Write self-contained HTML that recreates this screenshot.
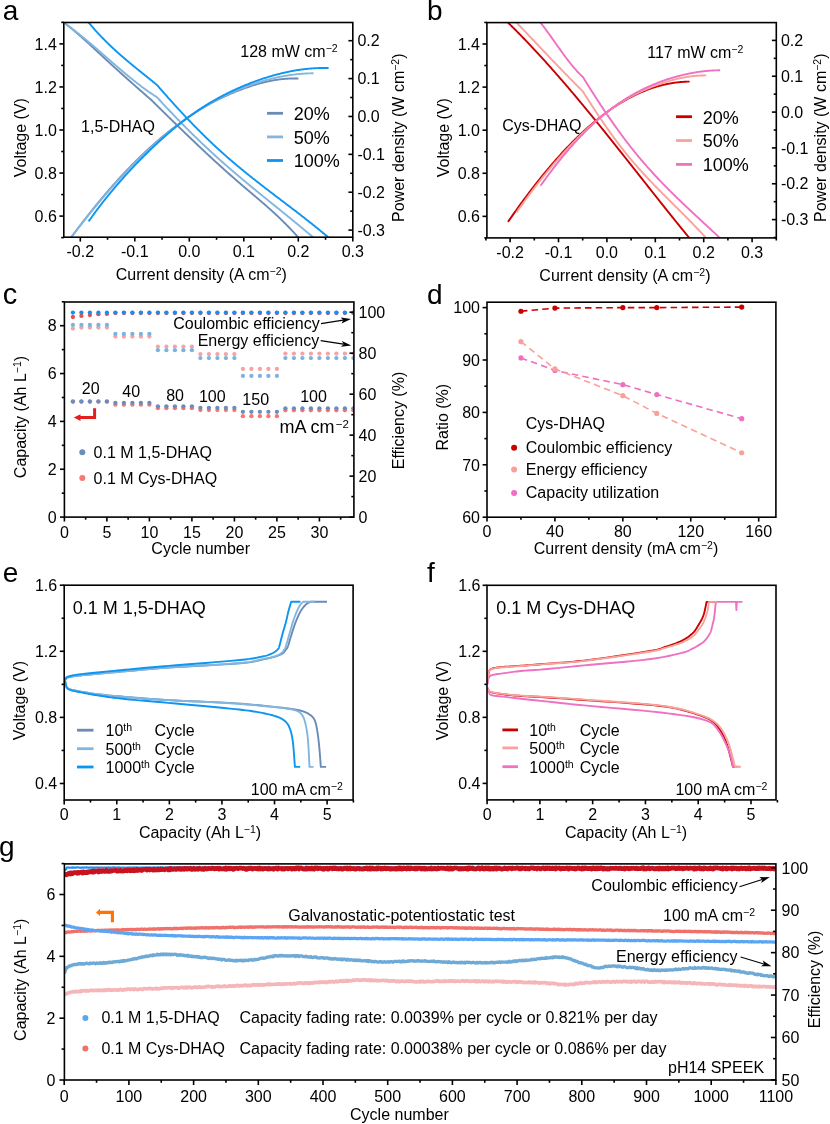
<!DOCTYPE html>
<html><head><meta charset="utf-8"><style>
html,body{margin:0;padding:0;background:#fff;overflow:hidden;}
svg{display:block;will-change:transform;}
svg text{font-family:"Liberation Sans",sans-serif;}
</style></head><body>
<svg width="830" height="1124" viewBox="0 0 830 1124">
<rect width="830" height="1124" fill="#fff"/>
<clipPath id="ca"><rect x="63.8" y="22.5" width="289" height="214.7"/></clipPath>
<polyline points="63.8,22.5 64.5,23.02 65.2,23.55 65.9,24.08 66.59,24.62 67.29,25.16 67.99,25.7 68.69,26.26 69.39,26.81 70.09,27.37 70.78,27.94 71.48,28.5 72.18,29.08 72.88,29.65 73.58,30.23 74.28,30.82 74.97,31.41 75.67,32 76.37,32.59 77.07,33.19 77.77,33.79 78.47,34.4 79.16,35.01 79.86,35.62 80.56,36.23 81.26,36.85 81.96,37.46 82.66,38.09 83.36,38.71 84.05,39.34 84.75,39.96 85.45,40.59 86.15,41.23 86.85,41.86 87.55,42.5 88.24,43.13 88.94,43.77 89.64,44.41 90.34,45.06 91.04,45.7 91.74,46.34 92.43,46.99 93.13,47.64 93.83,48.28 94.53,48.93 95.23,49.58 95.93,50.23 96.62,50.88 97.32,51.53 98.02,52.18 98.72,52.83 99.42,53.48 100.12,54.13 100.82,54.78 101.51,55.43 102.21,56.08 102.91,56.72 103.61,57.37 104.31,58.02 105.01,58.66 105.7,59.31 106.4,59.95 107.1,60.6 107.8,61.24 108.5,61.88 109.2,62.52 109.89,63.17 110.59,63.8 111.29,64.44 111.99,65.08 112.69,65.72 113.39,66.36 114.08,66.99 114.78,67.63 115.48,68.26 116.18,68.9 116.88,69.53 117.58,70.16 118.28,70.79 118.97,71.42 119.67,72.05 120.37,72.68 121.07,73.31 121.77,73.94 122.47,74.57 123.16,75.2 123.86,75.82 124.56,76.45 125.26,77.07 125.96,77.7 126.66,78.32 127.35,78.94 128.05,79.57 128.75,80.19 129.45,80.81 130.15,81.43 130.85,82.05 131.54,82.67 132.24,83.29 132.94,83.91 133.64,84.52 134.34,85.14 135.04,85.76 135.74,86.37 136.43,86.99 137.13,87.6 137.83,88.22 138.53,88.83 139.23,89.45 139.93,90.06 140.62,90.67 141.32,91.28 142.02,91.89 142.72,92.5 143.42,93.11 144.12,93.72 144.81,94.33 145.51,94.94 146.21,95.55 146.91,96.16 147.61,96.77 148.31,97.37 149,97.98 149.7,98.59 150.4,99.19 151.1,99.8 151.1,99.8 151.8,100.49 152.5,101.17 153.19,101.86 153.89,102.55 154.59,103.23 155.29,103.92 155.99,104.61 156.68,105.29 157.38,105.98 158.08,106.66 158.78,107.35 159.48,108.03 160.18,108.72 160.87,109.41 161.57,110.09 162.27,110.78 162.97,111.46 163.67,112.14 164.36,112.83 165.06,113.51 165.76,114.2 166.46,114.88 167.16,115.56 167.85,116.24 168.55,116.93 169.25,117.61 169.95,118.29 170.65,118.97 171.35,119.65 172.04,120.33 172.74,121.02 173.44,121.7 174.14,122.38 174.84,123.05 175.53,123.73 176.23,124.41 176.93,125.09 177.63,125.77 178.33,126.45 179.02,127.12 179.72,127.8 180.42,128.48 181.12,129.15 181.82,129.83 182.51,130.5 183.21,131.17 183.91,131.85 184.61,132.52 185.31,133.19 186.01,133.87 186.7,134.54 187.4,135.21 188.1,135.88 188.8,136.55 189.5,137.22 190.19,137.89 190.89,138.55 191.59,139.22 192.29,139.89 192.99,140.55 193.68,141.22 194.38,141.88 195.08,142.55 195.78,143.21 196.48,143.87 197.17,144.54 197.87,145.2 198.57,145.86 199.27,146.52 199.97,147.18 200.67,147.84 201.36,148.49 202.06,149.15 202.76,149.81 203.46,150.46 204.16,151.12 204.85,151.77 205.55,152.42 206.25,153.08 206.95,153.73 207.65,154.38 208.34,155.03 209.04,155.68 209.74,156.32 210.44,156.97 211.14,157.62 211.84,158.26 212.53,158.91 213.23,159.55 213.93,160.19 214.63,160.84 215.33,161.48 216.02,162.12 216.72,162.75 217.42,163.39 218.12,164.03 218.82,164.66 219.51,165.3 220.21,165.93 220.91,166.57 221.61,167.2 222.31,167.83 223,168.46 223.7,169.09 224.4,169.71 225.1,170.34 225.8,170.97 226.5,171.59 227.19,172.21 227.89,172.84 228.59,173.46 229.29,174.08 229.99,174.69 230.68,175.31 231.38,175.93 232.08,176.54 232.78,177.16 233.48,177.77 234.17,178.38 234.87,178.99 235.57,179.6 236.27,180.21 236.97,180.82 237.66,181.42 238.36,182.02 239.06,182.63 239.76,183.23 240.46,183.83 241.16,184.43 241.85,185.03 242.55,185.62 243.25,186.22 243.95,186.81 244.65,187.41 245.34,188 246.04,188.59 246.74,189.19 247.44,189.78 248.14,190.37 248.83,190.96 249.53,191.55 250.23,192.14 250.93,192.73 251.63,193.32 252.33,193.91 253.02,194.5 253.72,195.1 254.42,195.69 255.12,196.28 255.82,196.87 256.51,197.47 257.21,198.06 257.91,198.66 258.61,199.25 259.31,199.85 260,200.45 260.7,201.05 261.4,201.65 262.1,202.25 262.8,202.85 263.49,203.46 264.19,204.07 264.89,204.67 265.59,205.28 266.29,205.9 266.99,206.51 267.68,207.13 268.38,207.75 269.08,208.37 269.78,208.99 270.48,209.61 271.17,210.24 271.87,210.87 272.57,211.5 273.27,212.14 273.97,212.78 274.66,213.42 275.36,214.06 276.06,214.71 276.76,215.36 277.46,216.02 278.15,216.67 278.85,217.34 279.55,218 280.25,218.67 280.95,219.34 281.65,220.01 282.34,220.69 283.04,221.38 283.74,222.07 284.44,222.76 285.14,223.45 285.83,224.15 286.53,224.86 287.23,225.57 287.93,226.28 288.63,227 289.32,227.72 290.02,228.45 290.72,229.18 291.42,229.92 292.12,230.66 292.82,231.41 293.51,232.16 294.21,232.92 294.91,233.69 295.61,234.46 296.31,235.23 297,236.01 297.7,236.8 298.4,237.59" fill="none" stroke="#6b8bb6" stroke-width="1.9" stroke-linejoin="round" stroke-linecap="butt" clip-path="url(#ca)"/>
<polyline points="63.8,247.26 64.5,246.31 65.2,245.36 65.89,244.41 66.59,243.47 67.29,242.52 67.99,241.58 68.69,240.64 69.39,239.69 70.08,238.76 70.78,237.82 71.48,236.88 72.18,235.95 72.88,235.02 73.57,234.09 74.27,233.16 74.97,232.23 75.67,231.31 76.37,230.38 77.07,229.46 77.76,228.54 78.46,227.63 79.16,226.71 79.86,225.8 80.56,224.89 81.26,223.98 81.95,223.07 82.65,222.17 83.35,221.27 84.05,220.37 84.75,219.47 85.44,218.57 86.14,217.68 86.84,216.79 87.54,215.9 88.24,215.02 88.94,214.13 89.63,213.25 90.33,212.38 91.03,211.5 91.73,210.63 92.43,209.76 93.12,208.89 93.82,208.02 94.52,207.16 95.22,206.3 95.92,205.45 96.62,204.59 97.31,203.74 98.01,202.89 98.71,202.05 99.41,201.2 100.11,200.36 100.81,199.52 101.5,198.69 102.2,197.86 102.9,197.03 103.6,196.2 104.3,195.38 104.99,194.56 105.69,193.74 106.39,192.92 107.09,192.11 107.79,191.3 108.49,190.49 109.18,189.69 109.88,188.89 110.58,188.09 111.28,187.29 111.98,186.5 112.67,185.71 113.37,184.92 114.07,184.13 114.77,183.35 115.47,182.57 116.17,181.8 116.86,181.02 117.56,180.25 118.26,179.48 118.96,178.72 119.66,177.96 120.36,177.2 121.05,176.44 121.75,175.69 122.45,174.94 123.15,174.19 123.85,173.45 124.54,172.7 125.24,171.96 125.94,171.23 126.64,170.49 127.34,169.76 128.04,169.04 128.73,168.31 129.43,167.59 130.13,166.87 130.83,166.15 131.53,165.44 132.22,164.73 132.92,164.02 133.62,163.32 134.32,162.62 135.02,161.92 135.72,161.22 136.41,160.53 137.11,159.84 137.81,159.15 138.51,158.47 139.21,157.79 139.91,157.11 140.6,156.43 141.3,155.76 142,155.09 142.7,154.42 143.4,153.76 144.09,153.1 144.79,152.44 145.49,151.78 146.19,151.13 146.89,150.48 147.59,149.83 148.28,149.19 148.98,148.55 149.68,147.91 150.38,147.28 151.08,146.64 151.77,146.01 152.47,145.39 153.17,144.76 153.87,144.14 154.57,143.53 155.27,142.91 155.96,142.3 156.66,141.69 157.36,141.09 158.06,140.48 158.76,139.88 159.46,139.29 160.15,138.69 160.85,138.1 161.55,137.51 162.25,136.93 162.95,136.34 163.64,135.76 164.34,135.19 165.04,134.61 165.74,134.04 166.44,133.47 167.14,132.91 167.83,132.35 168.53,131.79 169.23,131.23 169.93,130.68 170.63,130.13 171.32,129.58 172.02,129.04 172.72,128.49 173.42,127.96 174.12,127.42 174.82,126.89 175.51,126.36 176.21,125.83 176.91,125.31 177.61,124.79 178.31,124.27 179.01,123.75 179.7,123.24 180.4,122.73 181.1,122.23 181.8,121.72 182.5,121.22 183.19,120.72 183.89,120.23 184.59,119.74 185.29,119.25 185.99,118.76 186.69,118.28 187.38,117.8 188.08,117.33 188.78,116.85 189.48,116.38 190.18,115.91 190.87,115.45 191.57,114.99 192.27,114.53 192.97,114.07 193.67,113.62 194.37,113.17 195.06,112.72 195.76,112.28 196.46,111.83 197.16,111.4 197.86,110.96 198.56,110.53 199.25,110.1 199.95,109.67 200.65,109.25 201.35,108.83 202.05,108.41 202.74,107.99 203.44,107.58 204.14,107.17 204.84,106.77 205.54,106.36 206.24,105.96 206.93,105.57 207.63,105.17 208.33,104.78 209.03,104.39 209.73,104.01 210.42,103.62 211.12,103.24 211.82,102.87 212.52,102.49 213.22,102.12 213.92,101.75 214.61,101.39 215.31,101.03 216.01,100.67 216.71,100.31 217.41,99.96 218.11,99.6 218.8,99.26 219.5,98.91 220.2,98.57 220.9,98.23 221.6,97.89 222.29,97.56 222.99,97.22 223.69,96.9 224.39,96.57 225.09,96.25 225.79,95.92 226.48,95.61 227.18,95.29 227.88,94.98 228.58,94.67 229.28,94.36 229.97,94.05 230.67,93.75 231.37,93.45 232.07,93.15 232.77,92.86 233.47,92.57 234.16,92.28 234.86,91.99 235.56,91.7 236.26,91.42 236.96,91.14 237.66,90.86 238.35,90.59 239.05,90.32 239.75,90.05 240.45,89.78 241.15,89.51 241.84,89.25 242.54,88.99 243.24,88.73 243.94,88.48 244.64,88.22 245.34,87.97 246.03,87.73 246.73,87.48 247.43,87.24 248.13,87 248.83,86.76 249.52,86.53 250.22,86.3 250.92,86.07 251.62,85.84 252.32,85.62 253.02,85.4 253.71,85.18 254.41,84.97 255.11,84.76 255.81,84.55 256.51,84.34 257.21,84.14 257.9,83.94 258.6,83.75 259.3,83.55 260,83.36 260.7,83.18 261.39,82.99 262.09,82.81 262.79,82.64 263.49,82.46 264.19,82.29 264.89,82.13 265.58,81.96 266.28,81.8 266.98,81.65 267.68,81.49 268.38,81.34 269.07,81.2 269.77,81.05 270.47,80.91 271.17,80.78 271.87,80.64 272.57,80.52 273.26,80.39 273.96,80.27 274.66,80.15 275.36,80.04 276.06,79.93 276.76,79.82 277.45,79.72 278.15,79.62 278.85,79.52 279.55,79.43 280.25,79.34 280.94,79.26 281.64,79.18 282.34,79.11 283.04,79.03 283.74,78.97 284.44,78.9 285.13,78.84 285.83,78.79 286.53,78.74 287.23,78.69 287.93,78.65 288.62,78.61 289.32,78.57 290.02,78.54 290.72,78.52 291.42,78.5 292.12,78.48 292.81,78.47 293.51,78.46 294.21,78.45 294.91,78.45 295.61,78.46 296.31,78.47 297,78.48 297.7,78.5 298.4,78.52" fill="none" stroke="#6b8bb6" stroke-width="1.9" stroke-linejoin="round" stroke-linecap="butt" clip-path="url(#ca)"/>
<polyline points="63.8,22.5 64.5,22.99 65.19,23.49 65.89,23.98 66.58,24.49 67.28,24.99 67.97,25.5 68.67,26.02 69.36,26.53 70.06,27.06 70.76,27.58 71.45,28.11 72.15,28.64 72.84,29.17 73.54,29.71 74.23,30.25 74.93,30.79 75.62,31.33 76.32,31.88 77.01,32.43 77.71,32.98 78.41,33.54 79.1,34.1 79.8,34.66 80.49,35.22 81.19,35.79 81.88,36.36 82.58,36.93 83.27,37.5 83.97,38.07 84.67,38.65 85.36,39.23 86.06,39.81 86.75,40.39 87.45,40.97 88.14,41.56 88.84,42.15 89.53,42.73 90.23,43.32 90.93,43.92 91.62,44.51 92.32,45.1 93.01,45.7 93.71,46.3 94.4,46.89 95.1,47.49 95.79,48.09 96.49,48.69 97.19,49.29 97.88,49.9 98.58,50.5 99.27,51.1 99.97,51.71 100.66,52.31 101.36,52.92 102.05,53.53 102.75,54.13 103.44,54.74 104.14,55.34 104.84,55.95 105.53,56.56 106.23,57.17 106.92,57.77 107.62,58.38 108.31,58.99 109.01,59.59 109.7,60.2 110.4,60.8 111.1,61.41 111.79,62.01 112.49,62.62 113.18,63.22 113.88,63.83 114.57,64.43 115.27,65.03 115.96,65.63 116.66,66.23 117.36,66.83 118.05,67.43 118.75,68.02 119.44,68.62 120.14,69.21 120.83,69.8 121.53,70.4 122.22,70.99 122.92,71.57 123.61,72.16 124.31,72.75 125.01,73.33 125.7,73.91 126.4,74.49 127.09,75.07 127.79,75.64 128.48,76.22 129.18,76.79 129.87,77.36 130.57,77.93 131.27,78.49 131.96,79.05 132.66,79.61 133.35,80.17 134.05,80.73 134.74,81.28 135.44,81.83 136.13,82.38 136.83,82.92 137.53,83.46 138.22,84 138.92,84.54 139.61,85.07 140.31,85.6 141,86.13 141.7,86.65 142.39,87.17 143.09,87.68 143.79,88.2 144.48,88.71 145.18,89.21 145.87,89.71 146.57,90.21 147.26,90.71 147.96,91.2 148.65,91.68 149.35,92.17 150.04,92.65 150.74,93.12 151.44,93.59 152.13,94.06 152.83,94.52 153.52,94.98 154.22,95.43 154.91,95.88 155.61,96.33 156.3,96.76 157,97.2 157,97.19 157.7,97.96 158.4,98.72 159.1,99.49 159.79,100.25 160.49,101.01 161.19,101.77 161.89,102.53 162.59,103.28 163.29,104.04 163.99,104.79 164.69,105.54 165.38,106.29 166.08,107.04 166.78,107.79 167.48,108.53 168.18,109.27 168.88,110.02 169.58,110.76 170.27,111.49 170.97,112.23 171.67,112.97 172.37,113.7 173.07,114.43 173.77,115.16 174.47,115.89 175.17,116.62 175.86,117.34 176.56,118.07 177.26,118.79 177.96,119.51 178.66,120.23 179.36,120.95 180.06,121.66 180.75,122.38 181.45,123.09 182.15,123.8 182.85,124.51 183.55,125.22 184.25,125.93 184.95,126.63 185.65,127.33 186.34,128.04 187.04,128.74 187.74,129.43 188.44,130.13 189.14,130.83 189.84,131.52 190.54,132.21 191.23,132.9 191.93,133.59 192.63,134.28 193.33,134.96 194.03,135.65 194.73,136.33 195.43,137.01 196.12,137.69 196.82,138.37 197.52,139.05 198.22,139.72 198.92,140.39 199.62,141.06 200.32,141.73 201.02,142.4 201.71,143.07 202.41,143.73 203.11,144.4 203.81,145.06 204.51,145.72 205.21,146.38 205.91,147.03 206.6,147.69 207.3,148.34 208,149 208.7,149.65 209.4,150.3 210.1,150.94 210.8,151.59 211.5,152.23 212.19,152.88 212.89,153.52 213.59,154.16 214.29,154.79 214.99,155.43 215.69,156.06 216.39,156.7 217.08,157.33 217.78,157.96 218.48,158.59 219.18,159.21 219.88,159.84 220.58,160.46 221.28,161.08 221.98,161.7 222.67,162.32 223.37,162.94 224.07,163.56 224.77,164.17 225.47,164.79 226.17,165.4 226.87,166.01 227.56,166.62 228.26,167.22 228.96,167.83 229.66,168.44 230.36,169.04 231.06,169.64 231.76,170.25 232.46,170.85 233.15,171.44 233.85,172.04 234.55,172.64 235.25,173.23 235.95,173.83 236.65,174.42 237.35,175.02 238.04,175.61 238.74,176.2 239.44,176.79 240.14,177.37 240.84,177.96 241.54,178.55 242.24,179.13 242.94,179.72 243.63,180.3 244.33,180.89 245.03,181.47 245.73,182.05 246.43,182.63 247.13,183.21 247.83,183.79 248.52,184.37 249.22,184.94 249.92,185.52 250.62,186.1 251.32,186.67 252.02,187.25 252.72,187.82 253.42,188.39 254.11,188.97 254.81,189.54 255.51,190.11 256.21,190.68 256.91,191.25 257.61,191.82 258.31,192.39 259,192.96 259.7,193.53 260.4,194.1 261.1,194.66 261.8,195.23 262.5,195.8 263.2,196.37 263.9,196.93 264.59,197.5 265.29,198.07 265.99,198.63 266.69,199.2 267.39,199.76 268.09,200.33 268.79,200.89 269.48,201.46 270.18,202.02 270.88,202.59 271.58,203.15 272.28,203.71 272.98,204.28 273.68,204.84 274.38,205.41 275.07,205.97 275.77,206.54 276.47,207.1 277.17,207.67 277.87,208.23 278.57,208.79 279.27,209.36 279.96,209.92 280.66,210.49 281.36,211.05 282.06,211.62 282.76,212.19 283.46,212.75 284.16,213.32 284.85,213.88 285.55,214.45 286.25,215.02 286.95,215.59 287.65,216.15 288.35,216.72 289.05,217.29 289.75,217.86 290.44,218.43 291.14,219 291.84,219.57 292.54,220.14 293.24,220.71 293.94,221.28 294.64,221.86 295.33,222.43 296.03,223 296.73,223.58 297.43,224.15 298.13,224.73 298.83,225.3 299.53,225.88 300.23,226.46 300.92,227.04 301.62,227.62 302.32,228.2 303.02,228.78 303.72,229.36 304.42,229.94 305.12,230.52 305.81,231.11 306.51,231.69 307.21,232.28 307.91,232.87 308.61,233.45 309.31,234.04 310.01,234.63 310.71,235.22 311.4,235.82 312.1,236.41 312.8,237 313.5,237.6" fill="none" stroke="#82b6de" stroke-width="1.9" stroke-linejoin="round" stroke-linecap="butt" clip-path="url(#ca)"/>
<polyline points="63.8,247.26 64.5,246.32 65.2,245.39 65.9,244.45 66.6,243.51 67.3,242.58 68,241.65 68.7,240.72 69.4,239.79 70.09,238.87 70.79,237.94 71.49,237.02 72.19,236.1 72.89,235.18 73.59,234.26 74.29,233.35 74.99,232.44 75.69,231.52 76.39,230.62 77.09,229.71 77.79,228.8 78.49,227.9 79.19,227 79.89,226.1 80.59,225.2 81.29,224.3 81.99,223.41 82.68,222.52 83.38,221.63 84.08,220.74 84.78,219.85 85.48,218.97 86.18,218.09 86.88,217.21 87.58,216.33 88.28,215.46 88.98,214.58 89.68,213.71 90.38,212.84 91.08,211.98 91.78,211.11 92.48,210.25 93.18,209.39 93.88,208.53 94.58,207.68 95.27,206.83 95.97,205.98 96.67,205.13 97.37,204.28 98.07,203.44 98.77,202.6 99.47,201.76 100.17,200.92 100.87,200.09 101.57,199.26 102.27,198.43 102.97,197.6 103.67,196.78 104.37,195.96 105.07,195.14 105.77,194.33 106.47,193.51 107.17,192.7 107.86,191.89 108.56,191.09 109.26,190.28 109.96,189.48 110.66,188.69 111.36,187.89 112.06,187.1 112.76,186.31 113.46,185.52 114.16,184.74 114.86,183.96 115.56,183.18 116.26,182.4 116.96,181.63 117.66,180.86 118.36,180.09 119.06,179.33 119.76,178.57 120.45,177.81 121.15,177.05 121.85,176.3 122.55,175.55 123.25,174.81 123.95,174.06 124.65,173.32 125.35,172.58 126.05,171.85 126.75,171.12 127.45,170.39 128.15,169.66 128.85,168.94 129.55,168.22 130.25,167.5 130.95,166.79 131.65,166.08 132.35,165.37 133.04,164.67 133.74,163.97 134.44,163.27 135.14,162.57 135.84,161.88 136.54,161.19 137.24,160.5 137.94,159.81 138.64,159.13 139.34,158.45 140.04,157.78 140.74,157.1 141.44,156.43 142.14,155.76 142.84,155.09 143.54,154.43 144.24,153.77 144.94,153.11 145.63,152.46 146.33,151.8 147.03,151.15 147.73,150.5 148.43,149.86 149.13,149.22 149.83,148.58 150.53,147.94 151.23,147.3 151.93,146.67 152.63,146.04 153.33,145.41 154.03,144.78 154.73,144.16 155.43,143.54 156.13,142.92 156.83,142.3 157.52,141.69 158.22,141.07 158.92,140.46 159.62,139.86 160.32,139.25 161.02,138.65 161.72,138.05 162.42,137.45 163.12,136.85 163.82,136.26 164.52,135.67 165.22,135.08 165.92,134.49 166.62,133.91 167.32,133.33 168.02,132.75 168.72,132.18 169.42,131.6 170.11,131.03 170.81,130.47 171.51,129.9 172.21,129.34 172.91,128.78 173.61,128.22 174.31,127.67 175.01,127.12 175.71,126.57 176.41,126.02 177.11,125.48 177.81,124.94 178.51,124.4 179.21,123.87 179.91,123.34 180.61,122.81 181.31,122.28 182.01,121.76 182.7,121.24 183.4,120.73 184.1,120.21 184.8,119.71 185.5,119.2 186.2,118.69 186.9,118.19 187.6,117.7 188.3,117.2 189,116.71 189.7,116.23 190.4,115.74 191.1,115.26 191.8,114.78 192.5,114.31 193.2,113.84 193.9,113.37 194.6,112.9 195.29,112.44 195.99,111.98 196.69,111.52 197.39,111.07 198.09,110.62 198.79,110.18 199.49,109.73 200.19,109.29 200.89,108.85 201.59,108.42 202.29,107.99 202.99,107.56 203.69,107.14 204.39,106.71 205.09,106.29 205.79,105.88 206.49,105.46 207.19,105.05 207.88,104.65 208.58,104.24 209.28,103.84 209.98,103.44 210.68,103.05 211.38,102.66 212.08,102.27 212.78,101.88 213.48,101.49 214.18,101.11 214.88,100.74 215.58,100.36 216.28,99.99 216.98,99.62 217.68,99.25 218.38,98.89 219.08,98.52 219.78,98.17 220.47,97.81 221.17,97.46 221.87,97.11 222.57,96.76 223.27,96.42 223.97,96.07 224.67,95.73 225.37,95.4 226.07,95.06 226.77,94.73 227.47,94.4 228.17,94.08 228.87,93.75 229.57,93.43 230.27,93.12 230.97,92.8 231.67,92.49 232.36,92.18 233.06,91.87 233.76,91.56 234.46,91.26 235.16,90.96 235.86,90.67 236.56,90.37 237.26,90.08 237.96,89.79 238.66,89.5 239.36,89.22 240.06,88.93 240.76,88.65 241.46,88.38 242.16,88.1 242.86,87.83 243.56,87.56 244.26,87.29 244.95,87.03 245.65,86.77 246.35,86.51 247.05,86.25 247.75,85.99 248.45,85.74 249.15,85.49 249.85,85.24 250.55,84.99 251.25,84.75 251.95,84.51 252.65,84.27 253.35,84.03 254.05,83.8 254.75,83.57 255.45,83.34 256.15,83.11 256.85,82.88 257.54,82.66 258.24,82.44 258.94,82.22 259.64,82.01 260.34,81.8 261.04,81.59 261.74,81.38 262.44,81.17 263.14,80.97 263.84,80.77 264.54,80.57 265.24,80.37 265.94,80.18 266.64,79.99 267.34,79.8 268.04,79.61 268.74,79.43 269.44,79.25 270.13,79.07 270.83,78.9 271.53,78.72 272.23,78.55 272.93,78.38 273.63,78.22 274.33,78.06 275.03,77.89 275.73,77.74 276.43,77.58 277.13,77.43 277.83,77.28 278.53,77.13 279.23,76.99 279.93,76.85 280.63,76.71 281.33,76.57 282.03,76.43 282.72,76.3 283.42,76.17 284.12,76.05 284.82,75.92 285.52,75.8 286.22,75.69 286.92,75.57 287.62,75.46 288.32,75.35 289.02,75.24 289.72,75.14 290.42,75.04 291.12,74.94 291.82,74.84 292.52,74.75 293.22,74.66 293.92,74.57 294.62,74.48 295.31,74.4 296.01,74.32 296.71,74.25 297.41,74.17 298.11,74.1 298.81,74.04 299.51,73.97 300.21,73.91 300.91,73.85 301.61,73.79 302.31,73.74 303.01,73.69 303.71,73.64 304.41,73.6 305.11,73.56 305.81,73.52 306.51,73.48 307.21,73.45 307.9,73.42 308.6,73.39 309.3,73.37 310,73.35 310.7,73.33 311.4,73.31 312.1,73.3 312.8,73.29 313.5,73.29" fill="none" stroke="#82b6de" stroke-width="1.9" stroke-linejoin="round" stroke-linecap="butt" clip-path="url(#ca)"/>
<polyline points="88.6,22.5 89.3,23.34 90,24.17 90.7,24.99 91.4,25.81 92.09,26.61 92.79,27.42 93.49,28.21 94.19,29 94.89,29.79 95.59,30.56 96.29,31.34 96.99,32.1 97.69,32.86 98.39,33.61 99.08,34.36 99.78,35.1 100.48,35.84 101.18,36.57 101.88,37.3 102.58,38.02 103.28,38.74 103.98,39.45 104.68,40.15 105.38,40.85 106.07,41.55 106.77,42.24 107.47,42.93 108.17,43.61 108.87,44.29 109.57,44.96 110.27,45.63 110.97,46.29 111.67,46.95 112.37,47.61 113.06,48.26 113.76,48.91 114.46,49.55 115.16,50.2 115.86,50.83 116.56,51.47 117.26,52.1 117.96,52.72 118.66,53.35 119.36,53.97 120.05,54.59 120.75,55.2 121.45,55.81 122.15,56.42 122.85,57.03 123.55,57.63 124.25,58.23 124.95,58.83 125.65,59.42 126.34,60.02 127.04,60.61 127.74,61.2 128.44,61.78 129.14,62.37 129.84,62.95 130.54,63.53 131.24,64.11 131.94,64.69 132.64,65.26 133.33,65.84 134.03,66.41 134.73,66.98 135.43,67.55 136.13,68.12 136.83,68.69 137.53,69.26 138.23,69.82 138.93,70.39 139.63,70.96 140.32,71.52 141.02,72.08 141.72,72.65 142.42,73.21 143.12,73.77 143.82,74.34 144.52,74.9 145.22,75.46 145.92,76.02 146.62,76.59 147.31,77.15 148.01,77.71 148.71,78.28 149.41,78.84 150.11,79.41 150.81,79.97 151.51,80.54 152.21,81.1 152.91,81.67 153.61,82.24 154.3,82.81 155,83.38 155.7,83.95 156.4,84.53 157.1,85.1 157.1,85.09 157.8,85.89 158.49,86.7 159.19,87.5 159.89,88.3 160.59,89.1 161.28,89.9 161.98,90.7 162.68,91.5 163.37,92.29 164.07,93.08 164.77,93.87 165.47,94.66 166.16,95.45 166.86,96.24 167.56,97.02 168.25,97.8 168.95,98.59 169.65,99.36 170.35,100.14 171.04,100.92 171.74,101.69 172.44,102.47 173.13,103.24 173.83,104.01 174.53,104.78 175.23,105.54 175.92,106.31 176.62,107.07 177.32,107.83 178.01,108.59 178.71,109.35 179.41,110.1 180.11,110.86 180.8,111.61 181.5,112.36 182.2,113.11 182.89,113.85 183.59,114.6 184.29,115.34 184.99,116.08 185.68,116.82 186.38,117.56 187.08,118.29 187.77,119.03 188.47,119.76 189.17,120.49 189.87,121.22 190.56,121.94 191.26,122.67 191.96,123.39 192.65,124.11 193.35,124.82 194.05,125.54 194.75,126.25 195.44,126.97 196.14,127.68 196.84,128.38 197.53,129.09 198.23,129.79 198.93,130.49 199.63,131.19 200.32,131.89 201.02,132.59 201.72,133.28 202.42,133.97 203.11,134.66 203.81,135.35 204.51,136.03 205.2,136.71 205.9,137.39 206.6,138.07 207.3,138.75 207.99,139.42 208.69,140.09 209.39,140.76 210.08,141.43 210.78,142.09 211.48,142.76 212.18,143.42 212.87,144.07 213.57,144.73 214.27,145.38 214.96,146.03 215.66,146.68 216.36,147.33 217.06,147.97 217.75,148.61 218.45,149.25 219.15,149.89 219.84,150.53 220.54,151.16 221.24,151.79 221.94,152.41 222.63,153.04 223.33,153.66 224.03,154.28 224.72,154.9 225.42,155.52 226.12,156.13 226.82,156.75 227.51,157.36 228.21,157.96 228.91,158.57 229.6,159.17 230.3,159.78 231,160.38 231.7,160.97 232.39,161.57 233.09,162.16 233.79,162.76 234.48,163.35 235.18,163.94 235.88,164.52 236.58,165.11 237.27,165.69 237.97,166.27 238.67,166.85 239.36,167.43 240.06,168.01 240.76,168.58 241.46,169.16 242.15,169.73 242.85,170.3 243.55,170.87 244.24,171.44 244.94,172 245.64,172.57 246.34,173.13 247.03,173.7 247.73,174.26 248.43,174.82 249.12,175.37 249.82,175.93 250.52,176.49 251.22,177.04 251.91,177.6 252.61,178.15 253.31,178.7 254,179.25 254.7,179.8 255.4,180.35 256.1,180.9 256.79,181.44 257.49,181.99 258.19,182.53 258.88,183.08 259.58,183.62 260.28,184.16 260.98,184.7 261.67,185.24 262.37,185.78 263.07,186.32 263.76,186.86 264.46,187.4 265.16,187.93 265.86,188.47 266.55,189.01 267.25,189.54 267.95,190.07 268.64,190.61 269.34,191.14 270.04,191.68 270.74,192.21 271.43,192.74 272.13,193.27 272.83,193.8 273.52,194.34 274.22,194.87 274.92,195.4 275.62,195.93 276.31,196.46 277.01,196.99 277.71,197.52 278.4,198.05 279.1,198.58 279.8,199.11 280.5,199.64 281.19,200.17 281.89,200.7 282.59,201.23 283.28,201.76 283.98,202.28 284.68,202.81 285.38,203.34 286.07,203.88 286.77,204.41 287.47,204.94 288.17,205.47 288.86,206 289.56,206.53 290.26,207.06 290.95,207.59 291.65,208.13 292.35,208.66 293.05,209.19 293.74,209.73 294.44,210.26 295.14,210.79 295.83,211.33 296.53,211.87 297.23,212.4 297.93,212.94 298.62,213.48 299.32,214.02 300.02,214.55 300.71,215.09 301.41,215.64 302.11,216.18 302.81,216.72 303.5,217.26 304.2,217.81 304.9,218.35 305.59,218.9 306.29,219.44 306.99,219.99 307.69,220.54 308.38,221.09 309.08,221.64 309.78,222.19 310.47,222.75 311.17,223.3 311.87,223.85 312.57,224.41 313.26,224.97 313.96,225.53 314.66,226.09 315.35,226.65 316.05,227.21 316.75,227.78 317.45,228.34 318.14,228.91 318.84,229.48 319.54,230.05 320.23,230.62 320.93,231.19 321.63,231.77 322.33,232.34 323.02,232.92 323.72,233.5 324.42,234.08 325.11,234.66 325.81,235.25 326.51,235.83 327.21,236.42 327.9,237.01 328.6,237.6" fill="none" stroke="#0d95f2" stroke-width="1.9" stroke-linejoin="round" stroke-linecap="butt" clip-path="url(#ca)"/>
<polyline points="88.6,221.39 89.3,220.4 90,219.42 90.7,218.44 91.4,217.46 92.1,216.49 92.8,215.53 93.5,214.57 94.2,213.61 94.9,212.67 95.6,211.72 96.3,210.78 97,209.85 97.7,208.92 98.4,207.99 99.1,207.07 99.8,206.16 100.5,205.25 101.19,204.34 101.89,203.44 102.59,202.54 103.29,201.65 103.99,200.76 104.69,199.88 105.39,199 106.09,198.12 106.79,197.25 107.49,196.39 108.19,195.52 108.89,194.66 109.59,193.81 110.29,192.96 110.99,192.11 111.69,191.27 112.39,190.43 113.09,189.6 113.79,188.77 114.49,187.94 115.19,187.12 115.89,186.29 116.59,185.48 117.29,184.67 117.99,183.86 118.69,183.05 119.39,182.25 120.09,181.45 120.79,180.65 121.49,179.86 122.19,179.07 122.89,178.28 123.59,177.5 124.29,176.72 124.98,175.95 125.68,175.17 126.38,174.4 127.08,173.64 127.78,172.87 128.48,172.11 129.18,171.35 129.88,170.6 130.58,169.85 131.28,169.1 131.98,168.35 132.68,167.61 133.38,166.87 134.08,166.13 134.78,165.4 135.48,164.67 136.18,163.94 136.88,163.21 137.58,162.49 138.28,161.77 138.98,161.05 139.68,160.34 140.38,159.63 141.08,158.92 141.78,158.21 142.48,157.51 143.18,156.81 143.88,156.11 144.58,155.41 145.28,154.72 145.98,154.03 146.68,153.34 147.38,152.65 148.08,151.97 148.77,151.29 149.47,150.61 150.17,149.93 150.87,149.26 151.57,148.59 152.27,147.92 152.97,147.25 153.67,146.59 154.37,145.92 155.07,145.27 155.77,144.61 156.47,143.95 157.17,143.3 157.87,142.65 158.57,142.01 159.27,141.36 159.97,140.72 160.67,140.08 161.37,139.45 162.07,138.82 162.77,138.19 163.47,137.56 164.17,136.93 164.87,136.31 165.57,135.69 166.27,135.08 166.97,134.46 167.67,133.85 168.37,133.25 169.07,132.64 169.77,132.04 170.47,131.44 171.17,130.85 171.87,130.26 172.57,129.67 173.26,129.08 173.96,128.5 174.66,127.92 175.36,127.34 176.06,126.77 176.76,126.2 177.46,125.63 178.16,125.07 178.86,124.51 179.56,123.95 180.26,123.39 180.96,122.84 181.66,122.3 182.36,121.75 183.06,121.21 183.76,120.67 184.46,120.14 185.16,119.61 185.86,119.08 186.56,118.55 187.26,118.03 187.96,117.51 188.66,117 189.36,116.48 190.06,115.98 190.76,115.47 191.46,114.97 192.16,114.47 192.86,113.97 193.56,113.48 194.26,112.99 194.96,112.5 195.66,112.02 196.36,111.54 197.05,111.06 197.75,110.59 198.45,110.12 199.15,109.65 199.85,109.18 200.55,108.72 201.25,108.26 201.95,107.81 202.65,107.36 203.35,106.91 204.05,106.46 204.75,106.02 205.45,105.58 206.15,105.14 206.85,104.71 207.55,104.28 208.25,103.85 208.95,103.43 209.65,103.01 210.35,102.59 211.05,102.18 211.75,101.76 212.45,101.35 213.15,100.95 213.85,100.55 214.55,100.15 215.25,99.75 215.95,99.35 216.65,98.96 217.35,98.57 218.05,98.19 218.75,97.81 219.45,97.43 220.15,97.05 220.84,96.67 221.54,96.3 222.24,95.93 222.94,95.57 223.64,95.2 224.34,94.84 225.04,94.48 225.74,94.13 226.44,93.78 227.14,93.43 227.84,93.08 228.54,92.73 229.24,92.39 229.94,92.05 230.64,91.71 231.34,91.38 232.04,91.05 232.74,90.71 233.44,90.39 234.14,90.06 234.84,89.74 235.54,89.42 236.24,89.1 236.94,88.78 237.64,88.47 238.34,88.16 239.04,87.85 239.74,87.54 240.44,87.24 241.14,86.94 241.84,86.64 242.54,86.34 243.24,86.05 243.94,85.75 244.63,85.46 245.33,85.17 246.03,84.89 246.73,84.6 247.43,84.32 248.13,84.04 248.83,83.76 249.53,83.49 250.23,83.22 250.93,82.95 251.63,82.68 252.33,82.41 253.03,82.15 253.73,81.89 254.43,81.63 255.13,81.37 255.83,81.12 256.53,80.86 257.23,80.61 257.93,80.37 258.63,80.12 259.33,79.88 260.03,79.64 260.73,79.4 261.43,79.16 262.13,78.93 262.83,78.69 263.53,78.46 264.23,78.24 264.93,78.01 265.63,77.79 266.33,77.57 267.03,77.35 267.73,77.13 268.43,76.92 269.12,76.71 269.82,76.5 270.52,76.29 271.22,76.08 271.92,75.88 272.62,75.68 273.32,75.48 274.02,75.28 274.72,75.09 275.42,74.9 276.12,74.71 276.82,74.52 277.52,74.34 278.22,74.15 278.92,73.98 279.62,73.8 280.32,73.62 281.02,73.45 281.72,73.28 282.42,73.11 283.12,72.95 283.82,72.78 284.52,72.62 285.22,72.47 285.92,72.31 286.62,72.16 287.32,72.01 288.02,71.86 288.72,71.71 289.42,71.57 290.12,71.43 290.82,71.29 291.52,71.16 292.22,71.03 292.91,70.9 293.61,70.77 294.31,70.65 295.01,70.52 295.71,70.41 296.41,70.29 297.11,70.18 297.81,70.06 298.51,69.96 299.21,69.85 299.91,69.75 300.61,69.65 301.31,69.55 302.01,69.46 302.71,69.36 303.41,69.28 304.11,69.19 304.81,69.11 305.51,69.03 306.21,68.95 306.91,68.87 307.61,68.8 308.31,68.73 309.01,68.67 309.71,68.6 310.41,68.54 311.11,68.49 311.81,68.43 312.51,68.38 313.21,68.33 313.91,68.29 314.61,68.24 315.31,68.2 316.01,68.17 316.7,68.13 317.4,68.1 318.1,68.08 318.8,68.05 319.5,68.03 320.2,68.01 320.9,68 321.6,67.98 322.3,67.98 323,67.97 323.7,67.97 324.4,67.97 325.1,67.97 325.8,67.98 326.5,67.99 327.2,68 327.9,68.02 328.6,68.04" fill="none" stroke="#0d95f2" stroke-width="1.9" stroke-linejoin="round" stroke-linecap="butt" clip-path="url(#ca)"/>
<rect x="63.8" y="22.5" width="289" height="214.7" fill="none" stroke="#000" stroke-width="1.6"/>
<line x1="59.4" y1="216.1" x2="63.8" y2="216.1" stroke="#000" stroke-width="1.6" />
<text x="56.8" y="221.8" font-size="16" text-anchor="end" fill="#000" >0.6</text>
<line x1="59.4" y1="173.05" x2="63.8" y2="173.05" stroke="#000" stroke-width="1.6" />
<text x="56.8" y="178.75" font-size="16" text-anchor="end" fill="#000" >0.8</text>
<line x1="59.4" y1="130" x2="63.8" y2="130" stroke="#000" stroke-width="1.6" />
<text x="56.8" y="135.7" font-size="16" text-anchor="end" fill="#000" >1.0</text>
<line x1="59.4" y1="86.95" x2="63.8" y2="86.95" stroke="#000" stroke-width="1.6" />
<text x="56.8" y="92.65" font-size="16" text-anchor="end" fill="#000" >1.2</text>
<line x1="59.4" y1="43.9" x2="63.8" y2="43.9" stroke="#000" stroke-width="1.6" />
<text x="56.8" y="49.6" font-size="16" text-anchor="end" fill="#000" >1.4</text>
<line x1="61.2" y1="237.62" x2="63.8" y2="237.62" stroke="#000" stroke-width="1.6" />
<line x1="61.2" y1="194.57" x2="63.8" y2="194.57" stroke="#000" stroke-width="1.6" />
<line x1="61.2" y1="151.52" x2="63.8" y2="151.52" stroke="#000" stroke-width="1.6" />
<line x1="61.2" y1="108.47" x2="63.8" y2="108.47" stroke="#000" stroke-width="1.6" />
<line x1="61.2" y1="65.42" x2="63.8" y2="65.42" stroke="#000" stroke-width="1.6" />
<line x1="61.2" y1="22.37" x2="63.8" y2="22.37" stroke="#000" stroke-width="1.6" />
<line x1="80.3" y1="237.2" x2="80.3" y2="241.6" stroke="#000" stroke-width="1.6" />
<text x="80.3" y="257.2" font-size="16" text-anchor="middle" fill="#000" >-0.2</text>
<line x1="134.8" y1="237.2" x2="134.8" y2="241.6" stroke="#000" stroke-width="1.6" />
<text x="134.8" y="257.2" font-size="16" text-anchor="middle" fill="#000" >-0.1</text>
<line x1="189.3" y1="237.2" x2="189.3" y2="241.6" stroke="#000" stroke-width="1.6" />
<text x="189.3" y="257.2" font-size="16" text-anchor="middle" fill="#000" >0.0</text>
<line x1="243.8" y1="237.2" x2="243.8" y2="241.6" stroke="#000" stroke-width="1.6" />
<text x="243.8" y="257.2" font-size="16" text-anchor="middle" fill="#000" >0.1</text>
<line x1="298.3" y1="237.2" x2="298.3" y2="241.6" stroke="#000" stroke-width="1.6" />
<text x="298.3" y="257.2" font-size="16" text-anchor="middle" fill="#000" >0.2</text>
<line x1="352.8" y1="237.2" x2="352.8" y2="241.6" stroke="#000" stroke-width="1.6" />
<text x="352.8" y="257.2" font-size="16" text-anchor="middle" fill="#000" >0.3</text>
<line x1="107.55" y1="237.2" x2="107.55" y2="239.8" stroke="#000" stroke-width="1.6" />
<line x1="162.05" y1="237.2" x2="162.05" y2="239.8" stroke="#000" stroke-width="1.6" />
<line x1="216.55" y1="237.2" x2="216.55" y2="239.8" stroke="#000" stroke-width="1.6" />
<line x1="271.05" y1="237.2" x2="271.05" y2="239.8" stroke="#000" stroke-width="1.6" />
<line x1="325.55" y1="237.2" x2="325.55" y2="239.8" stroke="#000" stroke-width="1.6" />
<line x1="348.4" y1="230.1" x2="352.8" y2="230.1" stroke="#000" stroke-width="1.6" />
<text x="357.4" y="235.8" font-size="16" fill="#000" >-0.3</text>
<line x1="348.4" y1="192.22" x2="352.8" y2="192.22" stroke="#000" stroke-width="1.6" />
<text x="357.4" y="197.92" font-size="16" fill="#000" >-0.2</text>
<line x1="348.4" y1="154.34" x2="352.8" y2="154.34" stroke="#000" stroke-width="1.6" />
<text x="357.4" y="160.04" font-size="16" fill="#000" >-0.1</text>
<line x1="348.4" y1="116.46" x2="352.8" y2="116.46" stroke="#000" stroke-width="1.6" />
<text x="357.4" y="122.16" font-size="16" fill="#000" >0.0</text>
<line x1="348.4" y1="78.58" x2="352.8" y2="78.58" stroke="#000" stroke-width="1.6" />
<text x="357.4" y="84.28" font-size="16" fill="#000" >0.1</text>
<line x1="348.4" y1="40.7" x2="352.8" y2="40.7" stroke="#000" stroke-width="1.6" />
<text x="357.4" y="46.4" font-size="16" fill="#000" >0.2</text>
<line x1="350.2" y1="211.16" x2="352.8" y2="211.16" stroke="#000" stroke-width="1.6" />
<line x1="350.2" y1="173.28" x2="352.8" y2="173.28" stroke="#000" stroke-width="1.6" />
<line x1="350.2" y1="135.4" x2="352.8" y2="135.4" stroke="#000" stroke-width="1.6" />
<line x1="350.2" y1="97.52" x2="352.8" y2="97.52" stroke="#000" stroke-width="1.6" />
<line x1="350.2" y1="59.64" x2="352.8" y2="59.64" stroke="#000" stroke-width="1.6" />
<text x="0" y="0" font-size="16" text-anchor="middle" transform="translate(25.6,137.7) rotate(-90)">Voltage (V)</text>
<text x="0" y="0" font-size="16" text-anchor="middle" transform="translate(404.4,137.7) rotate(-90)">Power density (W cm<tspan dy="-5" font-size="10.5">−2</tspan><tspan dy="5">)</tspan></text>
<text x="201.3" y="280.3" font-size="16" text-anchor="middle" fill="#000" >Current density (A cm<tspan dy="-5" font-size="10.5">−2</tspan><tspan dy="5">)</tspan></text>
<text x="240.3" y="57.3" font-size="16" fill="#000" >128 mW cm<tspan dy="-5" font-size="10.5">−2</tspan><tspan dy="5"></tspan></text>
<text x="81.1" y="131.8" font-size="16" fill="#000" >1,5-DHAQ</text>
<line x1="267" y1="113.3" x2="283" y2="113.3" stroke="#6b8bb6" stroke-width="2.8" />
<text x="293.8" y="120.2" font-size="18" fill="#000" >20%</text>
<line x1="267" y1="136.9" x2="283" y2="136.9" stroke="#82b6de" stroke-width="2.8" />
<text x="293.8" y="143.8" font-size="18" fill="#000" >50%</text>
<line x1="267" y1="160.5" x2="283" y2="160.5" stroke="#0d95f2" stroke-width="2.8" />
<text x="293.8" y="167.4" font-size="18" fill="#000" >100%</text>
<text x="2.8" y="20.2" font-size="28" fill="#000" >a</text>
<clipPath id="cb"><rect x="486.9" y="22.6" width="289.4" height="215.3"/></clipPath>
<polyline points="508,22.61 508.7,23.29 509.4,23.97 510.1,24.65 510.79,25.34 511.49,26.03 512.19,26.72 512.89,27.41 513.59,28.11 514.29,28.8 514.98,29.5 515.68,30.2 516.38,30.9 517.08,31.61 517.78,32.31 518.48,33.02 519.18,33.73 519.87,34.44 520.57,35.16 521.27,35.87 521.97,36.59 522.67,37.31 523.37,38.03 524.06,38.75 524.76,39.47 525.46,40.2 526.16,40.93 526.86,41.66 527.56,42.39 528.26,43.12 528.95,43.86 529.65,44.59 530.35,45.33 531.05,46.07 531.75,46.81 532.45,47.56 533.14,48.3 533.84,49.05 534.54,49.8 535.24,50.55 535.94,51.3 536.64,52.05 537.34,52.81 538.03,53.56 538.73,54.32 539.43,55.08 540.13,55.84 540.83,56.6 541.53,57.37 542.22,58.14 542.92,58.9 543.62,59.67 544.32,60.44 545.02,61.21 545.72,61.99 546.42,62.76 547.11,63.54 547.81,64.32 548.51,65.1 549.21,65.88 549.91,66.66 550.61,67.45 551.3,68.23 552,69.02 552.7,69.81 553.4,70.6 554.1,71.39 554.8,72.18 555.5,72.97 556.19,73.77 556.89,74.57 557.59,75.36 558.29,76.16 558.99,76.96 559.69,77.77 560.38,78.57 561.08,79.37 561.78,80.18 562.48,80.99 563.18,81.8 563.88,82.61 564.58,83.42 565.27,84.23 565.97,85.04 566.67,85.86 567.37,86.68 568.07,87.49 568.77,88.31 569.46,89.13 570.16,89.95 570.86,90.77 571.56,91.6 572.26,92.42 572.96,93.25 573.66,94.07 574.35,94.9 575.05,95.73 575.75,96.56 576.45,97.39 577.15,98.22 577.85,99.06 578.54,99.89 579.24,100.73 579.94,101.57 580.64,102.4 581.34,103.24 582.04,104.08 582.74,104.92 583.43,105.76 584.13,106.61 584.83,107.45 585.53,108.3 586.23,109.14 586.93,109.99 587.62,110.84 588.32,111.69 589.02,112.53 589.72,113.39 590.42,114.24 591.12,115.09 591.82,115.94 592.51,116.8 593.21,117.65 593.91,118.51 594.61,119.37 595.31,120.22 596.01,121.08 596.7,121.94 597.4,122.8 598.1,123.66 598.8,124.52 599.5,125.39 600.2,126.25 600.9,127.12 601.59,127.98 602.29,128.85 602.99,129.71 603.69,130.58 604.39,131.45 605.09,132.32 605.78,133.18 606.48,134.05 607.18,134.93 607.88,135.8 608.58,136.67 609.28,137.54 609.98,138.41 610.67,139.29 611.37,140.16 612.07,141.04 612.77,141.91 613.47,142.79 614.17,143.66 614.86,144.54 615.56,145.42 616.26,146.29 616.96,147.17 617.66,148.05 618.36,148.93 619.06,149.81 619.75,150.69 620.45,151.57 621.15,152.45 621.85,153.33 622.55,154.21 623.25,155.09 623.94,155.97 624.64,156.85 625.34,157.74 626.04,158.62 626.74,159.5 627.44,160.39 628.14,161.27 628.83,162.15 629.53,163.04 630.23,163.92 630.93,164.8 631.63,165.69 632.33,166.57 633.02,167.46 633.72,168.34 634.42,169.23 635.12,170.11 635.82,171 636.52,171.88 637.22,172.77 637.91,173.65 638.61,174.54 639.31,175.42 640.01,176.31 640.71,177.19 641.41,178.08 642.1,178.96 642.8,179.85 643.5,180.73 644.2,181.62 644.9,182.5 645.6,183.39 646.3,184.27 646.99,185.15 647.69,186.04 648.39,186.92 649.09,187.81 649.79,188.69 650.49,189.57 651.18,190.46 651.88,191.34 652.58,192.22 653.28,193.1 653.98,193.99 654.68,194.87 655.38,195.75 656.07,196.63 656.77,197.51 657.47,198.39 658.17,199.27 658.87,200.15 659.57,201.03 660.26,201.91 660.96,202.79 661.66,203.67 662.36,204.55 663.06,205.42 663.76,206.3 664.46,207.18 665.15,208.05 665.85,208.93 666.55,209.8 667.25,210.68 667.95,211.55 668.65,212.43 669.34,213.3 670.04,214.17 670.74,215.04 671.44,215.91 672.14,216.78 672.84,217.65 673.54,218.52 674.23,219.39 674.93,220.26 675.63,221.13 676.33,221.99 677.03,222.86 677.73,223.72 678.42,224.59 679.12,225.45 679.82,226.31 680.52,227.17 681.22,228.04 681.92,228.9 682.62,229.76 683.31,230.61 684.01,231.47 684.71,232.33 685.41,233.18 686.11,234.04 686.81,234.89 687.5,235.75 688.2,236.6 688.9,237.45 689.6,238.3" fill="none" stroke="#c80000" stroke-width="1.9" stroke-linejoin="round" stroke-linecap="butt" clip-path="url(#cb)"/>
<polyline points="508,221.9 508.7,220.89 509.4,219.88 510.1,218.87 510.79,217.87 511.49,216.87 512.19,215.87 512.89,214.88 513.59,213.89 514.29,212.9 514.98,211.91 515.68,210.93 516.38,209.95 517.08,208.98 517.78,208 518.48,207.03 519.18,206.07 519.87,205.1 520.57,204.14 521.27,203.18 521.97,202.23 522.67,201.28 523.37,200.33 524.06,199.38 524.76,198.44 525.46,197.5 526.16,196.57 526.86,195.63 527.56,194.7 528.26,193.78 528.95,192.85 529.65,191.93 530.35,191.02 531.05,190.1 531.75,189.19 532.45,188.29 533.14,187.38 533.84,186.48 534.54,185.59 535.24,184.69 535.94,183.8 536.64,182.91 537.34,182.03 538.03,181.15 538.73,180.27 539.43,179.4 540.13,178.53 540.83,177.66 541.53,176.79 542.22,175.93 542.92,175.08 543.62,174.22 544.32,173.37 545.02,172.53 545.72,171.68 546.42,170.84 547.11,170 547.81,169.17 548.51,168.34 549.21,167.51 549.91,166.69 550.61,165.87 551.3,165.06 552,164.24 552.7,163.43 553.4,162.63 554.1,161.83 554.8,161.03 555.5,160.23 556.19,159.44 556.89,158.65 557.59,157.87 558.29,157.09 558.99,156.31 559.69,155.54 560.38,154.77 561.08,154 561.78,153.24 562.48,152.48 563.18,151.73 563.88,150.98 564.58,150.23 565.27,149.48 565.97,148.74 566.67,148.01 567.37,147.27 568.07,146.54 568.77,145.82 569.46,145.1 570.16,144.38 570.86,143.66 571.56,142.95 572.26,142.25 572.96,141.54 573.66,140.84 574.35,140.15 575.05,139.46 575.75,138.77 576.45,138.08 577.15,137.4 577.85,136.73 578.54,136.06 579.24,135.39 579.94,134.72 580.64,134.06 581.34,133.4 582.04,132.75 582.74,132.1 583.43,131.46 584.13,130.82 584.83,130.18 585.53,129.54 586.23,128.92 586.93,128.29 587.62,127.67 588.32,127.05 589.02,126.44 589.72,125.83 590.42,125.22 591.12,124.62 591.82,124.02 592.51,123.43 593.21,122.84 593.91,122.26 594.61,121.67 595.31,121.1 596.01,120.52 596.7,119.96 597.4,119.39 598.1,118.83 598.8,118.27 599.5,117.72 600.2,117.17 600.9,116.63 601.59,116.09 602.29,115.55 602.99,115.02 603.69,114.49 604.39,113.97 605.09,113.45 605.78,112.94 606.48,112.43 607.18,111.92 607.88,111.42 608.58,110.92 609.28,110.42 609.98,109.93 610.67,109.45 611.37,108.97 612.07,108.49 612.77,108.02 613.47,107.55 614.17,107.08 614.86,106.62 615.56,106.16 616.26,105.71 616.96,105.26 617.66,104.82 618.36,104.38 619.06,103.94 619.75,103.51 620.45,103.08 621.15,102.66 621.85,102.24 622.55,101.83 623.25,101.41 623.94,101.01 624.64,100.61 625.34,100.21 626.04,99.81 626.74,99.42 627.44,99.04 628.14,98.66 628.83,98.28 629.53,97.9 630.23,97.54 630.93,97.17 631.63,96.81 632.33,96.45 633.02,96.1 633.72,95.75 634.42,95.41 635.12,95.07 635.82,94.73 636.52,94.4 637.22,94.08 637.91,93.75 638.61,93.43 639.31,93.12 640.01,92.81 640.71,92.5 641.41,92.2 642.1,91.9 642.8,91.61 643.5,91.32 644.2,91.04 644.9,90.76 645.6,90.48 646.3,90.21 646.99,89.94 647.69,89.67 648.39,89.42 649.09,89.16 649.79,88.91 650.49,88.66 651.18,88.42 651.88,88.18 652.58,87.95 653.28,87.72 653.98,87.49 654.68,87.27 655.38,87.05 656.07,86.84 656.77,86.63 657.47,86.42 658.17,86.22 658.87,86.03 659.57,85.83 660.26,85.65 660.96,85.46 661.66,85.28 662.36,85.11 663.06,84.94 663.76,84.77 664.46,84.61 665.15,84.45 665.85,84.3 666.55,84.15 667.25,84 667.95,83.86 668.65,83.72 669.34,83.59 670.04,83.46 670.74,83.34 671.44,83.22 672.14,83.1 672.84,82.99 673.54,82.88 674.23,82.78 674.93,82.68 675.63,82.59 676.33,82.5 677.03,82.41 677.73,82.33 678.42,82.25 679.12,82.18 679.82,82.11 680.52,82.05 681.22,81.99 681.92,81.93 682.62,81.88 683.31,81.83 684.01,81.79 684.71,81.75 685.41,81.71 686.11,81.68 686.81,81.66 687.5,81.63 688.2,81.62 688.9,81.6 689.6,81.6" fill="none" stroke="#c80000" stroke-width="1.9" stroke-linejoin="round" stroke-linecap="butt" clip-path="url(#cb)"/>
<polyline points="516.6,22.6 517.3,23.33 518,24.07 518.69,24.8 519.39,25.54 520.09,26.27 520.79,27.01 521.49,27.74 522.18,28.48 522.88,29.21 523.58,29.95 524.28,30.68 524.97,31.42 525.67,32.15 526.37,32.89 527.07,33.62 527.77,34.36 528.46,35.1 529.16,35.83 529.86,36.57 530.56,37.3 531.26,38.04 531.95,38.77 532.65,39.51 533.35,40.25 534.05,40.98 534.75,41.72 535.44,42.45 536.14,43.19 536.84,43.92 537.54,44.66 538.23,45.39 538.93,46.13 539.63,46.86 540.33,47.6 541.03,48.33 541.72,49.06 542.42,49.8 543.12,50.53 543.82,51.26 544.52,52 545.21,52.73 545.91,53.46 546.61,54.19 547.31,54.93 548.01,55.66 548.7,56.39 549.4,57.12 550.1,57.85 550.8,58.58 551.49,59.31 552.19,60.04 552.89,60.77 553.59,61.49 554.29,62.22 554.98,62.95 555.68,63.68 556.38,64.4 557.08,65.13 557.78,65.85 558.47,66.58 559.17,67.3 559.87,68.02 560.57,68.75 561.27,69.47 561.96,70.19 562.66,70.91 563.36,71.63 564.06,72.35 564.75,73.07 565.45,73.79 566.15,74.51 566.85,75.23 567.55,75.94 568.24,76.66 568.94,77.37 569.64,78.09 570.34,78.8 571.04,79.51 571.73,80.23 572.43,80.94 573.13,81.65 573.83,82.36 574.53,83.07 575.22,83.77 575.92,84.48 576.62,85.19 577.32,85.89 578.01,86.6 578.71,87.3 579.41,88 580.11,88.7 580.81,89.4 581.5,90.1 582.2,90.8 582.9,91.5 582.9,91.49 583.6,92.59 584.29,93.69 584.99,94.79 585.69,95.89 586.39,96.98 587.08,98.07 587.78,99.16 588.48,100.25 589.17,101.33 589.87,102.42 590.57,103.49 591.27,104.57 591.96,105.64 592.66,106.71 593.36,107.78 594.05,108.85 594.75,109.91 595.45,110.96 596.15,112.02 596.84,113.07 597.54,114.12 598.24,115.16 598.94,116.21 599.63,117.24 600.33,118.28 601.03,119.31 601.72,120.34 602.42,121.36 603.12,122.38 603.82,123.4 604.51,124.41 605.21,125.42 605.91,126.42 606.6,127.42 607.3,128.42 608,129.41 608.7,130.4 609.39,131.38 610.09,132.36 610.79,133.33 611.48,134.3 612.18,135.27 612.88,136.23 613.58,137.19 614.27,138.14 614.97,139.09 615.67,140.03 616.36,140.97 617.06,141.9 617.76,142.83 618.46,143.75 619.15,144.67 619.85,145.58 620.55,146.49 621.24,147.39 621.94,148.29 622.64,149.18 623.34,150.06 624.03,150.94 624.73,151.82 625.43,152.69 626.12,153.55 626.82,154.42 627.52,155.27 628.22,156.12 628.91,156.97 629.61,157.81 630.31,158.64 631.01,159.47 631.7,160.3 632.4,161.12 633.1,161.94 633.79,162.76 634.49,163.57 635.19,164.37 635.89,165.17 636.58,165.97 637.28,166.76 637.98,167.55 638.67,168.34 639.37,169.12 640.07,169.9 640.77,170.68 641.46,171.45 642.16,172.22 642.86,172.98 643.55,173.74 644.25,174.5 644.95,175.26 645.65,176.01 646.34,176.76 647.04,177.51 647.74,178.25 648.43,178.99 649.13,179.73 649.83,180.47 650.53,181.2 651.22,181.93 651.92,182.66 652.62,183.38 653.31,184.11 654.01,184.83 654.71,185.55 655.41,186.27 656.1,186.98 656.8,187.7 657.5,188.41 658.19,189.12 658.89,189.83 659.59,190.54 660.29,191.24 660.98,191.95 661.68,192.65 662.38,193.35 663.08,194.05 663.77,194.75 664.47,195.45 665.17,196.15 665.86,196.85 666.56,197.54 667.26,198.24 667.96,198.93 668.65,199.63 669.35,200.32 670.05,201.01 670.74,201.71 671.44,202.4 672.14,203.09 672.84,203.78 673.53,204.47 674.23,205.17 674.93,205.86 675.62,206.55 676.32,207.24 677.02,207.94 677.72,208.63 678.41,209.32 679.11,210.02 679.81,210.71 680.5,211.41 681.2,212.1 681.9,212.8 682.6,213.5 683.29,214.2 683.99,214.9 684.69,215.6 685.38,216.3 686.08,217.01 686.78,217.71 687.48,218.42 688.17,219.13 688.87,219.83 689.57,220.55 690.26,221.26 690.96,221.97 691.66,222.69 692.36,223.41 693.05,224.13 693.75,224.85 694.45,225.58 695.15,226.3 695.84,227.03 696.54,227.76 697.24,228.5 697.93,229.23 698.63,229.97 699.33,230.71 700.03,231.46 700.72,232.21 701.42,232.96 702.12,233.71 702.81,234.47 703.51,235.23 704.21,235.99 704.91,236.76 705.6,237.52 706.3,238.3" fill="none" stroke="#f9a29c" stroke-width="1.9" stroke-linejoin="round" stroke-linecap="butt" clip-path="url(#cb)"/>
<polyline points="516.6,212.34 517.3,211.33 518,210.33 518.7,209.33 519.4,208.33 520.1,207.34 520.8,206.35 521.5,205.36 522.2,204.38 522.9,203.41 523.6,202.43 524.3,201.46 525,200.5 525.7,199.54 526.4,198.58 527.1,197.62 527.8,196.67 528.5,195.73 529.2,194.78 529.9,193.85 530.6,192.91 531.3,191.98 532,191.05 532.7,190.12 533.4,189.2 534.1,188.29 534.8,187.37 535.5,186.46 536.2,185.56 536.9,184.65 537.6,183.76 538.3,182.86 539,181.97 539.7,181.08 540.4,180.19 541.1,179.31 541.8,178.44 542.5,177.56 543.2,176.69 543.9,175.82 544.6,174.96 545.3,174.1 546,173.24 546.7,172.39 547.4,171.54 548.1,170.7 548.8,169.85 549.5,169.01 550.2,168.18 550.9,167.35 551.6,166.52 552.3,165.69 553,164.87 553.7,164.05 554.4,163.24 555.1,162.43 555.8,161.62 556.5,160.81 557.2,160.01 557.9,159.21 558.6,158.42 559.3,157.62 560,156.84 560.7,156.05 561.4,155.27 562.1,154.49 562.8,153.72 563.5,152.94 564.2,152.18 564.9,151.41 565.6,150.65 566.3,149.89 567,149.13 567.7,148.38 568.4,147.63 569.1,146.89 569.8,146.14 570.5,145.4 571.2,144.67 571.9,143.94 572.6,143.21 573.3,142.48 574,141.76 574.7,141.04 575.4,140.32 576.1,139.61 576.8,138.9 577.5,138.2 578.2,137.5 578.9,136.8 579.6,136.1 580.3,135.41 581,134.73 581.7,134.04 582.4,133.36 583.1,132.69 583.8,132.01 584.5,131.34 585.2,130.68 585.9,130.02 586.6,129.36 587.3,128.71 588,128.06 588.7,127.42 589.4,126.77 590.1,126.14 590.8,125.51 591.5,124.88 592.2,124.25 592.9,123.63 593.6,123.02 594.3,122.41 595,121.8 595.7,121.2 596.4,120.6 597.1,120 597.8,119.41 598.5,118.83 599.2,118.25 599.9,117.67 600.6,117.1 601.3,116.53 602,115.97 602.7,115.41 603.4,114.86 604.1,114.31 604.8,113.77 605.5,113.23 606.2,112.69 606.9,112.16 607.6,111.64 608.3,111.12 609,110.6 609.7,110.09 610.4,109.58 611.1,109.08 611.8,108.58 612.5,108.09 613.2,107.6 613.9,107.11 614.6,106.63 615.3,106.16 616,105.69 616.7,105.22 617.4,104.76 618.1,104.3 618.8,103.85 619.5,103.4 620.2,102.95 620.9,102.51 621.6,102.07 622.3,101.64 623,101.21 623.7,100.79 624.4,100.37 625.1,99.95 625.8,99.54 626.5,99.13 627.2,98.73 627.9,98.33 628.6,97.93 629.3,97.54 630,97.15 630.7,96.77 631.4,96.39 632.1,96.01 632.8,95.64 633.5,95.27 634.2,94.91 634.9,94.55 635.6,94.19 636.3,93.84 637,93.49 637.7,93.14 638.4,92.8 639.1,92.46 639.8,92.12 640.5,91.79 641.2,91.46 641.9,91.14 642.6,90.82 643.3,90.5 644,90.18 644.7,89.87 645.4,89.57 646.1,89.26 646.8,88.96 647.5,88.66 648.2,88.37 648.9,88.08 649.6,87.79 650.3,87.5 651,87.22 651.7,86.94 652.4,86.67 653.1,86.39 653.8,86.12 654.5,85.86 655.2,85.6 655.9,85.34 656.6,85.08 657.3,84.82 658,84.57 658.7,84.32 659.4,84.08 660.1,83.83 660.8,83.59 661.5,83.36 662.2,83.12 662.9,82.89 663.6,82.66 664.3,82.44 665,82.22 665.7,82 666.4,81.78 667.1,81.57 667.8,81.36 668.5,81.15 669.2,80.95 669.9,80.75 670.6,80.55 671.3,80.36 672,80.17 672.7,79.98 673.4,79.8 674.1,79.62 674.8,79.44 675.5,79.27 676.2,79.1 676.9,78.93 677.6,78.77 678.3,78.61 679,78.46 679.7,78.3 680.4,78.16 681.1,78.01 681.8,77.87 682.5,77.73 683.2,77.6 683.9,77.47 684.6,77.34 685.3,77.22 686,77.1 686.7,76.98 687.4,76.87 688.1,76.76 688.8,76.66 689.5,76.56 690.2,76.47 690.9,76.37 691.6,76.29 692.3,76.2 693,76.12 693.7,76.05 694.4,75.98 695.1,75.91 695.8,75.85 696.5,75.79 697.2,75.73 697.9,75.68 698.6,75.63 699.3,75.59 700,75.55 700.7,75.52 701.4,75.49 702.1,75.47 702.8,75.45 703.5,75.43 704.2,75.42 704.9,75.41 705.6,75.41 706.3,75.41" fill="none" stroke="#f9a29c" stroke-width="1.9" stroke-linejoin="round" stroke-linecap="butt" clip-path="url(#cb)"/>
<polyline points="540.5,22.6 541.2,23.49 541.89,24.38 542.59,25.28 543.28,26.2 543.98,27.12 544.67,28.04 545.37,28.98 546.06,29.92 546.76,30.87 547.45,31.82 548.15,32.78 548.84,33.74 549.54,34.7 550.23,35.67 550.93,36.65 551.62,37.62 552.32,38.6 553.01,39.58 553.71,40.57 554.4,41.55 555.1,42.53 555.79,43.52 556.49,44.5 557.18,45.48 557.88,46.46 558.57,47.44 559.27,48.42 559.96,49.39 560.66,50.36 561.35,51.33 562.05,52.3 562.74,53.25 563.44,54.21 564.13,55.16 564.83,56.1 565.52,57.03 566.22,57.96 566.91,58.89 567.61,59.8 568.3,60.7 569,61.6 569.69,62.49 570.39,63.37 571.08,64.24 571.78,65.09 572.47,65.94 573.17,66.77 573.86,67.6 574.56,68.41 575.25,69.21 575.95,69.99 576.64,70.76 577.34,71.52 578.03,72.26 578.73,72.99 579.42,73.7 580.12,74.39 580.81,75.07 581.51,75.73 582.2,76.37 582.9,77 582.9,76.99 583.6,78.12 584.29,79.25 584.99,80.38 585.69,81.5 586.38,82.62 587.08,83.74 587.78,84.85 588.48,85.97 589.17,87.08 589.87,88.18 590.57,89.29 591.26,90.39 591.96,91.49 592.66,92.58 593.35,93.67 594.05,94.76 594.75,95.85 595.45,96.93 596.14,98.01 596.84,99.09 597.54,100.16 598.23,101.23 598.93,102.29 599.63,103.36 600.32,104.42 601.02,105.47 601.72,106.53 602.41,107.58 603.11,108.62 603.81,109.67 604.51,110.71 605.2,111.74 605.9,112.77 606.6,113.8 607.29,114.83 607.99,115.85 608.69,116.87 609.38,117.88 610.08,118.89 610.78,119.9 611.48,120.9 612.17,121.9 612.87,122.9 613.57,123.89 614.26,124.88 614.96,125.86 615.66,126.84 616.35,127.81 617.05,128.79 617.75,129.75 618.44,130.72 619.14,131.68 619.84,132.63 620.54,133.58 621.23,134.53 621.93,135.48 622.63,136.41 623.32,137.35 624.02,138.28 624.72,139.21 625.41,140.13 626.11,141.04 626.81,141.96 627.51,142.87 628.2,143.77 628.9,144.67 629.6,145.56 630.29,146.46 630.99,147.34 631.69,148.22 632.38,149.1 633.08,149.97 633.78,150.84 634.47,151.7 635.17,152.56 635.87,153.42 636.57,154.27 637.26,155.12 637.96,155.96 638.66,156.8 639.35,157.63 640.05,158.46 640.75,159.28 641.44,160.11 642.14,160.92 642.84,161.74 643.54,162.55 644.23,163.35 644.93,164.16 645.63,164.96 646.32,165.75 647.02,166.54 647.72,167.33 648.41,168.11 649.11,168.9 649.81,169.67 650.5,170.45 651.2,171.22 651.9,171.98 652.6,172.75 653.29,173.51 653.99,174.27 654.69,175.02 655.38,175.77 656.08,176.52 656.78,177.27 657.47,178.01 658.17,178.75 658.87,179.48 659.56,180.22 660.26,180.95 660.96,181.68 661.66,182.4 662.35,183.13 663.05,183.85 663.75,184.56 664.44,185.28 665.14,185.99 665.84,186.7 666.53,187.41 667.23,188.12 667.93,188.82 668.63,189.52 669.32,190.22 670.02,190.92 670.72,191.61 671.41,192.3 672.11,192.99 672.81,193.68 673.5,194.37 674.2,195.05 674.9,195.74 675.59,196.42 676.29,197.1 676.99,197.77 677.69,198.45 678.38,199.12 679.08,199.8 679.78,200.47 680.47,201.14 681.17,201.81 681.87,202.47 682.56,203.14 683.26,203.8 683.96,204.47 684.66,205.13 685.35,205.79 686.05,206.45 686.75,207.11 687.44,207.76 688.14,208.42 688.84,209.07 689.53,209.73 690.23,210.38 690.93,211.04 691.62,211.69 692.32,212.34 693.02,212.99 693.72,213.64 694.41,214.29 695.11,214.94 695.81,215.59 696.5,216.23 697.2,216.88 697.9,217.53 698.59,218.17 699.29,218.82 699.99,219.47 700.69,220.11 701.38,220.76 702.08,221.4 702.78,222.05 703.47,222.69 704.17,223.34 704.87,223.99 705.56,224.63 706.26,225.28 706.96,225.92 707.65,226.57 708.35,227.22 709.05,227.86 709.75,228.51 710.44,229.16 711.14,229.81 711.84,230.46 712.53,231.11 713.23,231.76 713.93,232.41 714.62,233.06 715.32,233.71 716.02,234.36 716.72,235.02 717.41,235.67 718.11,236.33 718.81,236.98 719.5,237.64 720.2,238.3" fill="none" stroke="#f070c2" stroke-width="1.9" stroke-linejoin="round" stroke-linecap="butt" clip-path="url(#cb)"/>
<polyline points="540.5,185.8 541.2,184.81 541.9,183.82 542.6,182.84 543.3,181.86 544,180.88 544.7,179.91 545.39,178.95 546.09,177.99 546.79,177.03 547.49,176.08 548.19,175.14 548.89,174.2 549.59,173.26 550.29,172.33 550.99,171.4 551.69,170.48 552.39,169.56 553.09,168.65 553.79,167.74 554.48,166.84 555.18,165.94 555.88,165.05 556.58,164.16 557.28,163.28 557.98,162.4 558.68,161.52 559.38,160.65 560.08,159.79 560.78,158.93 561.48,158.07 562.18,157.22 562.88,156.37 563.57,155.53 564.27,154.69 564.97,153.86 565.67,153.03 566.37,152.21 567.07,151.39 567.77,150.57 568.47,149.76 569.17,148.96 569.87,148.16 570.57,147.36 571.27,146.57 571.96,145.78 572.66,145 573.36,144.22 574.06,143.44 574.76,142.67 575.46,141.91 576.16,141.15 576.86,140.39 577.56,139.64 578.26,138.89 578.96,138.15 579.66,137.41 580.36,136.67 581.05,135.94 581.75,135.22 582.45,134.49 583.15,133.78 583.85,133.06 584.55,132.36 585.25,131.65 585.95,130.95 586.65,130.26 587.35,129.57 588.05,128.88 588.75,128.2 589.45,127.53 590.14,126.85 590.84,126.19 591.54,125.52 592.24,124.86 592.94,124.21 593.64,123.56 594.34,122.92 595.04,122.28 595.74,121.64 596.44,121.01 597.14,120.39 597.84,119.76 598.54,119.15 599.23,118.54 599.93,117.93 600.63,117.33 601.33,116.73 602.03,116.14 602.73,115.55 603.43,114.96 604.13,114.38 604.83,113.81 605.53,113.24 606.23,112.68 606.93,112.12 607.63,111.56 608.32,111.01 609.02,110.47 609.72,109.93 610.42,109.39 611.12,108.86 611.82,108.34 612.52,107.82 613.22,107.3 613.92,106.79 614.62,106.28 615.32,105.78 616.02,105.28 616.72,104.79 617.41,104.3 618.11,103.81 618.81,103.33 619.51,102.86 620.21,102.39 620.91,101.92 621.61,101.46 622.31,101 623.01,100.55 623.71,100.1 624.41,99.65 625.11,99.21 625.81,98.77 626.5,98.34 627.2,97.91 627.9,97.48 628.6,97.06 629.3,96.65 630,96.23 630.7,95.82 631.4,95.42 632.1,95.02 632.8,94.62 633.5,94.23 634.2,93.84 634.89,93.45 635.59,93.07 636.29,92.69 636.99,92.32 637.69,91.95 638.39,91.58 639.09,91.22 639.79,90.86 640.49,90.5 641.19,90.15 641.89,89.8 642.59,89.45 643.29,89.11 643.98,88.77 644.68,88.44 645.38,88.11 646.08,87.78 646.78,87.46 647.48,87.14 648.18,86.82 648.88,86.5 649.58,86.19 650.28,85.89 650.98,85.58 651.68,85.28 652.38,84.99 653.07,84.69 653.77,84.4 654.47,84.11 655.17,83.83 655.87,83.55 656.57,83.27 657.27,83 657.97,82.73 658.67,82.46 659.37,82.19 660.07,81.93 660.77,81.67 661.47,81.42 662.16,81.17 662.86,80.92 663.56,80.67 664.26,80.43 664.96,80.18 665.66,79.95 666.36,79.71 667.06,79.48 667.76,79.25 668.46,79.03 669.16,78.8 669.86,78.58 670.56,78.36 671.25,78.15 671.95,77.94 672.65,77.73 673.35,77.52 674.05,77.32 674.75,77.12 675.45,76.92 676.15,76.72 676.85,76.53 677.55,76.34 678.25,76.15 678.95,75.96 679.65,75.78 680.34,75.6 681.04,75.42 681.74,75.25 682.44,75.08 683.14,74.91 683.84,74.74 684.54,74.58 685.24,74.42 685.94,74.26 686.64,74.11 687.34,73.95 688.04,73.81 688.74,73.66 689.43,73.52 690.13,73.38 690.83,73.24 691.53,73.1 692.23,72.97 692.93,72.84 693.63,72.72 694.33,72.6 695.03,72.48 695.73,72.36 696.43,72.25 697.13,72.13 697.82,72.03 698.52,71.92 699.22,71.82 699.92,71.72 700.62,71.63 701.32,71.54 702.02,71.45 702.72,71.36 703.42,71.28 704.12,71.2 704.82,71.12 705.52,71.05 706.22,70.98 706.91,70.91 707.61,70.85 708.31,70.79 709.01,70.74 709.71,70.68 710.41,70.63 711.11,70.58 711.81,70.54 712.51,70.5 713.21,70.46 713.91,70.43 714.61,70.4 715.31,70.38 716,70.35 716.7,70.33 717.4,70.32 718.1,70.3 718.8,70.29 719.5,70.29 720.2,70.29" fill="none" stroke="#f070c2" stroke-width="1.9" stroke-linejoin="round" stroke-linecap="butt" clip-path="url(#cb)"/>
<rect x="486.9" y="22.6" width="289.4" height="215.3" fill="none" stroke="#000" stroke-width="1.6"/>
<line x1="482.5" y1="216.36" x2="486.9" y2="216.36" stroke="#000" stroke-width="1.6" />
<text x="479.9" y="222.06" font-size="16" text-anchor="end" fill="#000" >0.6</text>
<line x1="482.5" y1="173.27" x2="486.9" y2="173.27" stroke="#000" stroke-width="1.6" />
<text x="479.9" y="178.97" font-size="16" text-anchor="end" fill="#000" >0.8</text>
<line x1="482.5" y1="130.18" x2="486.9" y2="130.18" stroke="#000" stroke-width="1.6" />
<text x="479.9" y="135.88" font-size="16" text-anchor="end" fill="#000" >1.0</text>
<line x1="482.5" y1="87.09" x2="486.9" y2="87.09" stroke="#000" stroke-width="1.6" />
<text x="479.9" y="92.79" font-size="16" text-anchor="end" fill="#000" >1.2</text>
<line x1="482.5" y1="44" x2="486.9" y2="44" stroke="#000" stroke-width="1.6" />
<text x="479.9" y="49.7" font-size="16" text-anchor="end" fill="#000" >1.4</text>
<line x1="484.3" y1="237.9" x2="486.9" y2="237.9" stroke="#000" stroke-width="1.6" />
<line x1="484.3" y1="194.81" x2="486.9" y2="194.81" stroke="#000" stroke-width="1.6" />
<line x1="484.3" y1="151.72" x2="486.9" y2="151.72" stroke="#000" stroke-width="1.6" />
<line x1="484.3" y1="108.63" x2="486.9" y2="108.63" stroke="#000" stroke-width="1.6" />
<line x1="484.3" y1="65.54" x2="486.9" y2="65.54" stroke="#000" stroke-width="1.6" />
<line x1="484.3" y1="22.46" x2="486.9" y2="22.46" stroke="#000" stroke-width="1.6" />
<line x1="510.1" y1="237.9" x2="510.1" y2="242.3" stroke="#000" stroke-width="1.6" />
<text x="510.1" y="257.9" font-size="16" text-anchor="middle" fill="#000" >-0.2</text>
<line x1="558.5" y1="237.9" x2="558.5" y2="242.3" stroke="#000" stroke-width="1.6" />
<text x="558.5" y="257.9" font-size="16" text-anchor="middle" fill="#000" >-0.1</text>
<line x1="606.9" y1="237.9" x2="606.9" y2="242.3" stroke="#000" stroke-width="1.6" />
<text x="606.9" y="257.9" font-size="16" text-anchor="middle" fill="#000" >0.0</text>
<line x1="655.3" y1="237.9" x2="655.3" y2="242.3" stroke="#000" stroke-width="1.6" />
<text x="655.3" y="257.9" font-size="16" text-anchor="middle" fill="#000" >0.1</text>
<line x1="703.7" y1="237.9" x2="703.7" y2="242.3" stroke="#000" stroke-width="1.6" />
<text x="703.7" y="257.9" font-size="16" text-anchor="middle" fill="#000" >0.2</text>
<line x1="752.1" y1="237.9" x2="752.1" y2="242.3" stroke="#000" stroke-width="1.6" />
<text x="752.1" y="257.9" font-size="16" text-anchor="middle" fill="#000" >0.3</text>
<line x1="485.9" y1="237.9" x2="485.9" y2="240.5" stroke="#000" stroke-width="1.6" />
<line x1="534.3" y1="237.9" x2="534.3" y2="240.5" stroke="#000" stroke-width="1.6" />
<line x1="582.7" y1="237.9" x2="582.7" y2="240.5" stroke="#000" stroke-width="1.6" />
<line x1="631.1" y1="237.9" x2="631.1" y2="240.5" stroke="#000" stroke-width="1.6" />
<line x1="679.5" y1="237.9" x2="679.5" y2="240.5" stroke="#000" stroke-width="1.6" />
<line x1="727.9" y1="237.9" x2="727.9" y2="240.5" stroke="#000" stroke-width="1.6" />
<line x1="776.3" y1="237.9" x2="776.3" y2="240.5" stroke="#000" stroke-width="1.6" />
<line x1="771.9" y1="219.6" x2="776.3" y2="219.6" stroke="#000" stroke-width="1.6" />
<text x="780.9" y="225.3" font-size="16" fill="#000" >-0.3</text>
<line x1="771.9" y1="183.76" x2="776.3" y2="183.76" stroke="#000" stroke-width="1.6" />
<text x="780.9" y="189.46" font-size="16" fill="#000" >-0.2</text>
<line x1="771.9" y1="147.92" x2="776.3" y2="147.92" stroke="#000" stroke-width="1.6" />
<text x="780.9" y="153.62" font-size="16" fill="#000" >-0.1</text>
<line x1="771.9" y1="112.08" x2="776.3" y2="112.08" stroke="#000" stroke-width="1.6" />
<text x="780.9" y="117.78" font-size="16" fill="#000" >0.0</text>
<line x1="771.9" y1="76.24" x2="776.3" y2="76.24" stroke="#000" stroke-width="1.6" />
<text x="780.9" y="81.94" font-size="16" fill="#000" >0.1</text>
<line x1="771.9" y1="40.4" x2="776.3" y2="40.4" stroke="#000" stroke-width="1.6" />
<text x="780.9" y="46.1" font-size="16" fill="#000" >0.2</text>
<line x1="773.7" y1="237.52" x2="776.3" y2="237.52" stroke="#000" stroke-width="1.6" />
<line x1="773.7" y1="201.68" x2="776.3" y2="201.68" stroke="#000" stroke-width="1.6" />
<line x1="773.7" y1="165.84" x2="776.3" y2="165.84" stroke="#000" stroke-width="1.6" />
<line x1="773.7" y1="130" x2="776.3" y2="130" stroke="#000" stroke-width="1.6" />
<line x1="773.7" y1="94.16" x2="776.3" y2="94.16" stroke="#000" stroke-width="1.6" />
<line x1="773.7" y1="58.32" x2="776.3" y2="58.32" stroke="#000" stroke-width="1.6" />
<text x="0" y="0" font-size="16" text-anchor="middle" transform="translate(448.6,137.7) rotate(-90)">Voltage (V)</text>
<text x="0" y="0" font-size="16" text-anchor="middle" transform="translate(826,137.7) rotate(-90)">Power density (W cm<tspan dy="-5" font-size="10.5">−2</tspan><tspan dy="5">)</tspan></text>
<text x="624.9" y="280.6" font-size="16" text-anchor="middle" fill="#000" >Current density (A cm<tspan dy="-5" font-size="10.5">−2</tspan><tspan dy="5">)</tspan></text>
<text x="647.2" y="57.6" font-size="16" fill="#000" >117 mW cm<tspan dy="-5" font-size="10.5">−2</tspan><tspan dy="5"></tspan></text>
<text x="502.3" y="131.3" font-size="16" fill="#000" >Cys-DHAQ</text>
<line x1="676" y1="116.7" x2="692" y2="116.7" stroke="#c80000" stroke-width="2.8" />
<text x="702.7" y="123.6" font-size="18" fill="#000" >20%</text>
<line x1="676" y1="140.55" x2="692" y2="140.55" stroke="#f9a29c" stroke-width="2.8" />
<text x="702.7" y="147.45" font-size="18" fill="#000" >50%</text>
<line x1="676" y1="164.4" x2="692" y2="164.4" stroke="#f070c2" stroke-width="2.8" />
<text x="702.7" y="171.3" font-size="18" fill="#000" >100%</text>
<text x="427" y="20.2" font-size="28" fill="#000" >b</text>
<clipPath id="cc"><rect x="64.4" y="302" width="289.5" height="215.1"/></clipPath>
<g clip-path="url(#cc)">
<circle cx="72.9" cy="328.6" r="2.15" fill="#f8a3a3"/>
<circle cx="81.4" cy="327.6" r="2.15" fill="#f8a3a3"/>
<circle cx="89.9" cy="327.6" r="2.15" fill="#f8a3a3"/>
<circle cx="98.4" cy="327.6" r="2.15" fill="#f8a3a3"/>
<circle cx="106.9" cy="327.6" r="2.15" fill="#f8a3a3"/>
<circle cx="115.4" cy="336.5" r="2.15" fill="#f8a3a3"/>
<circle cx="123.9" cy="336.5" r="2.15" fill="#f8a3a3"/>
<circle cx="132.4" cy="336.5" r="2.15" fill="#f8a3a3"/>
<circle cx="140.9" cy="336.5" r="2.15" fill="#f8a3a3"/>
<circle cx="149.4" cy="336.5" r="2.15" fill="#f8a3a3"/>
<circle cx="157.9" cy="346.6" r="2.15" fill="#f8a3a3"/>
<circle cx="166.4" cy="346.6" r="2.15" fill="#f8a3a3"/>
<circle cx="174.9" cy="346.6" r="2.15" fill="#f8a3a3"/>
<circle cx="183.4" cy="346.6" r="2.15" fill="#f8a3a3"/>
<circle cx="191.9" cy="346.6" r="2.15" fill="#f8a3a3"/>
<circle cx="200.4" cy="354.1" r="2.15" fill="#f8a3a3"/>
<circle cx="208.9" cy="354.1" r="2.15" fill="#f8a3a3"/>
<circle cx="217.4" cy="354.1" r="2.15" fill="#f8a3a3"/>
<circle cx="225.9" cy="354.1" r="2.15" fill="#f8a3a3"/>
<circle cx="234.4" cy="354.1" r="2.15" fill="#f8a3a3"/>
<circle cx="242.9" cy="368.9" r="2.15" fill="#f8a3a3"/>
<circle cx="251.4" cy="368.9" r="2.15" fill="#f8a3a3"/>
<circle cx="259.9" cy="368.9" r="2.15" fill="#f8a3a3"/>
<circle cx="268.4" cy="368.9" r="2.15" fill="#f8a3a3"/>
<circle cx="276.9" cy="368.9" r="2.15" fill="#f8a3a3"/>
<circle cx="285.4" cy="353.6" r="2.15" fill="#f8a3a3"/>
<circle cx="293.9" cy="353.6" r="2.15" fill="#f8a3a3"/>
<circle cx="302.4" cy="353.6" r="2.15" fill="#f8a3a3"/>
<circle cx="310.9" cy="353.6" r="2.15" fill="#f8a3a3"/>
<circle cx="319.4" cy="353.6" r="2.15" fill="#f8a3a3"/>
<circle cx="327.9" cy="353.6" r="2.15" fill="#f8a3a3"/>
<circle cx="336.4" cy="353.6" r="2.15" fill="#f8a3a3"/>
<circle cx="344.9" cy="353.6" r="2.15" fill="#f8a3a3"/>
<circle cx="353.4" cy="353.6" r="2.15" fill="#f8a3a3"/>
<circle cx="72.9" cy="324.9" r="2.15" fill="#7db3dc"/>
<circle cx="81.4" cy="324.9" r="2.15" fill="#7db3dc"/>
<circle cx="89.9" cy="324.9" r="2.15" fill="#7db3dc"/>
<circle cx="98.4" cy="324.9" r="2.15" fill="#7db3dc"/>
<circle cx="106.9" cy="324.9" r="2.15" fill="#7db3dc"/>
<circle cx="115.4" cy="333.8" r="2.15" fill="#7db3dc"/>
<circle cx="123.9" cy="333.8" r="2.15" fill="#7db3dc"/>
<circle cx="132.4" cy="333.8" r="2.15" fill="#7db3dc"/>
<circle cx="140.9" cy="333.8" r="2.15" fill="#7db3dc"/>
<circle cx="149.4" cy="333.8" r="2.15" fill="#7db3dc"/>
<circle cx="157.9" cy="350.2" r="2.15" fill="#7db3dc"/>
<circle cx="166.4" cy="350.2" r="2.15" fill="#7db3dc"/>
<circle cx="174.9" cy="350.2" r="2.15" fill="#7db3dc"/>
<circle cx="183.4" cy="350.2" r="2.15" fill="#7db3dc"/>
<circle cx="191.9" cy="350.2" r="2.15" fill="#7db3dc"/>
<circle cx="200.4" cy="358.1" r="2.15" fill="#7db3dc"/>
<circle cx="208.9" cy="358.1" r="2.15" fill="#7db3dc"/>
<circle cx="217.4" cy="358.1" r="2.15" fill="#7db3dc"/>
<circle cx="225.9" cy="358.1" r="2.15" fill="#7db3dc"/>
<circle cx="234.4" cy="358.1" r="2.15" fill="#7db3dc"/>
<circle cx="242.9" cy="375.9" r="2.15" fill="#7db3dc"/>
<circle cx="251.4" cy="375.9" r="2.15" fill="#7db3dc"/>
<circle cx="259.9" cy="375.9" r="2.15" fill="#7db3dc"/>
<circle cx="268.4" cy="375.9" r="2.15" fill="#7db3dc"/>
<circle cx="276.9" cy="375.9" r="2.15" fill="#7db3dc"/>
<circle cx="285.4" cy="358.1" r="2.15" fill="#7db3dc"/>
<circle cx="293.9" cy="358.1" r="2.15" fill="#7db3dc"/>
<circle cx="302.4" cy="358.1" r="2.15" fill="#7db3dc"/>
<circle cx="310.9" cy="358.1" r="2.15" fill="#7db3dc"/>
<circle cx="319.4" cy="358.1" r="2.15" fill="#7db3dc"/>
<circle cx="327.9" cy="358.1" r="2.15" fill="#7db3dc"/>
<circle cx="336.4" cy="358.1" r="2.15" fill="#7db3dc"/>
<circle cx="344.9" cy="358.1" r="2.15" fill="#7db3dc"/>
<circle cx="353.4" cy="358.1" r="2.15" fill="#7db3dc"/>
<circle cx="72.9" cy="317" r="2.15" fill="#f44a4a"/>
<circle cx="81.4" cy="315.9" r="2.15" fill="#f44a4a"/>
<circle cx="89.9" cy="315" r="2.15" fill="#f44a4a"/>
<circle cx="98.4" cy="314.2" r="2.15" fill="#f44a4a"/>
<circle cx="106.9" cy="313.9" r="2.15" fill="#f44a4a"/>
<circle cx="115.4" cy="313" r="2.15" fill="#f44a4a"/>
<circle cx="123.9" cy="313" r="2.15" fill="#f44a4a"/>
<circle cx="132.4" cy="313" r="2.15" fill="#f44a4a"/>
<circle cx="140.9" cy="313" r="2.15" fill="#f44a4a"/>
<circle cx="149.4" cy="313" r="2.15" fill="#f44a4a"/>
<circle cx="157.9" cy="313" r="2.15" fill="#f44a4a"/>
<circle cx="166.4" cy="313" r="2.15" fill="#f44a4a"/>
<circle cx="174.9" cy="313" r="2.15" fill="#f44a4a"/>
<circle cx="183.4" cy="313" r="2.15" fill="#f44a4a"/>
<circle cx="191.9" cy="313" r="2.15" fill="#f44a4a"/>
<circle cx="200.4" cy="313" r="2.15" fill="#f44a4a"/>
<circle cx="208.9" cy="313" r="2.15" fill="#f44a4a"/>
<circle cx="217.4" cy="313" r="2.15" fill="#f44a4a"/>
<circle cx="225.9" cy="313" r="2.15" fill="#f44a4a"/>
<circle cx="234.4" cy="313" r="2.15" fill="#f44a4a"/>
<circle cx="242.9" cy="313" r="2.15" fill="#f44a4a"/>
<circle cx="251.4" cy="313" r="2.15" fill="#f44a4a"/>
<circle cx="259.9" cy="313" r="2.15" fill="#f44a4a"/>
<circle cx="268.4" cy="313" r="2.15" fill="#f44a4a"/>
<circle cx="276.9" cy="313" r="2.15" fill="#f44a4a"/>
<circle cx="285.4" cy="313" r="2.15" fill="#f44a4a"/>
<circle cx="293.9" cy="313" r="2.15" fill="#f44a4a"/>
<circle cx="302.4" cy="313" r="2.15" fill="#f44a4a"/>
<circle cx="310.9" cy="313" r="2.15" fill="#f44a4a"/>
<circle cx="319.4" cy="313" r="2.15" fill="#f44a4a"/>
<circle cx="327.9" cy="313" r="2.15" fill="#f44a4a"/>
<circle cx="336.4" cy="313" r="2.15" fill="#f44a4a"/>
<circle cx="344.9" cy="313" r="2.15" fill="#f44a4a"/>
<circle cx="353.4" cy="313" r="2.15" fill="#f44a4a"/>
<circle cx="72.9" cy="312.6" r="2.15" fill="#1490f4"/>
<circle cx="81.4" cy="312.6" r="2.15" fill="#1490f4"/>
<circle cx="89.9" cy="312.6" r="2.15" fill="#1490f4"/>
<circle cx="98.4" cy="312.6" r="2.15" fill="#1490f4"/>
<circle cx="106.9" cy="312.6" r="2.15" fill="#1490f4"/>
<circle cx="115.4" cy="312.6" r="2.15" fill="#1490f4"/>
<circle cx="123.9" cy="312.6" r="2.15" fill="#1490f4"/>
<circle cx="132.4" cy="312.6" r="2.15" fill="#1490f4"/>
<circle cx="140.9" cy="312.6" r="2.15" fill="#1490f4"/>
<circle cx="149.4" cy="312.6" r="2.15" fill="#1490f4"/>
<circle cx="157.9" cy="312.6" r="2.15" fill="#1490f4"/>
<circle cx="166.4" cy="312.6" r="2.15" fill="#1490f4"/>
<circle cx="174.9" cy="312.6" r="2.15" fill="#1490f4"/>
<circle cx="183.4" cy="312.6" r="2.15" fill="#1490f4"/>
<circle cx="191.9" cy="312.6" r="2.15" fill="#1490f4"/>
<circle cx="200.4" cy="312.6" r="2.15" fill="#1490f4"/>
<circle cx="208.9" cy="312.6" r="2.15" fill="#1490f4"/>
<circle cx="217.4" cy="312.6" r="2.15" fill="#1490f4"/>
<circle cx="225.9" cy="312.6" r="2.15" fill="#1490f4"/>
<circle cx="234.4" cy="312.6" r="2.15" fill="#1490f4"/>
<circle cx="242.9" cy="312.6" r="2.15" fill="#1490f4"/>
<circle cx="251.4" cy="312.6" r="2.15" fill="#1490f4"/>
<circle cx="259.9" cy="312.6" r="2.15" fill="#1490f4"/>
<circle cx="268.4" cy="312.6" r="2.15" fill="#1490f4"/>
<circle cx="276.9" cy="312.6" r="2.15" fill="#1490f4"/>
<circle cx="285.4" cy="312.6" r="2.15" fill="#1490f4"/>
<circle cx="293.9" cy="312.6" r="2.15" fill="#1490f4"/>
<circle cx="302.4" cy="312.6" r="2.15" fill="#1490f4"/>
<circle cx="310.9" cy="312.6" r="2.15" fill="#1490f4"/>
<circle cx="319.4" cy="312.6" r="2.15" fill="#1490f4"/>
<circle cx="327.9" cy="312.6" r="2.15" fill="#1490f4"/>
<circle cx="336.4" cy="312.6" r="2.15" fill="#1490f4"/>
<circle cx="344.9" cy="312.6" r="2.15" fill="#1490f4"/>
<circle cx="353.4" cy="312.6" r="2.15" fill="#1490f4"/>
<circle cx="72.9" cy="401.8" r="2.15" fill="#f77676"/>
<circle cx="81.4" cy="401.8" r="2.15" fill="#f77676"/>
<circle cx="89.9" cy="401.8" r="2.15" fill="#f77676"/>
<circle cx="98.4" cy="401.8" r="2.15" fill="#f77676"/>
<circle cx="106.9" cy="401.8" r="2.15" fill="#f77676"/>
<circle cx="115.4" cy="404.7" r="2.15" fill="#f77676"/>
<circle cx="123.9" cy="404.7" r="2.15" fill="#f77676"/>
<circle cx="132.4" cy="404.7" r="2.15" fill="#f77676"/>
<circle cx="140.9" cy="404.7" r="2.15" fill="#f77676"/>
<circle cx="149.4" cy="404.7" r="2.15" fill="#f77676"/>
<circle cx="157.9" cy="408.2" r="2.15" fill="#f77676"/>
<circle cx="166.4" cy="408.2" r="2.15" fill="#f77676"/>
<circle cx="174.9" cy="408.2" r="2.15" fill="#f77676"/>
<circle cx="183.4" cy="408.2" r="2.15" fill="#f77676"/>
<circle cx="191.9" cy="408.2" r="2.15" fill="#f77676"/>
<circle cx="200.4" cy="410.1" r="2.15" fill="#f77676"/>
<circle cx="208.9" cy="410.1" r="2.15" fill="#f77676"/>
<circle cx="217.4" cy="410.1" r="2.15" fill="#f77676"/>
<circle cx="225.9" cy="410.1" r="2.15" fill="#f77676"/>
<circle cx="234.4" cy="410.1" r="2.15" fill="#f77676"/>
<circle cx="242.9" cy="416.2" r="2.15" fill="#f77676"/>
<circle cx="251.4" cy="416.2" r="2.15" fill="#f77676"/>
<circle cx="259.9" cy="416.2" r="2.15" fill="#f77676"/>
<circle cx="268.4" cy="416.2" r="2.15" fill="#f77676"/>
<circle cx="276.9" cy="416.2" r="2.15" fill="#f77676"/>
<circle cx="285.4" cy="410.3" r="2.15" fill="#f77676"/>
<circle cx="293.9" cy="410.3" r="2.15" fill="#f77676"/>
<circle cx="302.4" cy="410.3" r="2.15" fill="#f77676"/>
<circle cx="310.9" cy="410.3" r="2.15" fill="#f77676"/>
<circle cx="319.4" cy="410.3" r="2.15" fill="#f77676"/>
<circle cx="327.9" cy="410.3" r="2.15" fill="#f77676"/>
<circle cx="336.4" cy="410.3" r="2.15" fill="#f77676"/>
<circle cx="344.9" cy="410.3" r="2.15" fill="#f77676"/>
<circle cx="353.4" cy="410.3" r="2.15" fill="#f77676"/>
<circle cx="72.9" cy="401.3" r="2.15" fill="#6a8dbd"/>
<circle cx="81.4" cy="401.3" r="2.15" fill="#6a8dbd"/>
<circle cx="89.9" cy="401.3" r="2.15" fill="#6a8dbd"/>
<circle cx="98.4" cy="401.3" r="2.15" fill="#6a8dbd"/>
<circle cx="106.9" cy="401.3" r="2.15" fill="#6a8dbd"/>
<circle cx="115.4" cy="402.8" r="2.15" fill="#6a8dbd"/>
<circle cx="123.9" cy="402.8" r="2.15" fill="#6a8dbd"/>
<circle cx="132.4" cy="402.8" r="2.15" fill="#6a8dbd"/>
<circle cx="140.9" cy="402.8" r="2.15" fill="#6a8dbd"/>
<circle cx="149.4" cy="402.8" r="2.15" fill="#6a8dbd"/>
<circle cx="157.9" cy="406.3" r="2.15" fill="#6a8dbd"/>
<circle cx="166.4" cy="406.3" r="2.15" fill="#6a8dbd"/>
<circle cx="174.9" cy="406.3" r="2.15" fill="#6a8dbd"/>
<circle cx="183.4" cy="406.3" r="2.15" fill="#6a8dbd"/>
<circle cx="191.9" cy="406.3" r="2.15" fill="#6a8dbd"/>
<circle cx="200.4" cy="407.8" r="2.15" fill="#6a8dbd"/>
<circle cx="208.9" cy="407.8" r="2.15" fill="#6a8dbd"/>
<circle cx="217.4" cy="407.8" r="2.15" fill="#6a8dbd"/>
<circle cx="225.9" cy="407.8" r="2.15" fill="#6a8dbd"/>
<circle cx="234.4" cy="407.8" r="2.15" fill="#6a8dbd"/>
<circle cx="242.9" cy="411.8" r="2.15" fill="#6a8dbd"/>
<circle cx="251.4" cy="411.8" r="2.15" fill="#6a8dbd"/>
<circle cx="259.9" cy="411.8" r="2.15" fill="#6a8dbd"/>
<circle cx="268.4" cy="411.8" r="2.15" fill="#6a8dbd"/>
<circle cx="276.9" cy="411.8" r="2.15" fill="#6a8dbd"/>
<circle cx="285.4" cy="408.3" r="2.15" fill="#6a8dbd"/>
<circle cx="293.9" cy="408.3" r="2.15" fill="#6a8dbd"/>
<circle cx="302.4" cy="408.3" r="2.15" fill="#6a8dbd"/>
<circle cx="310.9" cy="408.3" r="2.15" fill="#6a8dbd"/>
<circle cx="319.4" cy="408.3" r="2.15" fill="#6a8dbd"/>
<circle cx="327.9" cy="408.3" r="2.15" fill="#6a8dbd"/>
<circle cx="336.4" cy="408.3" r="2.15" fill="#6a8dbd"/>
<circle cx="344.9" cy="408.3" r="2.15" fill="#6a8dbd"/>
<circle cx="353.4" cy="408.3" r="2.15" fill="#6a8dbd"/>
</g>
<rect x="64.4" y="302" width="289.5" height="215.1" fill="none" stroke="#000" stroke-width="1.6"/>
<line x1="60" y1="517.1" x2="64.4" y2="517.1" stroke="#000" stroke-width="1.6" />
<text x="56.6" y="522.8" font-size="16" text-anchor="end" fill="#000" >0</text>
<line x1="60" y1="469.25" x2="64.4" y2="469.25" stroke="#000" stroke-width="1.6" />
<text x="56.6" y="474.95" font-size="16" text-anchor="end" fill="#000" >2</text>
<line x1="60" y1="421.4" x2="64.4" y2="421.4" stroke="#000" stroke-width="1.6" />
<text x="56.6" y="427.1" font-size="16" text-anchor="end" fill="#000" >4</text>
<line x1="60" y1="373.55" x2="64.4" y2="373.55" stroke="#000" stroke-width="1.6" />
<text x="56.6" y="379.25" font-size="16" text-anchor="end" fill="#000" >6</text>
<line x1="60" y1="325.7" x2="64.4" y2="325.7" stroke="#000" stroke-width="1.6" />
<text x="56.6" y="331.4" font-size="16" text-anchor="end" fill="#000" >8</text>
<line x1="61.8" y1="493.18" x2="64.4" y2="493.18" stroke="#000" stroke-width="1.6" />
<line x1="61.8" y1="445.33" x2="64.4" y2="445.33" stroke="#000" stroke-width="1.6" />
<line x1="61.8" y1="397.48" x2="64.4" y2="397.48" stroke="#000" stroke-width="1.6" />
<line x1="61.8" y1="349.62" x2="64.4" y2="349.62" stroke="#000" stroke-width="1.6" />
<line x1="61.8" y1="301.77" x2="64.4" y2="301.77" stroke="#000" stroke-width="1.6" />
<line x1="64.4" y1="517.1" x2="64.4" y2="521.5" stroke="#000" stroke-width="1.6" />
<text x="64.4" y="537.5" font-size="16" text-anchor="middle" fill="#000" >0</text>
<line x1="106.9" y1="517.1" x2="106.9" y2="521.5" stroke="#000" stroke-width="1.6" />
<text x="106.9" y="537.5" font-size="16" text-anchor="middle" fill="#000" >5</text>
<line x1="149.4" y1="517.1" x2="149.4" y2="521.5" stroke="#000" stroke-width="1.6" />
<text x="149.4" y="537.5" font-size="16" text-anchor="middle" fill="#000" >10</text>
<line x1="191.9" y1="517.1" x2="191.9" y2="521.5" stroke="#000" stroke-width="1.6" />
<text x="191.9" y="537.5" font-size="16" text-anchor="middle" fill="#000" >15</text>
<line x1="234.4" y1="517.1" x2="234.4" y2="521.5" stroke="#000" stroke-width="1.6" />
<text x="234.4" y="537.5" font-size="16" text-anchor="middle" fill="#000" >20</text>
<line x1="276.9" y1="517.1" x2="276.9" y2="521.5" stroke="#000" stroke-width="1.6" />
<text x="276.9" y="537.5" font-size="16" text-anchor="middle" fill="#000" >25</text>
<line x1="319.4" y1="517.1" x2="319.4" y2="521.5" stroke="#000" stroke-width="1.6" />
<text x="319.4" y="537.5" font-size="16" text-anchor="middle" fill="#000" >30</text>
<line x1="85.65" y1="517.1" x2="85.65" y2="519.7" stroke="#000" stroke-width="1.6" />
<line x1="128.15" y1="517.1" x2="128.15" y2="519.7" stroke="#000" stroke-width="1.6" />
<line x1="170.65" y1="517.1" x2="170.65" y2="519.7" stroke="#000" stroke-width="1.6" />
<line x1="213.15" y1="517.1" x2="213.15" y2="519.7" stroke="#000" stroke-width="1.6" />
<line x1="255.65" y1="517.1" x2="255.65" y2="519.7" stroke="#000" stroke-width="1.6" />
<line x1="298.15" y1="517.1" x2="298.15" y2="519.7" stroke="#000" stroke-width="1.6" />
<line x1="340.65" y1="517.1" x2="340.65" y2="519.7" stroke="#000" stroke-width="1.6" />
<line x1="349.5" y1="517.1" x2="353.9" y2="517.1" stroke="#000" stroke-width="1.6" />
<text x="358.5" y="522.8" font-size="16" fill="#000" >0</text>
<line x1="349.5" y1="476.12" x2="353.9" y2="476.12" stroke="#000" stroke-width="1.6" />
<text x="358.5" y="481.82" font-size="16" fill="#000" >20</text>
<line x1="349.5" y1="435.14" x2="353.9" y2="435.14" stroke="#000" stroke-width="1.6" />
<text x="358.5" y="440.84" font-size="16" fill="#000" >40</text>
<line x1="349.5" y1="394.16" x2="353.9" y2="394.16" stroke="#000" stroke-width="1.6" />
<text x="358.5" y="399.86" font-size="16" fill="#000" >60</text>
<line x1="349.5" y1="353.18" x2="353.9" y2="353.18" stroke="#000" stroke-width="1.6" />
<text x="358.5" y="358.88" font-size="16" fill="#000" >80</text>
<line x1="349.5" y1="312.2" x2="353.9" y2="312.2" stroke="#000" stroke-width="1.6" />
<text x="358.5" y="317.9" font-size="16" fill="#000" >100</text>
<line x1="351.3" y1="496.61" x2="353.9" y2="496.61" stroke="#000" stroke-width="1.6" />
<line x1="351.3" y1="455.63" x2="353.9" y2="455.63" stroke="#000" stroke-width="1.6" />
<line x1="351.3" y1="414.65" x2="353.9" y2="414.65" stroke="#000" stroke-width="1.6" />
<line x1="351.3" y1="373.67" x2="353.9" y2="373.67" stroke="#000" stroke-width="1.6" />
<line x1="351.3" y1="332.69" x2="353.9" y2="332.69" stroke="#000" stroke-width="1.6" />
<text x="0" y="0" font-size="16" text-anchor="middle" transform="translate(26.3,417) rotate(-90)">Capacity (Ah L<tspan dy="-5" font-size="10.5">−1</tspan><tspan dy="5">)</tspan></text>
<text x="0" y="0" font-size="16" text-anchor="middle" transform="translate(404.4,420.5) rotate(-90)">Efficiency (%)</text>
<text x="200.7" y="554.3" font-size="16" text-anchor="middle" fill="#000" >Cycle number</text>
<text x="90.7" y="393.5" font-size="16" text-anchor="middle" fill="#000" >20</text>
<text x="131.2" y="397.1" font-size="16" text-anchor="middle" fill="#000" >40</text>
<text x="175.1" y="400.7" font-size="16" text-anchor="middle" fill="#000" >80</text>
<text x="212.3" y="401.8" font-size="16" text-anchor="middle" fill="#000" >100</text>
<text x="255.7" y="405.4" font-size="16" text-anchor="middle" fill="#000" >150</text>
<text x="313.5" y="401.8" font-size="16" text-anchor="middle" fill="#000" >100</text>
<text x="279.6" y="433.4" font-size="18" fill="#000" >mA cm<tspan dx="1.2" dy="-5.6" font-size="11.5">−2</tspan></text>
<text x="319.7" y="328.9" font-size="16" text-anchor="end" fill="#000" >Coulombic efficiency</text>
<text x="319.2" y="346.4" font-size="16" text-anchor="end" fill="#000" >Energy efficiency</text>
<line x1="321" y1="323.6" x2="343.1" y2="320.14" stroke="#000" stroke-width="1.15" />
<polygon points="351,318.9 341.58,323.41 343.29,320.11 340.66,317.48" fill="#000"/>
<line x1="320.7" y1="340.6" x2="343.4" y2="344.16" stroke="#000" stroke-width="1.15" />
<polygon points="351.3,345.4 340.96,346.81 343.59,344.19 341.89,340.89" fill="#000"/>
<polyline points="80,417.6 94.6,417.6 94.6,408.3" fill="none" stroke="#e41e1e" stroke-width="3.0"/>
<polygon points="73.8,417.6 80.5,414.2 80.5,421" fill="#e41e1e"/>
<circle cx="82.3" cy="452.2" r="3.0" fill="#6a8dbd"/>
<text x="93.6" y="457.8" font-size="16" fill="#000" >0.1 M 1,5-DHAQ</text>
<circle cx="82.3" cy="477.9" r="3.0" fill="#f77676"/>
<text x="93.6" y="483.5" font-size="16" fill="#000" >0.1 M Cys-DHAQ</text>
<text x="2.8" y="303.6" font-size="29" fill="#000" >c</text>
<polyline points="520.96,357.9 554.92,370.48 622.84,384.63 656.8,394.58 741.7,418.69" fill="none" stroke="#ef6fc0" stroke-width="1.6" stroke-linejoin="round" stroke-linecap="butt" stroke-dasharray="6.5,4.2"/>
<polyline points="520.96,341.66 554.92,368.91 622.84,395.63 656.8,413.45 741.7,452.75" fill="none" stroke="#f9a09a" stroke-width="1.6" stroke-linejoin="round" stroke-linecap="butt" stroke-dasharray="6.5,4.2"/>
<polyline points="520.96,311.27 554.92,308.12 622.84,307.6 656.8,307.6 741.7,307.08" fill="none" stroke="#c80000" stroke-width="1.6" stroke-linejoin="round" stroke-linecap="butt" stroke-dasharray="6.5,4.2"/>
<circle cx="520.96" cy="357.9" r="2.6" fill="#ef6fc0"/>
<circle cx="554.92" cy="370.48" r="2.6" fill="#ef6fc0"/>
<circle cx="622.84" cy="384.63" r="2.6" fill="#ef6fc0"/>
<circle cx="656.8" cy="394.58" r="2.6" fill="#ef6fc0"/>
<circle cx="741.7" cy="418.69" r="2.6" fill="#ef6fc0"/>
<circle cx="520.96" cy="341.66" r="2.6" fill="#f9a09a"/>
<circle cx="554.92" cy="368.91" r="2.6" fill="#f9a09a"/>
<circle cx="622.84" cy="395.63" r="2.6" fill="#f9a09a"/>
<circle cx="656.8" cy="413.45" r="2.6" fill="#f9a09a"/>
<circle cx="741.7" cy="452.75" r="2.6" fill="#f9a09a"/>
<circle cx="520.96" cy="311.27" r="2.6" fill="#c80000"/>
<circle cx="554.92" cy="308.12" r="2.6" fill="#c80000"/>
<circle cx="622.84" cy="307.6" r="2.6" fill="#c80000"/>
<circle cx="656.8" cy="307.6" r="2.6" fill="#c80000"/>
<circle cx="741.7" cy="307.08" r="2.6" fill="#c80000"/>
<rect x="487" y="302.2" width="288.9" height="215" fill="none" stroke="#000" stroke-width="1.6"/>
<line x1="482.6" y1="517.2" x2="487" y2="517.2" stroke="#000" stroke-width="1.6" />
<text x="480" y="522.9" font-size="16" text-anchor="end" fill="#000" >60</text>
<line x1="482.6" y1="464.8" x2="487" y2="464.8" stroke="#000" stroke-width="1.6" />
<text x="480" y="470.5" font-size="16" text-anchor="end" fill="#000" >70</text>
<line x1="482.6" y1="412.4" x2="487" y2="412.4" stroke="#000" stroke-width="1.6" />
<text x="480" y="418.1" font-size="16" text-anchor="end" fill="#000" >80</text>
<line x1="482.6" y1="360" x2="487" y2="360" stroke="#000" stroke-width="1.6" />
<text x="480" y="365.7" font-size="16" text-anchor="end" fill="#000" >90</text>
<line x1="482.6" y1="307.6" x2="487" y2="307.6" stroke="#000" stroke-width="1.6" />
<text x="480" y="313.3" font-size="16" text-anchor="end" fill="#000" >100</text>
<line x1="484.4" y1="491" x2="487" y2="491" stroke="#000" stroke-width="1.6" />
<line x1="484.4" y1="438.6" x2="487" y2="438.6" stroke="#000" stroke-width="1.6" />
<line x1="484.4" y1="386.2" x2="487" y2="386.2" stroke="#000" stroke-width="1.6" />
<line x1="484.4" y1="333.8" x2="487" y2="333.8" stroke="#000" stroke-width="1.6" />
<line x1="487" y1="517.2" x2="487" y2="521.6" stroke="#000" stroke-width="1.6" />
<text x="487" y="537.2" font-size="16" text-anchor="middle" fill="#000" >0</text>
<line x1="554.92" y1="517.2" x2="554.92" y2="521.6" stroke="#000" stroke-width="1.6" />
<text x="554.92" y="537.2" font-size="16" text-anchor="middle" fill="#000" >40</text>
<line x1="622.84" y1="517.2" x2="622.84" y2="521.6" stroke="#000" stroke-width="1.6" />
<text x="622.84" y="537.2" font-size="16" text-anchor="middle" fill="#000" >80</text>
<line x1="690.76" y1="517.2" x2="690.76" y2="521.6" stroke="#000" stroke-width="1.6" />
<text x="690.76" y="537.2" font-size="16" text-anchor="middle" fill="#000" >120</text>
<line x1="758.68" y1="517.2" x2="758.68" y2="521.6" stroke="#000" stroke-width="1.6" />
<text x="758.68" y="537.2" font-size="16" text-anchor="middle" fill="#000" >160</text>
<line x1="520.96" y1="517.2" x2="520.96" y2="519.8" stroke="#000" stroke-width="1.6" />
<line x1="588.88" y1="517.2" x2="588.88" y2="519.8" stroke="#000" stroke-width="1.6" />
<line x1="656.8" y1="517.2" x2="656.8" y2="519.8" stroke="#000" stroke-width="1.6" />
<line x1="724.72" y1="517.2" x2="724.72" y2="519.8" stroke="#000" stroke-width="1.6" />
<text x="0" y="0" font-size="16" text-anchor="middle" transform="translate(448.4,417.2) rotate(-90)">Ratio (%)</text>
<text x="626" y="554.3" font-size="16" text-anchor="middle" fill="#000" >Current density (mA cm<tspan dy="-5" font-size="10.5">−2</tspan><tspan dy="5">)</tspan></text>
<text x="525.8" y="429.3" font-size="16" fill="#000" >Cys-DHAQ</text>
<circle cx="514.1" cy="447.8" r="3.0" fill="#c80000"/>
<text x="525.8" y="453.4" font-size="16" fill="#000" >Coulombic efficiency</text>
<circle cx="514.1" cy="469.5" r="3.0" fill="#f9a09a"/>
<text x="525.8" y="475" font-size="16" fill="#000" >Energy efficiency</text>
<circle cx="514.1" cy="493.1" r="3.0" fill="#ef6fc0"/>
<text x="525.8" y="498" font-size="16" fill="#000" >Capacity utilization</text>
<text x="427" y="303.6" font-size="28" fill="#000" >d</text>
<clipPath id="ce"><rect x="64.2" y="585.2" width="288.9" height="214.8"/></clipPath>
<polyline points="65,680.4 65.06,680.28 65.13,680.13 65.22,679.94 65.31,679.73 65.42,679.51 65.54,679.3 65.67,679.09 65.8,678.9 65.91,678.73 65.97,678.57 66.02,678.41 66.09,678.25 66.22,678.09 66.42,677.93 66.74,677.77 67.2,677.6 67.83,677.42 68.61,677.22 69.51,677.02 70.49,676.82 71.51,676.62 72.54,676.43 73.55,676.26 74.5,676.1 75.33,675.97 76.05,675.87 76.72,675.79 77.41,675.72 78.19,675.64 79.12,675.55 80.27,675.44 81.7,675.3 83.41,675.13 85.34,674.93 87.45,674.72 89.73,674.49 92.15,674.25 94.69,674 97.31,673.75 100,673.5 102.69,673.25 105.37,673.01 108.11,672.77 110.99,672.52 114.06,672.25 117.39,671.96 121.05,671.65 125.1,671.3 129.45,670.91 133.98,670.49 138.76,670.05 143.84,669.58 149.29,669.1 155.16,668.6 161.51,668.1 168.4,667.6 176.33,667.09 185.46,666.55 195.34,666.01 205.51,665.45 215.51,664.89 224.9,664.35 233.21,663.81 240,663.3 245.22,662.8 249.29,662.32 252.43,661.84 254.89,661.37 256.88,660.91 258.64,660.46 260.41,660.02 262.4,659.6 264.48,659.19 266.36,658.8 268.07,658.43 269.63,658.06 271.08,657.7 272.44,657.34 273.74,656.98 275,656.6 276.21,656.22 277.33,655.85 278.36,655.48 279.32,655.11 280.2,654.73 281.03,654.34 281.79,653.93 282.5,653.5 283.14,653.04 283.69,652.55 284.17,652.04 284.59,651.52 284.97,651 285.32,650.49 285.66,649.98 286,649.5 286.31,649.09 286.58,648.75 286.81,648.46 287.02,648.16 287.23,647.8 287.45,647.36 287.7,646.77 288,646 288.34,645.04 288.69,643.93 289.06,642.69 289.46,641.34 289.87,639.93 290.29,638.46 290.74,636.98 291.2,635.5 291.68,633.99 292.17,632.4 292.68,630.76 293.21,629.09 293.75,627.4 294.31,625.73 294.9,624.09 295.5,622.5 296.13,620.92 296.79,619.32 297.48,617.72 298.18,616.14 298.89,614.62 299.6,613.17 300.31,611.82 301,610.6 301.69,609.5 302.38,608.5 303.08,607.58 303.78,606.75 304.46,605.99 305.13,605.3 305.78,604.67 306.4,604.1 307.02,603.6 307.65,603.18 308.28,602.83 308.89,602.54 309.45,602.31 309.95,602.11 310.38,601.95 310.7,601.8 327,601.8" fill="none" stroke="#6b8bb6" stroke-width="1.9" stroke-linejoin="round" stroke-linecap="butt" clip-path="url(#ce)"/>
<polyline points="65,680.4 65.06,680.7 65.13,681.11 65.22,681.59 65.31,682.13 65.42,682.7 65.54,683.26 65.67,683.8 65.8,684.3 65.92,684.77 66.03,685.24 66.13,685.71 66.25,686.17 66.4,686.61 66.6,687.04 66.86,687.44 67.2,687.8 67.59,688.12 67.99,688.4 68.43,688.64 68.93,688.87 69.52,689.09 70.21,689.31 71.03,689.54 72,689.8 73.14,690.08 74.42,690.37 75.84,690.68 77.36,690.98 78.96,691.29 80.64,691.6 82.36,691.9 84.1,692.2 85.84,692.49 87.59,692.78 89.38,693.07 91.24,693.35 93.2,693.63 95.29,693.92 97.55,694.21 100,694.5 102.57,694.79 105.2,695.07 107.94,695.36 110.84,695.64 113.95,695.94 117.33,696.24 121.03,696.56 125.1,696.9 129.52,697.26 134.22,697.65 139.2,698.05 144.47,698.47 150.02,698.89 155.86,699.3 161.99,699.71 168.4,700.1 175.37,700.47 183.02,700.83 191.12,701.19 199.42,701.54 207.69,701.89 215.7,702.25 223.22,702.62 230,703 236.09,703.4 241.73,703.8 246.99,704.22 251.93,704.64 256.62,705.07 261.11,705.5 265.49,705.95 269.8,706.4 274.08,706.86 278.26,707.33 282.31,707.81 286.17,708.3 289.81,708.79 293.18,709.29 296.22,709.79 298.9,710.3 301.15,710.8 302.97,711.29 304.46,711.77 305.69,712.27 306.73,712.78 307.66,713.32 308.56,713.89 309.5,714.5 310.43,715.12 311.26,715.74 311.99,716.36 312.64,717.02 313.24,717.74 313.78,718.54 314.3,719.46 314.8,720.5 315.27,721.67 315.67,722.94 316.03,724.3 316.36,725.75 316.65,727.29 316.94,728.91 317.21,730.62 317.5,732.4 317.79,734.3 318.07,736.33 318.33,738.46 318.59,740.66 318.83,742.91 319.07,745.17 319.29,747.41 319.5,749.6 319.7,751.88 319.9,754.32 320.1,756.84 320.27,759.33 320.44,761.68 320.58,763.79 320.7,765.56 320.8,766.9 326.1,766.9" fill="none" stroke="#6b8bb6" stroke-width="1.9" stroke-linejoin="round" stroke-linecap="butt" clip-path="url(#ce)"/>
<polyline points="65,680.4 65.06,680.28 65.13,680.13 65.22,679.94 65.31,679.73 65.42,679.51 65.54,679.3 65.67,679.09 65.8,678.9 65.91,678.73 65.97,678.57 66.02,678.41 66.09,678.25 66.22,678.09 66.42,677.93 66.74,677.77 67.2,677.6 67.83,677.42 68.61,677.22 69.51,677.02 70.49,676.82 71.51,676.62 72.54,676.43 73.55,676.26 74.5,676.1 75.33,675.97 76.05,675.87 76.72,675.79 77.41,675.72 78.19,675.64 79.12,675.55 80.27,675.44 81.7,675.3 83.41,675.13 85.34,674.93 87.45,674.72 89.73,674.49 92.15,674.25 94.69,674 97.31,673.75 100,673.5 102.69,673.25 105.37,673.01 108.11,672.77 110.99,672.52 114.06,672.25 117.39,671.96 121.05,671.65 125.1,671.3 129.45,670.92 133.98,670.5 138.76,670.06 143.84,669.6 149.29,669.12 155.16,668.62 161.51,668.12 168.4,667.6 176.33,667.06 185.46,666.49 195.34,665.91 205.51,665.31 215.51,664.71 224.9,664.11 233.21,663.54 240,663 245.22,662.48 249.29,661.97 252.43,661.48 254.89,660.99 256.88,660.52 258.64,660.07 260.41,659.63 262.4,659.2 264.49,658.8 266.38,658.42 268.11,658.06 269.69,657.72 271.15,657.38 272.51,657.03 273.78,656.68 275,656.3 276.13,655.9 277.15,655.5 278.06,655.08 278.88,654.66 279.62,654.23 280.3,653.81 280.92,653.4 281.5,653 282.01,652.61 282.42,652.24 282.76,651.88 283.04,651.52 283.29,651.16 283.52,650.79 283.75,650.4 284,650 284.25,649.63 284.47,649.31 284.66,649.01 284.86,648.69 285.05,648.31 285.27,647.83 285.51,647.2 285.8,646.4 286.12,645.42 286.47,644.29 286.84,643.03 287.24,641.67 287.65,640.22 288.08,638.69 288.53,637.11 289,635.5 289.49,633.78 290.02,631.92 290.57,629.96 291.13,627.95 291.7,625.94 292.28,623.98 292.85,622.12 293.4,620.4 293.95,618.8 294.52,617.24 295.09,615.75 295.65,614.32 296.2,612.97 296.73,611.71 297.23,610.55 297.7,609.5 298.12,608.58 298.51,607.78 298.87,607.09 299.21,606.49 299.53,605.95 299.85,605.45 300.17,604.97 300.5,604.5 300.85,604.03 301.23,603.6 301.6,603.2 301.98,602.84 302.32,602.51 302.64,602.23 302.9,601.99 303.1,601.8 315.1,601.8" fill="none" stroke="#82b6de" stroke-width="1.9" stroke-linejoin="round" stroke-linecap="butt" clip-path="url(#ce)"/>
<polyline points="65,680.4 65.06,680.7 65.13,681.11 65.22,681.59 65.31,682.13 65.42,682.7 65.54,683.26 65.67,683.8 65.8,684.3 65.92,684.77 66.03,685.24 66.13,685.71 66.25,686.17 66.4,686.61 66.6,687.04 66.86,687.44 67.2,687.8 67.59,688.12 67.99,688.4 68.43,688.64 68.93,688.87 69.52,689.09 70.21,689.31 71.03,689.54 72,689.8 73.14,690.08 74.42,690.37 75.84,690.68 77.36,690.98 78.96,691.29 80.64,691.6 82.36,691.9 84.1,692.2 85.84,692.49 87.59,692.78 89.38,693.07 91.24,693.35 93.2,693.63 95.29,693.92 97.55,694.21 100,694.5 102.57,694.79 105.2,695.07 107.94,695.36 110.84,695.64 113.95,695.94 117.33,696.24 121.03,696.56 125.1,696.9 129.52,697.26 134.22,697.65 139.2,698.05 144.47,698.46 150.02,698.87 155.86,699.29 161.99,699.7 168.4,700.1 175.37,700.49 183.02,700.88 191.12,701.26 199.42,701.64 207.69,702.02 215.7,702.41 223.22,702.8 230,703.2 236.13,703.61 241.86,704.03 247.22,704.46 252.26,704.89 257,705.32 261.49,705.75 265.74,706.18 269.8,706.6 273.64,707 277.23,707.39 280.56,707.76 283.65,708.13 286.49,708.52 289.09,708.94 291.46,709.39 293.6,709.9 295.43,710.42 296.93,710.93 298.14,711.45 299.14,712.01 299.98,712.64 300.73,713.36 301.45,714.21 302.2,715.2 302.93,716.34 303.57,717.62 304.12,719 304.61,720.49 305.05,722.05 305.45,723.69 305.83,725.38 306.2,727.1 306.55,728.84 306.86,730.61 307.13,732.42 307.37,734.3 307.59,736.28 307.8,738.37 308,740.6 308.2,743 308.4,745.77 308.6,748.97 308.8,752.43 308.97,755.94 309.14,759.34 309.28,762.42 309.4,765 309.5,766.9 313.5,766.9" fill="none" stroke="#82b6de" stroke-width="1.9" stroke-linejoin="round" stroke-linecap="butt" clip-path="url(#ce)"/>
<polyline points="65,680.4 65.06,680.26 65.13,680.07 65.22,679.85 65.31,679.6 65.42,679.34 65.54,679.08 65.67,678.83 65.8,678.6 65.91,678.39 65.97,678.19 66.02,678 66.09,677.81 66.22,677.61 66.42,677.42 66.74,677.21 67.2,677 67.83,676.77 68.61,676.52 69.51,676.27 70.49,676.01 71.51,675.76 72.54,675.52 73.55,675.3 74.5,675.1 75.33,674.94 76.05,674.81 76.72,674.7 77.41,674.6 78.19,674.5 79.12,674.39 80.27,674.26 81.7,674.1 83.41,673.91 85.34,673.7 87.45,673.48 89.73,673.24 92.15,672.99 94.69,672.73 97.31,672.47 100,672.2 102.69,671.93 105.37,671.67 108.11,671.4 110.99,671.12 114.06,670.83 117.39,670.52 121.05,670.18 125.1,669.8 129.45,669.4 133.98,668.98 138.76,668.54 143.84,668.07 149.29,667.57 155.16,667.05 161.51,666.49 168.4,665.9 176.33,665.24 185.46,664.51 195.34,663.73 205.51,662.93 215.51,662.12 224.9,661.35 233.21,660.64 240,660 245.26,659.44 249.41,658.93 252.65,658.45 255.2,658.02 257.25,657.61 258.99,657.23 260.64,656.86 262.4,656.5 264.08,656.16 265.4,655.87 266.45,655.59 267.29,655.34 267.99,655.09 268.63,654.84 269.28,654.58 270,654.3 270.76,654 271.48,653.7 272.15,653.4 272.79,653.09 273.39,652.77 273.95,652.45 274.49,652.13 275,651.8 275.48,651.46 275.93,651.12 276.35,650.76 276.73,650.41 277.09,650.05 277.42,649.69 277.72,649.34 278,649 278.23,648.73 278.4,648.57 278.53,648.44 278.64,648.3 278.75,648.08 278.88,647.73 279.06,647.19 279.3,646.4 279.61,645.31 279.96,643.97 280.36,642.43 280.77,640.76 281.21,639.01 281.65,637.27 282.08,635.57 282.5,634 282.91,632.52 283.33,631.06 283.76,629.62 284.18,628.19 284.6,626.77 285.01,625.35 285.42,623.93 285.8,622.5 286.17,621.05 286.52,619.57 286.86,618.09 287.19,616.61 287.51,615.14 287.84,613.71 288.17,612.33 288.5,611 288.86,609.68 289.24,608.32 289.63,606.98 290.02,605.68 290.39,604.48 290.71,603.4 290.99,602.49 291.2,601.8 300.4,601.8" fill="none" stroke="#0d95f2" stroke-width="1.9" stroke-linejoin="round" stroke-linecap="butt" clip-path="url(#ce)"/>
<polyline points="65,680.4 65.06,680.7 65.13,681.1 65.22,681.58 65.31,682.11 65.42,682.67 65.54,683.24 65.67,683.79 65.8,684.3 65.92,684.79 66.03,685.29 66.13,685.79 66.25,686.29 66.4,686.78 66.6,687.25 66.86,687.69 67.2,688.1 67.59,688.47 67.99,688.8 68.43,689.1 68.93,689.38 69.52,689.65 70.21,689.93 71.03,690.2 72,690.5 73.14,690.81 74.42,691.11 75.84,691.42 77.36,691.73 78.96,692.04 80.64,692.35 82.36,692.67 84.1,693 85.84,693.33 87.59,693.67 89.38,694.01 91.24,694.36 93.2,694.71 95.29,695.06 97.55,695.43 100,695.8 102.57,696.18 105.2,696.56 107.94,696.94 110.84,697.33 113.95,697.73 117.33,698.14 121.03,698.56 125.1,699 129.52,699.44 134.22,699.88 139.2,700.33 144.47,700.79 150.02,701.27 155.86,701.78 161.99,702.32 168.4,702.9 175.46,703.54 183.34,704.25 191.7,705.01 200.25,705.79 208.67,706.56 216.64,707.3 223.85,707.99 230,708.6 235.04,709.12 239.25,709.56 242.8,709.96 245.86,710.32 248.59,710.67 251.16,711.04 253.74,711.44 256.5,711.9 259.38,712.41 262.19,712.94 264.91,713.5 267.53,714.07 270,714.67 272.32,715.27 274.46,715.88 276.4,716.5 278.1,717.11 279.58,717.71 280.87,718.32 282.01,718.94 283.02,719.58 283.95,720.27 284.83,721 285.7,721.8 286.51,722.64 287.23,723.49 287.85,724.37 288.41,725.31 288.92,726.3 289.39,727.37 289.85,728.53 290.3,729.8 290.73,731.13 291.13,732.48 291.49,733.9 291.82,735.41 292.13,737.04 292.43,738.83 292.71,740.8 293,743 293.29,745.64 293.58,748.78 293.85,752.23 294.12,755.77 294.36,759.22 294.58,762.35 294.76,764.98 294.9,766.9 300.2,766.9" fill="none" stroke="#0d95f2" stroke-width="1.9" stroke-linejoin="round" stroke-linecap="butt" clip-path="url(#ce)"/>
<rect x="64.2" y="585.2" width="288.9" height="214.8" fill="none" stroke="#000" stroke-width="1.6"/>
<line x1="59.8" y1="783.48" x2="64.2" y2="783.48" stroke="#000" stroke-width="1.6" />
<text x="57.2" y="789.18" font-size="16" text-anchor="end" fill="#000" >0.4</text>
<line x1="59.8" y1="717.38" x2="64.2" y2="717.38" stroke="#000" stroke-width="1.6" />
<text x="57.2" y="723.08" font-size="16" text-anchor="end" fill="#000" >0.8</text>
<line x1="59.8" y1="651.29" x2="64.2" y2="651.29" stroke="#000" stroke-width="1.6" />
<text x="57.2" y="656.99" font-size="16" text-anchor="end" fill="#000" >1.2</text>
<line x1="59.8" y1="585.2" x2="64.2" y2="585.2" stroke="#000" stroke-width="1.6" />
<text x="57.2" y="590.9" font-size="16" text-anchor="end" fill="#000" >1.6</text>
<line x1="61.6" y1="750.43" x2="64.2" y2="750.43" stroke="#000" stroke-width="1.6" />
<line x1="61.6" y1="684.34" x2="64.2" y2="684.34" stroke="#000" stroke-width="1.6" />
<line x1="61.6" y1="618.25" x2="64.2" y2="618.25" stroke="#000" stroke-width="1.6" />
<line x1="64.2" y1="800" x2="64.2" y2="804.4" stroke="#000" stroke-width="1.6" />
<text x="64.2" y="819.8" font-size="16" text-anchor="middle" fill="#000" >0</text>
<line x1="116.78" y1="800" x2="116.78" y2="804.4" stroke="#000" stroke-width="1.6" />
<text x="116.78" y="819.8" font-size="16" text-anchor="middle" fill="#000" >1</text>
<line x1="169.36" y1="800" x2="169.36" y2="804.4" stroke="#000" stroke-width="1.6" />
<text x="169.36" y="819.8" font-size="16" text-anchor="middle" fill="#000" >2</text>
<line x1="221.94" y1="800" x2="221.94" y2="804.4" stroke="#000" stroke-width="1.6" />
<text x="221.94" y="819.8" font-size="16" text-anchor="middle" fill="#000" >3</text>
<line x1="274.52" y1="800" x2="274.52" y2="804.4" stroke="#000" stroke-width="1.6" />
<text x="274.52" y="819.8" font-size="16" text-anchor="middle" fill="#000" >4</text>
<line x1="327.1" y1="800" x2="327.1" y2="804.4" stroke="#000" stroke-width="1.6" />
<text x="327.1" y="819.8" font-size="16" text-anchor="middle" fill="#000" >5</text>
<line x1="90.49" y1="800" x2="90.49" y2="802.6" stroke="#000" stroke-width="1.6" />
<line x1="143.07" y1="800" x2="143.07" y2="802.6" stroke="#000" stroke-width="1.6" />
<line x1="195.65" y1="800" x2="195.65" y2="802.6" stroke="#000" stroke-width="1.6" />
<line x1="248.23" y1="800" x2="248.23" y2="802.6" stroke="#000" stroke-width="1.6" />
<line x1="300.81" y1="800" x2="300.81" y2="802.6" stroke="#000" stroke-width="1.6" />
<line x1="353.39" y1="800" x2="353.39" y2="802.6" stroke="#000" stroke-width="1.6" />
<text x="0" y="0" font-size="16" text-anchor="middle" transform="translate(25.4,700.6) rotate(-90)">Voltage (V)</text>
<text x="200" y="838" font-size="16" text-anchor="middle" fill="#000" >Capacity (Ah L<tspan dy="-5" font-size="10.5">−1</tspan><tspan dy="5">)</tspan></text>
<text x="72.8" y="614.1" font-size="18" fill="#000" >0.1 M 1,5-DHAQ</text>
<line x1="77" y1="730.2" x2="93.5" y2="730.2" stroke="#6b8bb6" stroke-width="2.8" />
<text x="105.5" y="736.1" font-size="16" fill="#000" >10<tspan dy="-5" font-size="10.5">th</tspan></text>
<text x="154.6" y="736.1" font-size="16" fill="#000" >Cycle</text>
<line x1="77" y1="748.7" x2="93.5" y2="748.7" stroke="#82b6de" stroke-width="2.8" />
<text x="105.5" y="754.8" font-size="16" fill="#000" >500<tspan dy="-5" font-size="10.5">th</tspan></text>
<text x="154.6" y="754.8" font-size="16" fill="#000" >Cycle</text>
<line x1="77" y1="767" x2="93.5" y2="767" stroke="#0d95f2" stroke-width="2.8" />
<text x="105.5" y="773.2" font-size="16" fill="#000" >1000<tspan dy="-5" font-size="10.5">th</tspan></text>
<text x="154.6" y="773.2" font-size="16" fill="#000" >Cycle</text>
<text x="250.8" y="794.6" font-size="16" fill="#000" >100 mA cm<tspan dy="-5" font-size="10.5">−2</tspan><tspan dy="5"></tspan></text>
<text x="2.8" y="582" font-size="28" fill="#000" >e</text>
<clipPath id="cf"><rect x="487" y="585.3" width="289" height="214.6"/></clipPath>
<polyline points="487.6,680.5 487.64,680.07 487.68,679.51 487.72,678.84 487.78,678.09 487.85,677.3 487.94,676.5 488.05,675.72 488.2,675 488.35,674.3 488.48,673.57 488.61,672.82 488.78,672.09 489,671.38 489.29,670.72 489.69,670.12 490.2,669.6 490.84,669.17 491.57,668.81 492.4,668.52 493.31,668.27 494.29,668.05 495.32,667.86 496.39,667.68 497.5,667.5 498.64,667.33 499.82,667.19 501.04,667.08 502.33,666.98 503.67,666.89 505.07,666.8 506.55,666.71 508.1,666.6 509.71,666.48 511.38,666.37 513.1,666.26 514.89,666.15 516.76,666.03 518.73,665.9 520.81,665.76 523,665.6 525.22,665.43 527.42,665.26 529.67,665.08 532.04,664.89 534.61,664.69 537.44,664.45 540.62,664.19 544.2,663.9 548.11,663.61 552.26,663.33 556.67,663.04 561.38,662.73 566.43,662.35 571.86,661.88 577.71,661.31 584,660.6 591.23,659.69 599.56,658.58 608.57,657.33 617.82,656.01 626.89,654.68 635.34,653.41 642.76,652.26 648.7,651.3 653.05,650.54 656.17,649.92 658.34,649.4 659.85,648.96 660.99,648.53 662.03,648.09 663.27,647.59 665,647 667.11,646.32 669.29,645.61 671.49,644.87 673.69,644.09 675.85,643.3 677.93,642.48 679.89,641.65 681.7,640.8 683.37,639.93 684.94,639.04 686.42,638.12 687.8,637.19 689.1,636.24 690.31,635.29 691.44,634.34 692.5,633.4 693.44,632.48 694.25,631.58 694.96,630.68 695.59,629.78 696.18,628.86 696.76,627.89 697.35,626.88 698,625.8 698.69,624.66 699.41,623.49 700.13,622.28 700.84,621.02 701.54,619.72 702.21,618.37 702.83,616.96 703.4,615.5 703.93,613.86 704.43,612.01 704.9,610.04 705.34,608.06 705.73,606.15 706.08,604.42 706.37,602.97 706.6,601.9 715.5,601.9" fill="none" stroke="#c80000" stroke-width="1.9" stroke-linejoin="round" stroke-linecap="butt" clip-path="url(#cf)"/>
<polyline points="487.6,688 487.7,688.21 487.82,688.49 487.97,688.82 488.13,689.19 488.32,689.58 488.53,689.95 488.75,690.3 489,690.6 489.19,690.85 489.29,691.07 489.36,691.27 489.48,691.46 489.7,691.65 490.1,691.85 490.75,692.06 491.7,692.3 493.01,692.57 494.65,692.87 496.52,693.19 498.58,693.52 500.73,693.84 502.92,694.15 505.06,694.44 507.1,694.7 509.03,694.92 510.92,695.13 512.79,695.31 514.69,695.48 516.63,695.64 518.64,695.79 520.76,695.95 523,696.1 525.27,696.24 527.49,696.36 529.74,696.46 532.11,696.56 534.65,696.68 537.47,696.81 540.62,696.98 544.2,697.2 548.03,697.45 551.98,697.71 556.14,697.98 560.63,698.29 565.55,698.64 571.02,699.04 577.13,699.49 584,700 592.1,700.58 601.53,701.22 611.84,701.91 622.58,702.66 633.29,703.44 643.51,704.26 652.8,705.12 660.7,706 667.28,706.92 673,707.89 678,708.91 682.41,709.96 686.37,711.03 689.99,712.11 693.43,713.21 696.8,714.3 699.97,715.34 702.76,716.31 705.22,717.26 707.42,718.24 709.43,719.3 711.3,720.48 713.11,721.83 714.9,723.4 716.63,725.17 718.22,727.1 719.68,729.17 721.03,731.38 722.3,733.72 723.5,736.17 724.66,738.74 725.8,741.4 726.93,744.39 728.03,747.82 729.09,751.5 730.08,755.23 730.99,758.81 731.79,762.06 732.47,764.79 733,766.8 734.8,766.8" fill="none" stroke="#c80000" stroke-width="1.9" stroke-linejoin="round" stroke-linecap="butt" clip-path="url(#cf)"/>
<polyline points="487.6,684.5 487.65,684.1 487.7,683.57 487.76,682.93 487.83,682.23 487.92,681.49 488.02,680.77 488.15,680.09 488.3,679.5 488.46,678.97 488.62,678.45 488.8,677.95 488.99,677.47 489.22,677.03 489.49,676.61 489.82,676.24 490.2,675.9 490.6,675.62 491,675.41 491.42,675.24 491.9,675.09 492.46,674.96 493.15,674.83 493.98,674.68 495,674.5 496.23,674.29 497.65,674.06 499.23,673.82 500.92,673.57 502.69,673.33 504.5,673.08 506.32,672.84 508.1,672.6 509.83,672.37 511.55,672.14 513.28,671.9 515.04,671.67 516.87,671.45 518.79,671.23 520.82,671.01 523,670.8 525.22,670.61 527.42,670.46 529.67,670.32 532.04,670.18 534.61,670.03 537.44,669.84 540.62,669.6 544.2,669.3 548.11,668.94 552.26,668.55 556.67,668.11 561.38,667.64 566.43,667.13 571.86,666.59 577.71,666.01 584,665.4 591.11,664.74 599.17,664.04 607.83,663.29 616.77,662.51 625.67,661.71 634.17,660.9 641.96,660.09 648.7,659.3 654.49,658.5 659.7,657.67 664.37,656.83 668.57,655.99 672.34,655.16 675.75,654.36 678.85,653.6 681.7,652.9 684.15,652.25 686.09,651.65 687.61,651.08 688.82,650.54 689.81,650.02 690.69,649.53 691.56,649.06 692.5,648.6 693.43,648.17 694.22,647.8 694.91,647.45 695.52,647.12 696.1,646.79 696.68,646.43 697.3,646.04 698,645.6 698.77,645.12 699.58,644.63 700.41,644.12 701.26,643.59 702.1,643.02 702.93,642.4 703.73,641.73 704.5,641 705.25,640.19 706,639.29 706.75,638.32 707.47,637.32 708.17,636.3 708.81,635.29 709.39,634.32 709.9,633.4 710.32,632.56 710.65,631.77 710.92,631.03 711.15,630.29 711.35,629.53 711.55,628.73 711.76,627.86 712,626.9 712.27,625.87 712.56,624.81 712.84,623.7 713.13,622.54 713.41,621.32 713.69,620.01 713.95,618.61 714.2,617.1 714.44,615.35 714.68,613.32 714.91,611.13 715.14,608.89 715.34,606.72 715.53,604.76 715.68,603.11 715.8,601.9 736,601.9 736.4,610 736.8,601.9 742.5,601.9" fill="none" stroke="#f070c2" stroke-width="1.9" stroke-linejoin="round" stroke-linecap="butt" clip-path="url(#cf)"/>
<polyline points="487.6,688.5 487.7,688.75 487.82,689.09 487.97,689.49 488.13,689.94 488.32,690.41 488.53,690.89 488.75,691.36 489,691.8 489.19,692.23 489.29,692.68 489.36,693.13 489.48,693.59 489.7,694.03 490.1,694.45 490.75,694.85 491.7,695.2 493.01,695.51 494.65,695.78 496.52,696.02 498.58,696.24 500.73,696.45 502.92,696.66 505.06,696.87 507.1,697.1 509.03,697.34 510.92,697.57 512.79,697.8 514.69,698.03 516.63,698.27 518.64,698.5 520.76,698.75 523,699 525.27,699.25 527.49,699.48 529.74,699.72 532.11,699.96 534.65,700.22 537.47,700.5 540.62,700.83 544.2,701.2 548.03,701.61 551.98,702.04 556.14,702.5 560.63,702.99 565.55,703.52 571.02,704.1 577.13,704.72 584,705.4 592.05,706.15 601.36,706.97 611.52,707.84 622.12,708.76 632.75,709.7 643,710.64 652.45,711.58 660.7,712.5 667.92,713.38 674.57,714.23 680.69,715.07 686.29,715.92 691.41,716.8 696.07,717.72 700.29,718.72 704.1,719.8 707.31,720.91 709.82,722 711.78,723.11 713.33,724.3 714.63,725.6 715.83,727.05 717.07,728.7 718.5,730.6 720.08,732.84 721.64,735.43 723.16,738.26 724.62,741.22 726,744.21 727.27,747.13 728.41,749.86 729.4,752.3 730.22,754.56 730.9,756.77 731.44,758.9 731.88,760.91 732.23,762.74 732.52,764.36 732.77,765.73 733,766.8 738.4,766.8" fill="none" stroke="#f070c2" stroke-width="1.9" stroke-linejoin="round" stroke-linecap="butt" clip-path="url(#cf)"/>
<polyline points="487.6,680.5 487.64,680.07 487.68,679.5 487.72,678.83 487.78,678.07 487.85,677.28 487.94,676.48 488.05,675.71 488.2,675 488.35,674.31 488.48,673.6 488.61,672.89 488.78,672.18 489,671.5 489.29,670.87 489.69,670.29 490.2,669.8 490.84,669.39 491.57,669.05 492.4,668.77 493.31,668.53 494.29,668.33 495.32,668.15 496.39,667.98 497.5,667.8 498.64,667.64 499.82,667.5 501.04,667.39 502.33,667.29 503.67,667.2 505.07,667.11 506.55,667.01 508.1,666.9 509.71,666.78 511.38,666.65 513.1,666.53 514.89,666.4 516.76,666.27 518.73,666.12 520.81,665.97 523,665.8 525.22,665.63 527.42,665.45 529.67,665.27 532.04,665.08 534.61,664.87 537.44,664.64 540.62,664.39 544.2,664.1 548.11,663.81 552.26,663.54 556.67,663.27 561.38,662.96 566.43,662.6 571.86,662.15 577.71,661.59 584,660.9 591.23,660.01 599.56,658.92 608.57,657.69 617.82,656.39 626.89,655.09 635.34,653.85 642.76,652.73 648.7,651.8 653.05,651.07 656.17,650.49 658.34,650.02 659.85,649.61 660.99,649.24 662.03,648.85 663.27,648.42 665,647.9 667.11,647.31 669.29,646.69 671.49,646.05 673.69,645.38 675.85,644.7 677.93,644.01 679.89,643.31 681.7,642.6 683.37,641.88 684.94,641.15 686.42,640.41 687.8,639.65 689.1,638.89 690.31,638.12 691.44,637.36 692.5,636.6 693.44,635.86 694.25,635.13 694.96,634.4 695.59,633.68 696.18,632.93 696.76,632.16 697.35,631.35 698,630.5 698.69,629.61 699.39,628.69 700.1,627.75 700.81,626.77 701.5,625.77 702.16,624.72 702.8,623.63 703.4,622.5 703.97,621.3 704.51,620.04 705.03,618.73 705.53,617.38 705.99,616.02 706.43,614.66 706.83,613.31 707.2,612 707.53,610.65 707.83,609.21 708.1,607.74 708.34,606.29 708.54,604.93 708.72,603.71 708.87,602.68 709,601.9 716.5,601.9" fill="none" stroke="#f9a29c" stroke-width="1.9" stroke-linejoin="round" stroke-linecap="butt" clip-path="url(#cf)"/>
<polyline points="487.6,688 487.7,688.19 487.82,688.45 487.97,688.75 488.13,689.09 488.32,689.45 488.53,689.79 488.75,690.12 489,690.4 489.19,690.64 489.29,690.86 489.36,691.06 489.48,691.26 489.7,691.45 490.1,691.65 490.75,691.86 491.7,692.1 493.01,692.36 494.65,692.65 496.52,692.96 498.58,693.27 500.73,693.58 502.92,693.87 505.06,694.15 507.1,694.4 509.03,694.62 510.92,694.82 512.79,695 514.69,695.17 516.63,695.34 518.64,695.49 520.76,695.65 523,695.8 525.27,695.94 527.49,696.06 529.74,696.16 532.11,696.27 534.65,696.38 537.47,696.52 540.62,696.69 544.2,696.9 548.03,697.14 551.98,697.39 556.14,697.65 560.63,697.94 565.55,698.28 571.02,698.66 577.13,699.09 584,699.6 592.1,700.18 601.53,700.82 611.84,701.51 622.58,702.26 633.29,703.04 643.51,703.87 652.8,704.72 660.7,705.6 667.27,706.51 672.98,707.47 677.95,708.47 682.34,709.5 686.28,710.56 689.91,711.63 693.37,712.71 696.8,713.8 700.06,714.85 702.97,715.84 705.58,716.81 707.94,717.82 710.11,718.9 712.14,720.09 714.08,721.45 716,723 717.83,724.73 719.51,726.59 721.05,728.57 722.48,730.68 723.82,732.93 725.09,735.31 726.31,737.83 727.5,740.5 728.68,743.55 729.83,747.07 730.94,750.87 731.97,754.74 732.91,758.48 733.75,761.87 734.45,764.71 735,766.8 740.9,766.8" fill="none" stroke="#f9a29c" stroke-width="1.9" stroke-linejoin="round" stroke-linecap="butt" clip-path="url(#cf)"/>
<rect x="487" y="585.3" width="289" height="214.6" fill="none" stroke="#000" stroke-width="1.6"/>
<line x1="482.6" y1="783.39" x2="487" y2="783.39" stroke="#000" stroke-width="1.6" />
<text x="480.5" y="789.09" font-size="16" text-anchor="end" fill="#000" >0.4</text>
<line x1="482.6" y1="717.36" x2="487" y2="717.36" stroke="#000" stroke-width="1.6" />
<text x="480.5" y="723.06" font-size="16" text-anchor="end" fill="#000" >0.8</text>
<line x1="482.6" y1="651.33" x2="487" y2="651.33" stroke="#000" stroke-width="1.6" />
<text x="480.5" y="657.03" font-size="16" text-anchor="end" fill="#000" >1.2</text>
<line x1="482.6" y1="585.3" x2="487" y2="585.3" stroke="#000" stroke-width="1.6" />
<text x="480.5" y="591" font-size="16" text-anchor="end" fill="#000" >1.6</text>
<line x1="484.4" y1="750.38" x2="487" y2="750.38" stroke="#000" stroke-width="1.6" />
<line x1="484.4" y1="684.35" x2="487" y2="684.35" stroke="#000" stroke-width="1.6" />
<line x1="484.4" y1="618.32" x2="487" y2="618.32" stroke="#000" stroke-width="1.6" />
<line x1="487.1" y1="799.9" x2="487.1" y2="804.3" stroke="#000" stroke-width="1.6" />
<text x="487.1" y="819.7" font-size="16" text-anchor="middle" fill="#000" >0</text>
<line x1="539.88" y1="799.9" x2="539.88" y2="804.3" stroke="#000" stroke-width="1.6" />
<text x="539.88" y="819.7" font-size="16" text-anchor="middle" fill="#000" >1</text>
<line x1="592.66" y1="799.9" x2="592.66" y2="804.3" stroke="#000" stroke-width="1.6" />
<text x="592.66" y="819.7" font-size="16" text-anchor="middle" fill="#000" >2</text>
<line x1="645.44" y1="799.9" x2="645.44" y2="804.3" stroke="#000" stroke-width="1.6" />
<text x="645.44" y="819.7" font-size="16" text-anchor="middle" fill="#000" >3</text>
<line x1="698.22" y1="799.9" x2="698.22" y2="804.3" stroke="#000" stroke-width="1.6" />
<text x="698.22" y="819.7" font-size="16" text-anchor="middle" fill="#000" >4</text>
<line x1="751" y1="799.9" x2="751" y2="804.3" stroke="#000" stroke-width="1.6" />
<text x="751" y="819.7" font-size="16" text-anchor="middle" fill="#000" >5</text>
<line x1="513.49" y1="799.9" x2="513.49" y2="802.5" stroke="#000" stroke-width="1.6" />
<line x1="566.27" y1="799.9" x2="566.27" y2="802.5" stroke="#000" stroke-width="1.6" />
<line x1="619.05" y1="799.9" x2="619.05" y2="802.5" stroke="#000" stroke-width="1.6" />
<line x1="671.83" y1="799.9" x2="671.83" y2="802.5" stroke="#000" stroke-width="1.6" />
<line x1="724.61" y1="799.9" x2="724.61" y2="802.5" stroke="#000" stroke-width="1.6" />
<line x1="777.39" y1="799.9" x2="777.39" y2="802.5" stroke="#000" stroke-width="1.6" />
<text x="0" y="0" font-size="16" text-anchor="middle" transform="translate(448.3,700.6) rotate(-90)">Voltage (V)</text>
<text x="626" y="838" font-size="16" text-anchor="middle" fill="#000" >Capacity (Ah L<tspan dy="-5" font-size="10.5">−1</tspan><tspan dy="5">)</tspan></text>
<text x="496.2" y="614.3" font-size="18" fill="#000" >0.1 M Cys-DHAQ</text>
<line x1="502.4" y1="729.9" x2="518" y2="729.9" stroke="#c80000" stroke-width="2.8" />
<text x="529.3" y="735.9" font-size="16" fill="#000" >10<tspan dy="-5" font-size="10.5">th</tspan></text>
<text x="579.7" y="735.9" font-size="16" fill="#000" >Cycle</text>
<line x1="502.4" y1="747.9" x2="518" y2="747.9" stroke="#f9a29c" stroke-width="2.8" />
<text x="529.3" y="754.2" font-size="16" fill="#000" >500<tspan dy="-5" font-size="10.5">th</tspan></text>
<text x="579.7" y="754.2" font-size="16" fill="#000" >Cycle</text>
<line x1="502.4" y1="766.7" x2="518" y2="766.7" stroke="#f070c2" stroke-width="2.8" />
<text x="529.3" y="772.9" font-size="16" fill="#000" >1000<tspan dy="-5" font-size="10.5">th</tspan></text>
<text x="579.7" y="772.9" font-size="16" fill="#000" >Cycle</text>
<text x="675.4" y="794.6" font-size="16" fill="#000" >100 mA cm<tspan dy="-5" font-size="10.5">−2</tspan><tspan dy="5"></tspan></text>
<text x="427" y="581.7" font-size="28" fill="#000" >f</text>
<clipPath id="cg"><rect x="64.4" y="863.9" width="711.5" height="216.1"/></clipPath>
<g clip-path="url(#cg)">
<polyline points="64.4,994.32 65.2,993.95 66,994.17 66.8,993.27 67.6,993.43 68.4,992.99 69.2,992.44 70,992.68 70.8,992.02 71.6,992.25 72.4,991.72 73.2,991.61 74,991.82 74.8,992.1 75.6,991.3 76.4,991.31 77.2,991.62 78,991.85 78.8,991.41 79.6,991.17 80.4,991.68 81.2,990.69 82,991.44 82.8,990.82 83.6,990.63 84.4,990.56 85.2,990.7 86,991.16 86.8,990.49 87.6,990.85 88.4,990.87 89.2,990.57 90,990.7 90.8,990.18 91.6,990.14 92.4,990.26 93.2,990.7 94,990.42 94.8,990.28 95.6,990.52 96.4,990.35 97.2,990.17 98,990.64 98.8,990.52 99.6,990.04 100.4,990.34 101.2,990.26 102,990.59 102.8,990.42 103.6,989.95 104.4,990.62 105.2,989.73 106,990.01 106.8,990.32 107.6,989.69 108.4,990.01 109.2,989.53 110,990.14 110.8,990.21 111.6,990 112.4,990.28 113.2,989.7 114,990.05 114.8,989.93 115.6,989.89 116.4,989.75 117.2,990.11 118,990.19 118.8,989.7 119.6,989.87 120.4,989.24 121.2,989.86 122,989.79 122.8,990.11 123.6,989.92 124.4,989.36 125.2,989.44 126,989.7 126.8,989.03 127.6,989.44 128.4,989.13 129.2,989.05 130,988.97 130.8,989.66 131.6,989 132.4,989.09 133.2,989.21 134,989.67 134.8,988.86 135.6,989.2 136.4,989.28 137.2,989.59 138,989.5 138.8,989.52 139.6,988.91 140.4,989.02 141.2,988.94 142,989.44 142.8,989.48 143.6,988.65 144.4,988.65 145.2,988.68 146,988.66 146.8,988.88 147.6,988.96 148.4,988.6 149.2,988.32 150,988.71 150.8,988.63 151.6,988.8 152.4,989.16 153.2,988.87 154,988.67 154.8,988.74 155.6,988.77 156.4,988.12 157.2,988.94 158,988.8 158.8,988.86 159.6,988.76 160.4,988.33 161.2,988.31 162,987.99 162.8,988.49 163.6,987.89 164.4,987.87 165.2,987.98 166,987.91 166.8,988.06 167.6,987.75 168.4,987.67 169.2,987.79 170,987.71 170.8,987.95 171.6,987.58 172.4,988.41 173.2,988.12 174,987.63 174.8,987.7 175.6,987.77 176.4,987.76 177.2,987.49 178,988.19 178.8,988.31 179.6,987.76 180.4,987.75 181.2,987.32 182,987.31 182.8,987.52 183.6,987.42 184.4,987.96 185.2,987.26 186,987.1 186.8,988 187.6,987.55 188.4,987.14 189.2,987.51 190,986.97 190.8,987.44 191.6,987.86 192.4,987.72 193.2,987.53 194,987.06 194.8,987.14 195.6,986.91 196.4,987.49 197.2,987.23 198,987.44 198.8,986.97 199.6,986.83 200.4,987.39 201.2,987.54 202,987.38 202.8,987.31 203.6,987.29 204.4,987.18 205.2,986.64 206,986.91 206.8,986.72 207.6,986.36 208.4,986.33 209.2,986.56 210,986.51 210.8,986.91 211.6,987.15 212.4,986.61 213.2,987.07 214,987.1 214.8,987.03 215.6,986.42 216.4,986.24 217.2,986.22 218,986.16 218.8,986.14 219.6,986.53 220.4,986.78 221.2,986.69 222,986.3 222.8,986.45 223.6,986.56 224.4,985.82 225.2,986.37 226,986.59 226.8,986.43 227.6,986.37 228.4,986.07 229.2,985.74 230,986.32 230.8,985.83 231.6,986.27 232.4,986.41 233.2,985.81 234,985.78 234.8,986.3 235.6,986.05 236.4,985.46 237.2,985.39 238,985.38 238.8,986.1 239.6,985.98 240.4,985.29 241.2,985.94 242,986.06 242.8,985.71 243.6,985.37 244.4,985.53 245.2,985.09 246,984.94 246.8,985.86 247.6,985.51 248.4,985.36 249.2,985.73 250,985.2 250.8,985.61 251.6,985.53 252.4,984.89 253.2,984.9 254,984.91 254.8,984.82 255.6,985.14 256.4,984.78 257.2,984.91 258,984.59 258.8,985.34 259.6,984.75 260.4,984.82 261.2,984.92 262,985.21 262.8,984.69 263.6,985.16 264.4,984.71 265.2,984.71 266,984.67 266.8,984.13 267.6,984.52 268.4,984.23 269.2,984.02 270,984.78 270.8,984.12 271.6,984.39 272.4,984.61 273.2,984.41 274,984.15 274.8,984.31 275.6,984.31 276.4,984.51 277.2,983.8 278,984.22 278.8,983.88 279.6,983.88 280.4,984.34 281.2,984.04 282,984.06 282.8,984.23 283.6,984.35 284.4,983.85 285.2,983.98 286,983.84 286.8,983.82 287.6,983.97 288.4,983.69 289.2,983.74 290,983.65 290.8,984.08 291.6,983.81 292.4,983.95 293.2,983.98 294,983.27 294.8,983.54 295.6,983.89 296.4,983.75 297.2,983.01 298,982.97 298.8,983.25 299.6,982.85 300.4,982.98 301.2,982.78 302,983.35 302.8,983.43 303.6,983.51 304.4,982.73 305.2,983.26 306,983.17 306.8,982.62 307.6,983.32 308.4,983.37 309.2,982.59 310,983.29 310.8,982.7 311.6,982.76 312.4,983.23 313.2,983.04 314,982.33 314.8,982.57 315.6,982.61 316.4,982.4 317.2,982.23 318,982.31 318.8,982.68 319.6,981.95 320.4,982.44 321.2,982.29 322,981.83 322.8,982.11 323.6,982.36 324.4,982.21 325.2,981.73 326,982.61 326.8,982.37 327.6,982.51 328.4,981.6 329.2,981.72 330,981.45 330.8,982.14 331.6,981.59 332.4,981.4 333.2,981.64 334,982.08 334.8,981.94 335.6,981.33 336.4,981.17 337.2,981.89 338,981.49 338.8,981.57 339.6,980.9 340.4,980.82 341.2,981.4 342,981.08 342.8,980.67 343.6,981.49 344.4,981.13 345.2,981.25 346,980.48 346.8,981.2 347.6,980.36 348.4,981.1 349.2,980.65 350,980.49 350.8,980.66 351.6,980.99 352.4,980.29 353.2,980.12 354,980.48 354.8,980.16 355.6,979.99 356.4,980.02 357.2,979.88 358,980.01 358.8,980.1 359.6,980.07 360.4,980.51 361.2,980.03 362,980.23 362.8,979.89 363.6,980.05 364.4,979.72 365.2,979.95 366,979.72 366.8,980.44 367.6,980.25 368.4,979.9 369.2,980.2 370,980.67 370.8,979.85 371.6,980.58 372.4,980.21 373.2,980.29 374,980.65 374.8,980.23 375.6,980.37 376.4,980.58 377.2,980.89 378,980.28 378.8,980.8 379.6,980.71 380.4,980.67 381.2,980.47 382,980.44 382.8,980.18 383.6,980.29 384.4,980.26 385.2,980.97 386,980.52 386.8,980.46 387.6,980.42 388.4,981.21 389.2,981.27 390,981.11 390.8,980.76 391.6,980.75 392.4,980.84 393.2,981.04 394,980.77 394.8,981.1 395.6,980.95 396.4,981.68 397.2,981.72 398,981.32 398.8,981.05 399.6,981.8 400.4,981.18 401.2,981.25 402,980.92 402.8,981.33 403.6,981.44 404.4,981.49 405.2,981.22 406,981.54 406.8,981.05 407.6,981.32 408.4,981.16 409.2,981.49 410,981.14 410.8,981.13 411.6,981.41 412.4,981.34 413.2,981.7 414,981.65 414.8,981.87 415.6,981.78 416.4,981.83 417.2,981.99 418,981.5 418.8,981.43 419.6,982.08 420.4,981.24 421.2,981.81 422,981.72 422.8,981.11 423.6,981.89 424.4,981.94 425.2,981.66 426,981.75 426.8,981.82 427.6,981.13 428.4,981.5 429.2,981.47 430,981.79 430.8,981.74 431.6,981.75 432.4,981.49 433.2,981.78 434,981.56 434.8,981.55 435.6,981.07 436.4,980.86 437.2,980.95 438,981.16 438.8,980.89 439.6,981.6 440.4,981.31 441.2,981.37 442,981.35 442.8,981.39 443.6,981.19 444.4,980.69 445.2,981.47 446,981.41 446.8,981.16 447.6,981.18 448.4,981.3 449.2,980.69 450,981.36 450.8,980.87 451.6,980.69 452.4,980.87 453.2,981.34 454,980.81 454.8,981.34 455.6,981.58 456.4,981.1 457.2,980.99 458,981.08 458.8,981.29 459.6,981.38 460.4,981.23 461.2,981.26 462,980.69 462.8,980.77 463.6,980.88 464.4,981.37 465.2,980.94 466,981.21 466.8,980.66 467.6,980.71 468.4,980.92 469.2,981.33 470,981.36 470.8,981.35 471.6,980.97 472.4,981.21 473.2,981.16 474,981.17 474.8,980.83 475.6,981.62 476.4,980.93 477.2,981.72 478,981.69 478.8,980.78 479.6,981.23 480.4,981.6 481.2,981.76 482,981.26 482.8,981.09 483.6,981.04 484.4,981.79 485.2,981.06 486,981.45 486.8,981.02 487.6,981.42 488.4,981.86 489.2,981.05 490,981.75 490.8,981.45 491.6,981.85 492.4,981.68 493.2,981.22 494,981.9 494.8,981.5 495.6,981.06 496.4,981.05 497.2,981.56 498,981.53 498.8,981.4 499.6,981.25 500.4,981.47 501.2,981.46 502,982 502.8,981.18 503.6,981.95 504.4,982.05 505.2,981.35 506,982.18 506.8,981.98 507.6,982.19 508.4,981.59 509.2,981.69 510,981.73 510.8,982.36 511.6,981.97 512.4,981.76 513.2,981.85 514,981.71 514.8,981.51 515.6,981.58 516.4,982.33 517.2,981.81 518,982.48 518.8,981.81 519.6,981.85 520.4,982.12 521.2,981.82 522,982.02 522.8,982.63 523.6,982.58 524.4,982.53 525.2,982.37 526,982.68 526.8,982.73 527.6,982.36 528.4,982.56 529.2,981.91 530,982.62 530.8,982.36 531.6,982.69 532.4,982.61 533.2,982.28 534,982.07 534.8,982.97 535.6,982.2 536.4,982.58 537.2,982.48 538,982.46 538.8,982.93 539.6,983.2 540.4,982.52 541.2,982.95 542,982.63 542.8,982.92 543.6,982.79 544.4,982.61 545.2,982.65 546,982.74 546.8,983.48 547.6,983.13 548.4,982.92 549.2,983.67 550,983.83 550.8,983.36 551.6,983.13 552.4,983.26 553.2,983.25 554,983.59 554.8,983.44 555.6,983.68 556.4,983.79 557.2,984.2 558,984.61 558.8,984.56 559.6,984.31 560.4,984.38 561.2,984.56 562,984.47 562.8,984.47 563.6,984.23 564.4,984.46 565.2,985.16 566,984.33 566.8,984.68 567.6,984.78 568.4,984.98 569.2,984.28 570,984.27 570.8,984.17 571.6,984.23 572.4,984.18 573.2,984.59 574,984.37 574.8,984.28 575.6,983.31 576.4,983.21 577.2,983.77 578,983.84 578.8,983.32 579.6,983.33 580.4,982.64 581.2,982.95 582,983.39 582.8,983.21 583.6,983.17 584.4,983.22 585.2,982.43 586,982.25 586.8,982.24 587.6,982.56 588.4,982.68 589.2,982.9 590,982.65 590.8,982.54 591.6,982.62 592.4,982.29 593.2,982.35 594,981.81 594.8,982.53 595.6,981.95 596.4,982.61 597.2,982.31 598,981.94 598.8,981.74 599.6,981.84 600.4,982.2 601.2,982.25 602,981.64 602.8,981.58 603.6,982.01 604.4,982.05 605.2,981.83 606,981.65 606.8,982.01 607.6,981.4 608.4,981.68 609.2,981.82 610,982.3 610.8,981.97 611.6,982.2 612.4,981.77 613.2,981.52 614,981.51 614.8,982.22 615.6,981.95 616.4,981.54 617.2,981.24 618,981.71 618.8,981.87 619.6,981.61 620.4,981.44 621.2,981.84 622,982.09 622.8,981.38 623.6,981.18 624.4,981.48 625.2,981.55 626,981.81 626.8,981.32 627.6,981.91 628.4,981.85 629.2,981.61 630,981.31 630.8,982.08 631.6,981.41 632.4,981.92 633.2,981.33 634,981.32 634.8,981.87 635.6,981.4 636.4,982.06 637.2,981.61 638,981.3 638.8,981.35 639.6,981.54 640.4,981.8 641.2,982.09 642,981.29 642.8,981.55 643.6,981.38 644.4,982.15 645.2,981.33 646,981.25 646.8,981.27 647.6,981.61 648.4,982.13 649.2,982.13 650,981.99 650.8,982.27 651.6,982.22 652.4,981.63 653.2,981.5 654,982.27 654.8,982.09 655.6,981.4 656.4,982.05 657.2,981.78 658,981.8 658.8,981.77 659.6,981.63 660.4,981.48 661.2,981.78 662,981.87 662.8,982.5 663.6,981.69 664.4,982.55 665.2,981.82 666,981.99 666.8,982.48 667.6,982.5 668.4,982.14 669.2,981.78 670,982.23 670.8,982.15 671.6,982.72 672.4,982.02 673.2,982.22 674,982.78 674.8,981.94 675.6,982.35 676.4,982.77 677.2,982.76 678,982.06 678.8,982.08 679.6,982.14 680.4,983.03 681.2,982.4 682,982.92 682.8,983.1 683.6,982.58 684.4,982.54 685.2,983.26 686,982.96 686.8,982.64 687.6,983.13 688.4,982.77 689.2,982.76 690,982.53 690.8,983.32 691.6,983.52 692.4,983.27 693.2,983.62 694,982.74 694.8,982.99 695.6,983.28 696.4,983.8 697.2,983.84 698,983.31 698.8,983.22 699.6,983.44 700.4,983.54 701.2,984.02 702,983.32 702.8,983.98 703.6,983.96 704.4,984.09 705.2,984.08 706,983.96 706.8,983.72 707.6,983.76 708.4,983.84 709.2,984.31 710,983.65 710.8,983.81 711.6,984.41 712.4,983.94 713.2,983.8 714,983.82 714.8,984.38 715.6,984.19 716.4,984.89 717.2,984.83 718,984.98 718.8,984.3 719.6,984.16 720.4,984.21 721.2,984.65 722,984.9 722.8,984.68 723.6,984.51 724.4,984.73 725.2,984.97 726,985.07 726.8,985.18 727.6,985.32 728.4,985.18 729.2,984.67 730,985.43 730.8,984.93 731.6,985.24 732.4,985.08 733.2,985.49 734,984.99 734.8,985.08 735.6,985.12 736.4,985.06 737.2,985.83 738,985.57 738.8,985.36 739.6,985.47 740.4,986.1 741.2,985.66 742,985.42 742.8,986.04 743.6,985.92 744.4,986.3 745.2,985.45 746,985.86 746.8,986.25 747.6,986.31 748.4,986.42 749.2,985.59 750,985.88 750.8,985.75 751.6,985.86 752.4,986.68 753.2,986.33 754,986.71 754.8,986.2 755.6,986.73 756.4,986.35 757.2,986.2 758,986.76 758.8,986.97 759.6,986.17 760.4,986.69 761.2,986.76 762,986.39 762.8,986.58 763.6,986.39 764.4,986.5 765.2,986.58 766,986.97 766.8,987.06 767.6,986.64 768.4,986.49 769.2,986.84 770,987.22 770.8,986.77 771.6,986.92 772.4,986.84 773.2,987.46 774,987.23 774.8,986.76 775.6,986.79" fill="none" stroke="#f5b6b9" stroke-width="3.6" stroke-linejoin="round" stroke-linecap="butt" />
<polyline points="64.4,973.6 65.2,970.76 66,969.14 66.8,967.64 67.6,966.99 68.4,966.99 69.2,966.27 70,965.78 70.8,965.45 71.6,965.73 72.4,964.78 73.2,964.8 74,964.4 74.8,964.32 75.6,964.64 76.4,964.67 77.2,963.95 78,963.7 78.8,964.17 79.6,963.58 80.4,963.33 81.2,964.19 82,963.67 82.8,964.03 83.6,963.58 84.4,964.02 85.2,963.57 86,963.25 86.8,963.07 87.6,963.58 88.4,963.65 89.2,963.89 90,963.05 90.8,963.56 91.6,963.28 92.4,963.39 93.2,963 94,963.12 94.8,963.33 95.6,963.7 96.4,962.86 97.2,963.21 98,963.49 98.8,963.62 99.6,962.81 100.4,962.7 101.2,963.48 102,963.46 102.8,962.92 103.6,962.44 104.4,963.25 105.2,962.66 106,963.12 106.8,962.77 107.6,962.92 108.4,962.19 109.2,962.75 110,962.12 110.8,962.24 111.6,962.61 112.4,962.52 113.2,961.8 114,961.76 114.8,961.86 115.6,961.9 116.4,961.68 117.2,961.33 118,961.37 118.8,961.75 119.6,961.83 120.4,960.87 121.2,961.29 122,961.38 122.8,960.56 123.6,961.24 124.4,960.4 125.2,960.77 126,960.59 126.8,960.54 127.6,960.08 128.4,960.05 129.2,960.07 130,959.76 130.8,959.84 131.6,959.47 132.4,959.3 133.2,958.73 134,959.16 134.8,958.86 135.6,958.44 136.4,958.8 137.2,958.64 138,958.15 138.8,957.7 139.6,957.82 140.4,957.29 141.2,957.14 142,957.27 142.8,956.76 143.6,956.95 144.4,956.85 145.2,956.23 146,956.67 146.8,955.96 147.6,956.46 148.4,956.35 149.2,955.93 150,955.3 150.8,955.58 151.6,955.29 152.4,955.7 153.2,954.72 154,955.3 154.8,955.32 155.6,954.94 156.4,954.94 157.2,954.24 158,954.97 158.8,954.44 159.6,954.86 160.4,954.8 161.2,954.03 162,954.64 162.8,954.78 163.6,953.91 164.4,954.2 165.2,954.61 166,954.03 166.8,954.78 167.6,954.18 168.4,954.74 169.2,954.09 170,954.48 170.8,954.93 171.6,954.25 172.4,954.34 173.2,954.62 174,954.47 174.8,954.23 175.6,954.42 176.4,954.44 177.2,955.26 178,955.05 178.8,955.32 179.6,954.65 180.4,955.32 181.2,954.7 182,955.18 182.8,955.35 183.6,955.13 184.4,955.72 185.2,955.48 186,955.58 186.8,955.97 187.6,955.28 188.4,956.26 189.2,955.99 190,955.84 190.8,956.34 191.6,955.91 192.4,956.73 193.2,956.42 194,956.3 194.8,956.8 195.6,956.58 196.4,956.41 197.2,957.08 198,956.48 198.8,957.34 199.6,956.87 200.4,957.35 201.2,957.78 202,957.47 202.8,957.63 203.6,957.37 204.4,957.14 205.2,957.26 206,957.46 206.8,958.02 207.6,957.93 208.4,958.1 209.2,958.57 210,957.9 210.8,958.09 211.6,958.6 212.4,958.06 213.2,958.14 214,958.58 214.8,958.42 215.6,958.76 216.4,958.72 217.2,959.17 218,959.26 218.8,958.96 219.6,959.47 220.4,959.4 221.2,959.15 222,960.03 222.8,959.42 223.6,959.4 224.4,959.43 225.2,960.05 226,960.35 226.8,960.33 227.6,960.02 228.4,959.95 229.2,959.75 230,960.44 230.8,960.42 231.6,960.25 232.4,960.59 233.2,960.43 234,960.95 234.8,960.78 235.6,960.32 236.4,960.99 237.2,960.14 238,960.64 238.8,960.52 239.6,960.35 240.4,960.17 241.2,960.87 242,960.09 242.8,960.61 243.6,960.97 244.4,960.14 245.2,960.16 246,960.52 246.8,960.37 247.6,960.45 248.4,960.56 249.2,959.86 250,959.93 250.8,959.85 251.6,959.52 252.4,960.28 253.2,960.09 254,959.94 254.8,959.15 255.6,959.89 256.4,959.69 257.2,959.3 258,959.45 258.8,959.02 259.6,958.65 260.4,958.37 261.2,958.34 262,957.97 262.8,958.1 263.6,958.33 264.4,958.1 265.2,958.07 266,957.76 266.8,957.14 267.6,957.25 268.4,956.97 269.2,957.16 270,956.73 270.8,956.33 271.6,956.57 272.4,956.76 273.2,955.9 274,956.46 274.8,955.5 275.6,955.67 276.4,955.57 277.2,956.02 278,956.18 278.8,955.94 279.6,955.49 280.4,956.03 281.2,955.46 282,955.35 282.8,956.02 283.6,955.74 284.4,955.8 285.2,955.79 286,956.12 286.8,955.62 287.6,956.01 288.4,955.89 289.2,956.08 290,955.69 290.8,956.01 291.6,955.88 292.4,955.66 293.2,955.6 294,956.05 294.8,955.54 295.6,956.42 296.4,955.69 297.2,955.62 298,955.74 298.8,956.61 299.6,956.07 300.4,955.91 301.2,955.84 302,955.89 302.8,956.59 303.6,956.57 304.4,956.68 305.2,956.77 306,956.15 306.8,956.73 307.6,956.56 308.4,957.07 309.2,957.14 310,957.27 310.8,956.51 311.6,957.38 312.4,957.5 313.2,957.6 314,956.83 314.8,957.01 315.6,956.98 316.4,956.98 317.2,957.87 318,957.9 318.8,957.8 319.6,958.06 320.4,957.94 321.2,957.67 322,957.55 322.8,957.62 323.6,958.34 324.4,957.86 325.2,958.04 326,958.21 326.8,957.86 327.6,958.16 328.4,958.25 329.2,958.74 330,958.44 330.8,958.45 331.6,959.15 332.4,958.75 333.2,959.15 334,958.97 334.8,958.43 335.6,958.87 336.4,958.94 337.2,959.33 338,958.96 338.8,959.37 339.6,959.25 340.4,958.98 341.2,959.68 342,958.96 342.8,959.74 343.6,959.14 344.4,959.02 345.2,959.27 346,959.88 346.8,960.14 347.6,959.22 348.4,959.76 349.2,959.81 350,960.16 350.8,959.6 351.6,959.96 352.4,959.86 353.2,960.39 354,959.87 354.8,960.6 355.6,959.99 356.4,959.97 357.2,960.51 358,960.35 358.8,960.01 359.6,960.59 360.4,960.08 361.2,960.84 362,960.8 362.8,960.94 363.6,960.83 364.4,960.61 365.2,960.71 366,960.76 366.8,961.31 367.6,960.57 368.4,961.43 369.2,960.64 370,960.88 370.8,961.01 371.6,961.72 372.4,961.39 373.2,961.33 374,961.91 374.8,961.32 375.6,961.61 376.4,961.74 377.2,962.01 378,962.06 378.8,961.99 379.6,961.73 380.4,961.74 381.2,961.59 382,962.3 382.8,962.14 383.6,962.22 384.4,961.66 385.2,961.94 386,962.27 386.8,962.07 387.6,961.61 388.4,961.93 389.2,962.33 390,961.66 390.8,961.6 391.6,961.68 392.4,962.05 393.2,962.16 394,961.44 394.8,961.41 395.6,961.47 396.4,961.51 397.2,961.67 398,961.28 398.8,961.41 399.6,961.23 400.4,961.98 401.2,961.69 402,961.03 402.8,961.85 403.6,960.96 404.4,961.2 405.2,961.76 406,961.54 406.8,961.45 407.6,961.11 408.4,960.84 409.2,961.25 410,960.69 410.8,960.77 411.6,960.92 412.4,960.54 413.2,960.88 414,961.26 414.8,961.14 415.6,960.93 416.4,961.05 417.2,960.88 418,960.55 418.8,961.01 419.6,960.81 420.4,961.15 421.2,961.33 422,960.86 422.8,961.02 423.6,961.21 424.4,960.9 425.2,960.74 426,961.26 426.8,961.44 427.6,961.37 428.4,961.33 429.2,961.52 430,961.38 430.8,961.39 431.6,961.24 432.4,961.14 433.2,961.5 434,961.02 434.8,961.39 435.6,961.8 436.4,961.78 437.2,961.74 438,961.41 438.8,961.63 439.6,961.71 440.4,961.92 441.2,961.76 442,962.07 442.8,962.37 443.6,961.67 444.4,962.18 445.2,962.34 446,961.99 446.8,962.13 447.6,962.65 448.4,961.75 449.2,962.28 450,961.93 450.8,962.58 451.6,962.76 452.4,962.36 453.2,961.96 454,962.46 454.8,962.44 455.6,962.64 456.4,962.45 457.2,962.59 458,962.79 458.8,962.5 459.6,962.4 460.4,962.95 461.2,962.23 462,962.71 462.8,962.43 463.6,962.82 464.4,962.19 465.2,963.06 466,962.44 466.8,962.15 467.6,962.38 468.4,962.52 469.2,962.14 470,962.55 470.8,962.56 471.6,962.85 472.4,962.51 473.2,962.43 474,962.39 474.8,962.92 475.6,963.12 476.4,962.71 477.2,962.41 478,962.99 478.8,962.58 479.6,962.4 480.4,962.32 481.2,962.97 482,963 482.8,962.82 483.6,962.66 484.4,962.74 485.2,962.41 486,963.14 486.8,962.52 487.6,962.8 488.4,962.97 489.2,962.96 490,962.6 490.8,962.41 491.6,962.65 492.4,962.21 493.2,962.9 494,962.41 494.8,962.89 495.6,962.28 496.4,962.37 497.2,962.22 498,962.36 498.8,962.1 499.6,961.88 500.4,962.56 501.2,962.09 502,962.01 502.8,962.03 503.6,962.16 504.4,962.06 505.2,962.22 506,962.19 506.8,961.84 507.6,962.35 508.4,962.21 509.2,961.35 510,962.06 510.8,962.08 511.6,961.88 512.4,961.17 513.2,961.79 514,961.52 514.8,960.83 515.6,960.74 516.4,961.61 517.2,961.23 518,960.75 518.8,960.52 519.6,960.48 520.4,960.48 521.2,960.94 522,960.43 522.8,960.15 523.6,960.82 524.4,960.62 525.2,959.91 526,960.55 526.8,960.19 527.6,960.28 528.4,960.08 529.2,960.22 530,960.04 530.8,960.01 531.6,959.29 532.4,959.71 533.2,959.48 534,959.61 534.8,959.24 535.6,959.61 536.4,959.2 537.2,958.84 538,958.73 538.8,958.55 539.6,958.81 540.4,958.29 541.2,958.61 542,958.19 542.8,958.44 543.6,958.36 544.4,958.3 545.2,958.53 546,957.57 546.8,958.31 547.6,957.84 548.4,957.84 549.2,957.85 550,957.94 550.8,957.39 551.6,957.35 552.4,957.82 553.2,956.87 554,957.36 554.8,957.3 555.6,956.65 556.4,957.19 557.2,957.22 558,957.46 558.8,956.85 559.6,957.5 560.4,957.06 561.2,957.07 562,957.54 562.8,956.76 563.6,957.53 564.4,957.57 565.2,957.42 566,958.1 566.8,957.81 567.6,958.11 568.4,958.41 569.2,958.89 570,958.61 570.8,959.12 571.6,959.41 572.4,959.85 573.2,960.44 574,960.22 574.8,961.07 575.6,960.97 576.4,961.37 577.2,961.43 578,961.95 578.8,962.68 579.6,962.62 580.4,963.01 581.2,962.8 582,963.06 582.8,963.31 583.6,963.88 584.4,964.21 585.2,964.64 586,964.18 586.8,965.15 587.6,965.59 588.4,965.53 589.2,965.3 590,965.82 590.8,965.78 591.6,966.22 592.4,967.19 593.2,967.09 594,967.35 594.8,967.66 595.6,967.96 596.4,967.79 597.2,967.92 598,967.98 598.8,968.09 599.6,967.96 600.4,967.97 601.2,967.4 602,967.69 602.8,967.29 603.6,967.39 604.4,966.52 605.2,966.39 606,966.05 606.8,966.64 607.6,966.64 608.4,966.28 609.2,965.92 610,966.35 610.8,966.29 611.6,966.08 612.4,965.79 613.2,965.87 614,966.02 614.8,965.96 615.6,966.12 616.4,966.39 617.2,966.74 618,965.92 618.8,966.5 619.6,966.05 620.4,966.2 621.2,966.96 622,966.81 622.8,967.23 623.6,966.83 624.4,966.48 625.2,966.93 626,967.22 626.8,967.65 627.6,967.77 628.4,967.35 629.2,967.36 630,967.13 630.8,967.75 631.6,967.39 632.4,967.41 633.2,967.35 634,967.42 634.8,968.18 635.6,967.71 636.4,968.65 637.2,967.87 638,968.75 638.8,968.12 639.6,968.12 640.4,968.93 641.2,968.57 642,969.17 642.8,968.74 643.6,968.71 644.4,969.54 645.2,969.59 646,969.83 646.8,969.8 647.6,969.25 648.4,969.89 649.2,970.05 650,969.88 650.8,970.43 651.6,969.81 652.4,970.59 653.2,970.4 654,969.74 654.8,969.78 655.6,970.46 656.4,970.66 657.2,969.94 658,970.18 658.8,970.61 659.6,970.06 660.4,970.75 661.2,970.36 662,969.91 662.8,970.2 663.6,970.38 664.4,970.2 665.2,970.4 666,969.83 666.8,970.44 667.6,969.95 668.4,970.17 669.2,970.1 670,969.83 670.8,969.74 671.6,970.08 672.4,970.17 673.2,969.94 674,969.65 674.8,969.31 675.6,969.01 676.4,969.85 677.2,969.51 678,969.56 678.8,968.99 679.6,969.19 680.4,969.49 681.2,969.28 682,968.97 682.8,968.61 683.6,968.66 684.4,969.05 685.2,968.47 686,968.71 686.8,968.56 687.6,968.79 688.4,968.64 689.2,968.06 690,967.72 690.8,967.93 691.6,968.03 692.4,968.14 693.2,968.33 694,968.36 694.8,967.48 695.6,968.23 696.4,968.18 697.2,968.22 698,967.91 698.8,967.59 699.6,968.16 700.4,968.11 701.2,968 702,968.24 702.8,967.68 703.6,967.43 704.4,967.93 705.2,968.2 706,967.63 706.8,968.21 707.6,968.43 708.4,967.78 709.2,968.19 710,968.31 710.8,968.16 711.6,967.96 712.4,968.06 713.2,968.63 714,968.74 714.8,968.48 715.6,968.18 716.4,968.98 717.2,969.03 718,968.58 718.8,969.01 719.6,969.42 720.4,969.5 721.2,969.23 722,969.28 722.8,969.49 723.6,969.18 724.4,969.28 725.2,969.37 726,969.99 726.8,969.75 727.6,970.05 728.4,969.99 729.2,970.2 730,969.93 730.8,969.92 731.6,970.97 732.4,970.45 733.2,970.29 734,970.92 734.8,971.18 735.6,970.66 736.4,971.21 737.2,971.07 738,971.36 738.8,970.97 739.6,971.11 740.4,972.18 741.2,972.18 742,971.92 742.8,972.12 743.6,971.94 744.4,972.58 745.2,972.35 746,973 746.8,972.94 747.6,973.12 748.4,973.39 749.2,972.81 750,972.72 750.8,973.01 751.6,973.12 752.4,973.15 753.2,973.25 754,973.88 754.8,974.33 755.6,974.04 756.4,974.66 757.2,974.75 758,974.03 758.8,974.69 759.6,974.62 760.4,974.47 761.2,975.44 762,974.86 762.8,975.29 763.6,975.49 764.4,975.93 765.2,975.75 766,975.59 766.8,975.76 767.6,975.58 768.4,976.49 769.2,976.61 770,975.93 770.8,975.83 771.6,976.12 772.4,976.28 773.2,976.88 774,976.9 774.8,976.82 775.6,976.03" fill="none" stroke="#6faad6" stroke-width="3.3" stroke-linejoin="round" stroke-linecap="butt" />
<polyline points="64.4,932.67 65.2,932.54 66,932.4 66.8,932.5 67.6,931.84 68.4,931.8 69.2,932.09 70,932.12 70.8,931.89 71.6,931.6 72.4,931.72 73.2,931.76 74,931.32 74.8,931.41 75.6,931.32 76.4,931.2 77.2,931.37 78,931.14 78.8,931.14 79.6,931.04 80.4,931.32 81.2,930.88 82,931.26 82.8,930.91 83.6,930.78 84.4,931.28 85.2,930.83 86,931.22 86.8,931.15 87.6,931.14 88.4,930.66 89.2,930.81 90,930.57 90.8,931.05 91.6,930.97 92.4,930.81 93.2,930.68 94,930.59 94.8,930.85 95.6,930.62 96.4,930.69 97.2,930.37 98,930.39 98.8,930.27 99.6,930.64 100.4,930.52 101.2,930.25 102,930.66 102.8,930.28 103.6,930.34 104.4,930.16 105.2,930.21 106,930.53 106.8,930.2 107.6,930.08 108.4,930.25 109.2,930.13 110,930.45 110.8,929.96 111.6,930.45 112.4,929.88 113.2,930.36 114,930.2 114.8,929.9 115.6,930.04 116.4,929.9 117.2,929.87 118,929.81 118.8,929.89 119.6,930.24 120.4,930.22 121.2,930.16 122,929.64 122.8,929.73 123.6,930.07 124.4,929.55 125.2,929.93 126,929.64 126.8,930.03 127.6,929.44 128.4,929.89 129.2,929.59 130,929.44 130.8,929.34 131.6,929.82 132.4,929.61 133.2,929.39 134,929.51 134.8,929.78 135.6,929.34 136.4,929.53 137.2,929.25 138,929.26 138.8,929.59 139.6,929.53 140.4,929.2 141.2,929.11 142,929.09 142.8,929.39 143.6,929.3 144.4,929.14 145.2,929.08 146,929.31 146.8,929.34 147.6,929.38 148.4,929.23 149.2,928.98 150,928.87 150.8,929.25 151.6,929.04 152.4,929.21 153.2,928.79 154,929.22 154.8,928.91 155.6,929.2 156.4,929.19 157.2,928.95 158,928.64 158.8,929.16 159.6,928.88 160.4,929.1 161.2,928.71 162,928.65 162.8,929.01 163.6,928.72 164.4,928.58 165.2,928.68 166,928.8 166.8,928.42 167.6,928.71 168.4,928.65 169.2,928.67 170,928.42 170.8,928.75 171.6,928.8 172.4,928.81 173.2,928.46 174,928.68 174.8,928.46 175.6,928.67 176.4,928.23 177.2,928.7 178,928.73 178.8,928.44 179.6,928.43 180.4,928.42 181.2,928.41 182,928.08 182.8,928.63 183.6,928.17 184.4,928.13 185.2,928.07 186,928.14 186.8,928.46 187.6,927.97 188.4,927.99 189.2,928.34 190,928.02 190.8,927.9 191.6,928.23 192.4,928.2 193.2,928.15 194,928.24 194.8,927.86 195.6,928.31 196.4,928.2 197.2,927.78 198,927.81 198.8,928.02 199.6,928 200.4,927.85 201.2,927.74 202,927.89 202.8,927.71 203.6,927.97 204.4,928.11 205.2,927.67 206,927.91 206.8,927.99 207.6,927.63 208.4,928.01 209.2,928.06 210,927.71 210.8,927.71 211.6,927.95 212.4,927.74 213.2,927.65 214,927.96 214.8,927.84 215.6,927.56 216.4,927.49 217.2,927.53 218,927.57 218.8,927.88 219.6,927.76 220.4,927.81 221.2,927.73 222,927.73 222.8,927.24 223.6,927.51 224.4,927.75 225.2,927.73 226,927.3 226.8,927.39 227.6,927.5 228.4,927.32 229.2,927.41 230,927.12 230.8,927.32 231.6,927.35 232.4,927.05 233.2,927.1 234,927.59 234.8,927.46 235.6,927.54 236.4,927.35 237.2,927.44 238,927.47 238.8,927.46 239.6,926.94 240.4,927.29 241.2,927.06 242,927.29 242.8,927.04 243.6,927.19 244.4,927.41 245.2,927.21 246,926.98 246.8,927.13 247.6,927.07 248.4,927.37 249.2,926.97 250,926.97 250.8,927.17 251.6,926.84 252.4,927.12 253.2,927.33 254,927.05 254.8,926.9 255.6,927.01 256.4,927.04 257.2,926.8 258,926.78 258.8,926.78 259.6,926.87 260.4,926.93 261.2,926.86 262,926.82 262.8,926.72 263.6,926.99 264.4,927.16 265.2,927.02 266,926.99 266.8,927.03 267.6,926.76 268.4,927.06 269.2,926.91 270,926.96 270.8,926.99 271.6,926.9 272.4,926.81 273.2,926.76 274,926.75 274.8,926.92 275.6,926.84 276.4,926.95 277.2,926.61 278,926.81 278.8,927.11 279.6,926.74 280.4,926.93 281.2,926.89 282,926.76 282.8,927.18 283.6,926.76 284.4,927.05 285.2,926.68 286,926.62 286.8,927.1 287.6,926.84 288.4,926.61 289.2,926.81 290,926.84 290.8,927.02 291.6,926.64 292.4,926.71 293.2,927.15 294,927.02 294.8,926.67 295.6,926.77 296.4,926.78 297.2,926.98 298,926.94 298.8,927.08 299.6,927.06 300.4,926.88 301.2,927.01 302,927.02 302.8,927.03 303.6,926.86 304.4,927.04 305.2,927 306,927.12 306.8,926.65 307.6,927.1 308.4,926.58 309.2,927.04 310,926.93 310.8,926.88 311.6,927.16 312.4,926.92 313.2,926.83 314,927.05 314.8,927.11 315.6,926.95 316.4,926.82 317.2,926.86 318,926.87 318.8,927.03 319.6,926.77 320.4,926.83 321.2,926.93 322,926.83 322.8,926.8 323.6,927.08 324.4,927.12 325.2,926.91 326,926.88 326.8,926.72 327.6,926.8 328.4,926.7 329.2,926.96 330,926.97 330.8,926.68 331.6,927.18 332.4,926.82 333.2,927.14 334,927.14 334.8,927.21 335.6,926.76 336.4,926.9 337.2,927.19 338,926.66 338.8,926.68 339.6,926.99 340.4,926.96 341.2,927.21 342,927.13 342.8,926.99 343.6,927.27 344.4,926.98 345.2,926.99 346,927.09 346.8,926.92 347.6,926.9 348.4,927.05 349.2,926.91 350,927.27 350.8,927.11 351.6,927.02 352.4,926.77 353.2,926.94 354,926.96 354.8,927.06 355.6,927.07 356.4,927.26 357.2,927.31 358,927.03 358.8,927.01 359.6,927.12 360.4,927.35 361.2,926.96 362,927.08 362.8,927.26 363.6,926.87 364.4,926.97 365.2,927.37 366,927.28 366.8,927.1 367.6,926.86 368.4,927.34 369.2,927.22 370,927.3 370.8,927.41 371.6,927.35 372.4,927.07 373.2,926.92 374,927.01 374.8,927.14 375.6,927.15 376.4,926.96 377.2,926.96 378,927.24 378.8,927.23 379.6,927.08 380.4,927.47 381.2,927.26 382,926.91 382.8,927.14 383.6,927.37 384.4,927.09 385.2,927.32 386,926.92 386.8,927.1 387.6,927.43 388.4,927.28 389.2,927.34 390,927.06 390.8,927.25 391.6,927.29 392.4,927.12 393.2,927.36 394,927.29 394.8,927.58 395.6,927.33 396.4,927.24 397.2,927.07 398,927.1 398.8,927.47 399.6,927.08 400.4,927.09 401.2,927.14 402,927.35 402.8,927.54 403.6,927.42 404.4,927.54 405.2,927.1 406,927.08 406.8,927.54 407.6,927.28 408.4,927.52 409.2,927.31 410,927.21 410.8,927.28 411.6,927.18 412.4,927.67 413.2,927.49 414,927.35 414.8,927.42 415.6,927.39 416.4,927.2 417.2,927.71 418,927.53 418.8,927.76 419.6,927.46 420.4,927.58 421.2,927.36 422,927.25 422.8,927.79 423.6,927.75 424.4,927.44 425.2,927.79 426,927.75 426.8,927.45 427.6,927.64 428.4,927.86 429.2,927.59 430,927.88 430.8,927.46 431.6,927.56 432.4,927.76 433.2,927.47 434,927.53 434.8,927.88 435.6,927.65 436.4,927.85 437.2,927.53 438,927.5 438.8,927.62 439.6,927.52 440.4,928 441.2,927.61 442,927.78 442.8,927.52 443.6,927.78 444.4,927.7 445.2,927.72 446,927.53 446.8,927.57 447.6,928 448.4,927.73 449.2,927.67 450,927.65 450.8,927.72 451.6,927.7 452.4,927.59 453.2,927.97 454,927.79 454.8,927.69 455.6,928.03 456.4,927.67 457.2,927.79 458,928.14 458.8,927.73 459.6,927.93 460.4,928.17 461.2,928.16 462,927.79 462.8,927.91 463.6,928.15 464.4,927.95 465.2,928.31 466,927.87 466.8,928.33 467.6,928.07 468.4,927.91 469.2,928.06 470,927.88 470.8,928.23 471.6,927.98 472.4,928.37 473.2,928.2 474,928.08 474.8,928.01 475.6,928.24 476.4,928.02 477.2,928.42 478,927.98 478.8,928.23 479.6,928.26 480.4,928.11 481.2,928.42 482,928.2 482.8,928.37 483.6,928.33 484.4,928.19 485.2,928.25 486,928.08 486.8,928.14 487.6,928.56 488.4,928.25 489.2,928.47 490,928.15 490.8,928.43 491.6,928.32 492.4,928.42 493.2,928.31 494,928.18 494.8,928.34 495.6,928.3 496.4,928.25 497.2,928.62 498,928.37 498.8,928.45 499.6,928.77 500.4,928.7 501.2,928.78 502,928.78 502.8,928.35 503.6,928.45 504.4,928.31 505.2,928.71 506,928.72 506.8,928.54 507.6,928.59 508.4,928.75 509.2,928.79 510,928.53 510.8,928.9 511.6,928.62 512.4,928.79 513.2,928.54 514,928.51 514.8,929 515.6,928.91 516.4,928.91 517.2,928.51 518,928.53 518.8,928.61 519.6,928.65 520.4,928.72 521.2,928.78 522,928.59 522.8,928.76 523.6,928.97 524.4,928.71 525.2,929.12 526,928.97 526.8,929.07 527.6,928.8 528.4,928.92 529.2,929.09 530,928.9 530.8,928.7 531.6,929.21 532.4,929.19 533.2,928.91 534,928.78 534.8,929.28 535.6,929.14 536.4,928.82 537.2,928.95 538,928.88 538.8,929.3 539.6,928.96 540.4,929.4 541.2,929.31 542,928.93 542.8,929.31 543.6,929.14 544.4,929.36 545.2,929.42 546,929.11 546.8,929.01 547.6,929.53 548.4,929.23 549.2,929.55 550,929.42 550.8,929.46 551.6,929.53 552.4,929.42 553.2,929.32 554,929.1 554.8,929.5 555.6,929.35 556.4,929.41 557.2,929.67 558,929.2 558.8,929.6 559.6,929.18 560.4,929.59 561.2,929.66 562,929.35 562.8,929.53 563.6,929.8 564.4,929.61 565.2,929.57 566,929.4 566.8,929.3 567.6,929.49 568.4,929.54 569.2,929.43 570,929.5 570.8,929.41 571.6,929.77 572.4,929.76 573.2,929.51 574,929.52 574.8,929.7 575.6,929.67 576.4,929.98 577.2,929.64 578,929.62 578.8,929.98 579.6,929.55 580.4,929.82 581.2,929.69 582,929.99 582.8,929.84 583.6,929.98 584.4,929.64 585.2,929.95 586,929.92 586.8,929.85 587.6,930.05 588.4,930.1 589.2,929.68 590,929.8 590.8,929.85 591.6,929.77 592.4,929.7 593.2,929.84 594,929.81 594.8,930.12 595.6,929.98 596.4,929.79 597.2,929.93 598,930.03 598.8,929.98 599.6,929.87 600.4,929.83 601.2,929.8 602,930.41 602.8,930.27 603.6,929.89 604.4,930.28 605.2,930.45 606,930.21 606.8,929.95 607.6,930.19 608.4,930.17 609.2,930.04 610,930.26 610.8,929.95 611.6,930.51 612.4,930.36 613.2,930.36 614,930.56 614.8,930.4 615.6,930.17 616.4,930.18 617.2,930.13 618,930.08 618.8,930.54 619.6,930.59 620.4,930.27 621.2,930.22 622,930.5 622.8,930.64 623.6,930.7 624.4,930.26 625.2,930.64 626,930.68 626.8,930.64 627.6,930.41 628.4,930.33 629.2,930.73 630,930.44 630.8,930.48 631.6,930.6 632.4,930.51 633.2,930.8 634,930.45 634.8,930.35 635.6,930.68 636.4,930.73 637.2,930.85 638,930.8 638.8,930.93 639.6,930.97 640.4,930.71 641.2,930.73 642,930.53 642.8,930.63 643.6,930.81 644.4,930.53 645.2,930.9 646,930.6 646.8,930.78 647.6,931.11 648.4,930.6 649.2,930.58 650,930.83 650.8,930.7 651.6,931.03 652.4,930.61 653.2,931.12 654,931.15 654.8,931.12 655.6,930.91 656.4,930.84 657.2,931.08 658,931.01 658.8,930.96 659.6,930.93 660.4,931 661.2,931.15 662,931.26 662.8,931.32 663.6,930.89 664.4,930.98 665.2,931.08 666,931.17 666.8,931.05 667.6,930.97 668.4,930.92 669.2,931.08 670,931.17 670.8,931.49 671.6,931.47 672.4,931.45 673.2,931.53 674,931.54 674.8,931.35 675.6,931.47 676.4,931.04 677.2,931.42 678,931.39 678.8,931.22 679.6,931.4 680.4,931.64 681.2,931.37 682,931.48 682.8,931.29 683.6,931.33 684.4,931.67 685.2,931.17 686,931.28 686.8,931.58 687.6,931.46 688.4,931.25 689.2,931.61 690,931.45 690.8,931.59 691.6,931.51 692.4,931.59 693.2,931.63 694,931.54 694.8,931.38 695.6,931.44 696.4,931.88 697.2,931.68 698,931.44 698.8,931.9 699.6,931.55 700.4,931.47 701.2,931.74 702,931.59 702.8,931.75 703.6,931.8 704.4,931.62 705.2,931.84 706,931.58 706.8,931.83 707.6,931.89 708.4,931.6 709.2,931.81 710,931.62 710.8,931.86 711.6,932.13 712.4,931.95 713.2,932.07 714,932.11 714.8,931.74 715.6,932.28 716.4,932.13 717.2,931.77 718,932.22 718.8,931.97 719.6,931.86 720.4,932.34 721.2,932.12 722,932.26 722.8,931.9 723.6,932.29 724.4,931.88 725.2,932 726,932.1 726.8,931.9 727.6,932.26 728.4,932.05 729.2,932.12 730,932.38 730.8,932.22 731.6,932.52 732.4,932.38 733.2,932.54 734,932.37 734.8,932.6 735.6,932.59 736.4,932.19 737.2,932.55 738,932.33 738.8,932.6 739.6,932.56 740.4,932.67 741.2,932.27 742,932.43 742.8,932.67 743.6,932.82 744.4,932.7 745.2,932.31 746,932.66 746.8,932.38 747.6,932.67 748.4,932.84 749.2,932.45 750,932.95 750.8,932.82 751.6,932.59 752.4,932.57 753.2,932.75 754,933 754.8,932.87 755.6,932.61 756.4,932.58 757.2,932.65 758,933.09 758.8,932.74 759.6,932.98 760.4,932.84 761.2,933.1 762,932.94 762.8,932.82 763.6,933.28 764.4,933.11 765.2,933.22 766,933.31 766.8,933.42 767.6,932.88 768.4,933.1 769.2,933.01 770,933.24 770.8,933.49 771.6,933.47 772.4,933.03 773.2,933.14 774,933.54 774.8,933.48 775.6,933.33" fill="none" stroke="#f0716a" stroke-width="3.3" stroke-linejoin="round" stroke-linecap="butt" />
<polyline points="64.4,925.19 65.2,925.17 66,925.77 66.8,925.69 67.6,926.17 68.4,926.2 69.2,926.07 70,926.41 70.8,926.53 71.6,927.11 72.4,927.11 73.2,926.95 74,927.2 74.8,927.48 75.6,927.7 76.4,927.92 77.2,927.96 78,928.08 78.8,928.01 79.6,928.48 80.4,928.46 81.2,928.39 82,928.78 82.8,929.21 83.6,928.76 84.4,928.93 85.2,929.35 86,929.22 86.8,929.32 87.6,929.55 88.4,929.51 89.2,929.79 90,929.86 90.8,930.2 91.6,930.32 92.4,929.83 93.2,930.23 94,930.44 94.8,930.59 95.6,930.61 96.4,930.6 97.2,930.69 98,930.6 98.8,930.63 99.6,931.02 100.4,931.14 101.2,931.26 102,931.18 102.8,931.03 103.6,931.38 104.4,931.44 105.2,931.38 106,931.53 106.8,931.44 107.6,931.64 108.4,931.64 109.2,931.51 110,931.76 110.8,931.83 111.6,932.31 112.4,932.09 113.2,932.1 114,932.11 114.8,932.19 115.6,932.33 116.4,932.29 117.2,932.29 118,932.88 118.8,932.71 119.6,932.78 120.4,932.93 121.2,932.85 122,932.84 122.8,932.85 123.6,933.06 124.4,933.13 125.2,933.45 126,933.41 126.8,933.71 127.6,933.41 128.4,933.83 129.2,933.69 130,933.45 130.8,933.56 131.6,933.86 132.4,934.16 133.2,933.84 134,934.14 134.8,933.99 135.6,934.31 136.4,933.87 137.2,934.17 138,934.47 138.8,934.14 139.6,934.18 140.4,934.09 141.2,934.22 142,934.32 142.8,934.62 143.6,934.37 144.4,934.52 145.2,934.44 146,934.73 146.8,934.92 147.6,934.83 148.4,934.59 149.2,934.95 150,935.12 150.8,934.94 151.6,934.66 152.4,935.14 153.2,935.21 154,934.92 154.8,934.83 155.6,934.89 156.4,935.14 157.2,935.37 158,935.26 158.8,935.46 159.6,935.07 160.4,935.17 161.2,935.45 162,935.42 162.8,935.3 163.6,935.5 164.4,935.32 165.2,935.18 166,935.42 166.8,935.23 167.6,935.61 168.4,935.46 169.2,935.58 170,935.67 170.8,935.5 171.6,935.65 172.4,935.4 173.2,935.97 174,935.78 174.8,936.06 175.6,935.53 176.4,935.89 177.2,935.99 178,935.77 178.8,935.66 179.6,935.72 180.4,935.74 181.2,936.13 182,935.75 182.8,936.21 183.6,936 184.4,936.1 185.2,936.15 186,936.15 186.8,936.24 187.6,936.23 188.4,936.09 189.2,936.36 190,936.09 190.8,936.39 191.6,936.44 192.4,936.47 193.2,936.21 194,936.51 194.8,936.66 195.6,936.37 196.4,936.28 197.2,936.45 198,936.72 198.8,936.26 199.6,936.21 200.4,936.51 201.2,936.64 202,936.73 202.8,936.5 203.6,936.9 204.4,936.47 205.2,936.8 206,936.42 206.8,936.41 207.6,936.49 208.4,936.47 209.2,936.75 210,936.8 210.8,936.6 211.6,937.07 212.4,936.75 213.2,936.64 214,936.67 214.8,937.03 215.6,937.16 216.4,936.72 217.2,936.66 218,937.13 218.8,936.83 219.6,937.29 220.4,937.02 221.2,937.12 222,936.96 222.8,937.25 223.6,937.07 224.4,937 225.2,937.37 226,936.91 226.8,937.3 227.6,936.91 228.4,937.28 229.2,937.15 230,937.44 230.8,936.98 231.6,937.3 232.4,937.22 233.2,937.55 234,937.58 234.8,937.4 235.6,937.17 236.4,937.2 237.2,937.23 238,937.34 238.8,937.24 239.6,937.23 240.4,937.58 241.2,937.53 242,937.34 242.8,937.77 243.6,937.31 244.4,937.54 245.2,937.3 246,937.74 246.8,937.75 247.6,937.4 248.4,937.71 249.2,937.76 250,937.45 250.8,937.49 251.6,937.59 252.4,937.85 253.2,937.42 254,937.74 254.8,937.7 255.6,937.63 256.4,937.71 257.2,937.9 258,937.51 258.8,937.92 259.6,937.62 260.4,937.88 261.2,937.94 262,937.54 262.8,937.96 263.6,938.04 264.4,937.63 265.2,937.48 266,937.54 266.8,938.06 267.6,937.49 268.4,938.04 269.2,937.59 270,937.95 270.8,937.57 271.6,937.62 272.4,937.94 273.2,937.59 274,937.75 274.8,938.1 275.6,937.99 276.4,938.09 277.2,938.16 278,937.6 278.8,937.72 279.6,938.07 280.4,938.01 281.2,937.63 282,937.91 282.8,937.75 283.6,937.88 284.4,937.69 285.2,937.65 286,938.23 286.8,937.83 287.6,938.18 288.4,937.73 289.2,937.95 290,937.75 290.8,937.93 291.6,937.79 292.4,938.1 293.2,937.78 294,938.14 294.8,938 295.6,937.78 296.4,937.93 297.2,938.02 298,938.28 298.8,937.94 299.6,937.87 300.4,938.32 301.2,938.28 302,938.19 302.8,937.92 303.6,937.87 304.4,937.93 305.2,937.82 306,937.81 306.8,938.1 307.6,938.04 308.4,938.14 309.2,938.03 310,937.82 310.8,938.23 311.6,938.22 312.4,938.16 313.2,938.17 314,938.26 314.8,938.44 315.6,938.39 316.4,938.3 317.2,938.11 318,938.07 318.8,938.14 319.6,938.48 320.4,938.13 321.2,938.14 322,938.16 322.8,938.01 323.6,938.53 324.4,937.94 325.2,938.31 326,938.51 326.8,938.11 327.6,938.33 328.4,938.2 329.2,938.13 330,938.11 330.8,938.07 331.6,938.51 332.4,938.48 333.2,938.56 334,938.05 334.8,938.45 335.6,938.23 336.4,938.43 337.2,938.38 338,938.25 338.8,938.65 339.6,938.07 340.4,938.53 341.2,938.6 342,938.4 342.8,938.46 343.6,938.71 344.4,938.26 345.2,938.5 346,938.58 346.8,938.36 347.6,938.57 348.4,938.39 349.2,938.47 350,938.53 350.8,938.58 351.6,938.37 352.4,938.56 353.2,938.52 354,938.33 354.8,938.57 355.6,938.37 356.4,938.76 357.2,938.51 358,938.66 358.8,938.55 359.6,938.53 360.4,938.38 361.2,938.34 362,938.82 362.8,938.59 363.6,938.59 364.4,938.6 365.2,938.78 366,938.44 366.8,938.41 367.6,938.8 368.4,938.59 369.2,938.71 370,938.82 370.8,938.87 371.6,938.86 372.4,938.37 373.2,938.58 374,938.86 374.8,938.86 375.6,938.45 376.4,938.47 377.2,938.53 378,938.45 378.8,938.61 379.6,938.88 380.4,938.72 381.2,938.69 382,938.47 382.8,938.66 383.6,939.03 384.4,938.86 385.2,938.72 386,938.74 386.8,938.94 387.6,938.92 388.4,938.56 389.2,938.88 390,938.7 390.8,938.8 391.6,938.64 392.4,938.72 393.2,938.71 394,938.74 394.8,938.53 395.6,938.64 396.4,938.87 397.2,938.57 398,938.65 398.8,938.98 399.6,938.72 400.4,938.75 401.2,938.71 402,939.07 402.8,938.63 403.6,938.96 404.4,939.1 405.2,938.71 406,938.85 406.8,939.08 407.6,938.98 408.4,938.84 409.2,938.65 410,938.89 410.8,938.85 411.6,939.07 412.4,938.82 413.2,938.9 414,939.05 414.8,939.15 415.6,938.88 416.4,938.91 417.2,939.03 418,939.24 418.8,938.81 419.6,939.28 420.4,939.13 421.2,938.93 422,939.11 422.8,938.92 423.6,938.77 424.4,939.18 425.2,938.96 426,939.06 426.8,939.04 427.6,939.29 428.4,939.21 429.2,938.78 430,939.12 430.8,939.05 431.6,939.06 432.4,939.29 433.2,939.04 434,939.08 434.8,939.34 435.6,939.07 436.4,939.11 437.2,939.12 438,939.32 438.8,939.23 439.6,939.28 440.4,939.08 441.2,938.87 442,939.26 442.8,939.19 443.6,939.32 444.4,939.33 445.2,938.94 446,939.01 446.8,938.93 447.6,939.37 448.4,938.95 449.2,938.95 450,939.35 450.8,939.24 451.6,938.94 452.4,939.32 453.2,939.35 454,939.21 454.8,938.96 455.6,939.35 456.4,939.19 457.2,939.3 458,939.55 458.8,939.45 459.6,939.48 460.4,939.05 461.2,939.17 462,939.29 462.8,938.98 463.6,939.58 464.4,939.15 465.2,939.15 466,939.19 466.8,939.16 467.6,939.53 468.4,939.35 469.2,939.33 470,939.28 470.8,939.06 471.6,939.22 472.4,939.56 473.2,939.53 474,939.56 474.8,939.21 475.6,939.18 476.4,939.1 477.2,939.39 478,939.3 478.8,939.36 479.6,939.38 480.4,939.44 481.2,939.31 482,939.58 482.8,939.22 483.6,939.66 484.4,939.45 485.2,939.15 486,939.31 486.8,939.45 487.6,939.38 488.4,939.48 489.2,939.34 490,939.31 490.8,939.63 491.6,939.33 492.4,939.59 493.2,939.65 494,939.53 494.8,939.45 495.6,939.74 496.4,939.45 497.2,939.72 498,939.23 498.8,939.46 499.6,939.59 500.4,939.24 501.2,939.74 502,939.27 502.8,939.59 503.6,939.34 504.4,939.79 505.2,939.58 506,939.73 506.8,939.55 507.6,939.66 508.4,939.67 509.2,939.44 510,939.4 510.8,939.78 511.6,939.37 512.4,939.84 513.2,939.42 514,939.36 514.8,939.36 515.6,939.78 516.4,939.88 517.2,939.57 518,939.72 518.8,939.48 519.6,939.88 520.4,939.75 521.2,939.43 522,939.38 522.8,939.77 523.6,939.38 524.4,939.86 525.2,939.54 526,939.51 526.8,939.73 527.6,939.57 528.4,939.72 529.2,939.49 530,939.95 530.8,939.6 531.6,939.91 532.4,939.5 533.2,939.9 534,940.01 534.8,939.66 535.6,939.45 536.4,939.67 537.2,939.83 538,939.58 538.8,939.78 539.6,939.52 540.4,939.74 541.2,939.91 542,939.73 542.8,939.89 543.6,939.55 544.4,939.99 545.2,939.57 546,940.06 546.8,940.1 547.6,940.08 548.4,939.83 549.2,939.7 550,939.74 550.8,939.98 551.6,939.84 552.4,940.1 553.2,939.6 554,939.85 554.8,940.08 555.6,939.92 556.4,939.89 557.2,939.63 558,939.66 558.8,939.75 559.6,940.13 560.4,940.1 561.2,939.74 562,940.16 562.8,939.63 563.6,939.98 564.4,940.21 565.2,939.84 566,940.2 566.8,940.04 567.6,939.68 568.4,939.85 569.2,939.93 570,939.81 570.8,940.12 571.6,939.78 572.4,940.15 573.2,939.87 574,939.73 574.8,940.03 575.6,939.76 576.4,940.04 577.2,940.19 578,940.08 578.8,940.01 579.6,939.75 580.4,940.05 581.2,939.81 582,940.14 582.8,939.84 583.6,940.11 584.4,939.98 585.2,940 586,940.18 586.8,939.89 587.6,939.9 588.4,940.37 589.2,940.01 590,940.32 590.8,940.34 591.6,940.12 592.4,939.92 593.2,939.9 594,940.37 594.8,939.92 595.6,940.16 596.4,940.19 597.2,939.94 598,940.16 598.8,939.98 599.6,940.21 600.4,940.2 601.2,940.13 602,940.03 602.8,940.16 603.6,940.05 604.4,940.01 605.2,940.08 606,940.47 606.8,940.26 607.6,940.5 608.4,939.98 609.2,940.54 610,940.28 610.8,940.46 611.6,940.34 612.4,940.42 613.2,940.15 614,940.47 614.8,940.12 615.6,940.19 616.4,940.06 617.2,940.28 618,940.37 618.8,940.24 619.6,940.6 620.4,940.13 621.2,940.43 622,940.23 622.8,940.46 623.6,940.58 624.4,940.54 625.2,940.16 626,940.28 626.8,940.5 627.6,940.73 628.4,940.18 629.2,940.53 630,940.58 630.8,940.66 631.6,940.39 632.4,940.68 633.2,940.48 634,940.76 634.8,940.22 635.6,940.79 636.4,940.48 637.2,940.48 638,940.3 638.8,940.4 639.6,940.7 640.4,940.68 641.2,940.37 642,940.49 642.8,940.38 643.6,940.42 644.4,940.44 645.2,940.52 646,940.91 646.8,940.94 647.6,940.82 648.4,940.64 649.2,940.66 650,940.84 650.8,940.92 651.6,940.84 652.4,940.78 653.2,940.52 654,940.79 654.8,940.93 655.6,940.9 656.4,940.49 657.2,940.88 658,940.66 658.8,940.56 659.6,941.05 660.4,940.88 661.2,940.94 662,940.58 662.8,941 663.6,941.08 664.4,941.07 665.2,940.98 666,941.04 666.8,941.03 667.6,940.91 668.4,940.83 669.2,941.07 670,941.05 670.8,941.11 671.6,940.78 672.4,941.18 673.2,940.94 674,941.19 674.8,940.7 675.6,941.22 676.4,941.12 677.2,940.81 678,941.17 678.8,940.82 679.6,940.8 680.4,940.97 681.2,940.84 682,941.01 682.8,941.26 683.6,941.14 684.4,941.16 685.2,940.98 686,941.22 686.8,941.24 687.6,941.18 688.4,941.34 689.2,941.28 690,941.04 690.8,940.86 691.6,941.2 692.4,941.32 693.2,941.03 694,941.19 694.8,941.35 695.6,941.33 696.4,940.87 697.2,941.16 698,940.89 698.8,940.95 699.6,941.38 700.4,941.16 701.2,941.28 702,941.19 702.8,941.13 703.6,941.06 704.4,941.16 705.2,941.46 706,941.33 706.8,941.14 707.6,941.03 708.4,941.15 709.2,941.41 710,941.27 710.8,941.41 711.6,941.5 712.4,941.1 713.2,941.45 714,941.07 714.8,941.55 715.6,941.17 716.4,941.23 717.2,941.65 718,941.3 718.8,941.23 719.6,941.64 720.4,941.48 721.2,941.65 722,941.36 722.8,941.43 723.6,941.72 724.4,941.46 725.2,941.75 726,941.28 726.8,941.68 727.6,941.28 728.4,941.51 729.2,941.2 730,941.32 730.8,941.79 731.6,941.5 732.4,941.72 733.2,941.39 734,941.46 734.8,941.32 735.6,941.6 736.4,941.8 737.2,941.59 738,941.52 738.8,941.86 739.6,941.85 740.4,941.72 741.2,941.37 742,941.71 742.8,941.61 743.6,941.93 744.4,941.58 745.2,941.77 746,941.76 746.8,941.61 747.6,941.71 748.4,941.81 749.2,941.96 750,941.72 750.8,941.65 751.6,942.03 752.4,941.48 753.2,941.96 754,941.88 754.8,941.81 755.6,941.75 756.4,941.94 757.2,942.03 758,941.95 758.8,941.97 759.6,941.55 760.4,941.73 761.2,941.63 762,942.12 762.8,942.09 763.6,941.66 764.4,941.93 765.2,941.93 766,941.62 766.8,941.84 767.6,942.06 768.4,942 769.2,941.8 770,942.09 770.8,941.82 771.6,941.98 772.4,941.92 773.2,942.26 774,942.07 774.8,942.17 775.6,942.1" fill="none" stroke="#5ba6f4" stroke-width="3.2" stroke-linejoin="round" stroke-linecap="butt" />
<polyline points="64.4,870.65 65.2,870.04 66,869.22 66.8,867.68 67.6,867.52 68.4,867.47 69.2,867.63 70,867.73 70.8,867.72 71.6,867.54 72.4,867.45 73.2,867.6 74,867.75 74.8,867.46 75.6,867.69 76.4,867.46 77.2,867.52 78,867.41 78.8,867.51 79.6,867.54 80.4,867.78 81.2,867.77 82,867.46 82.8,867.51 83.6,867.76 84.4,867.46 85.2,867.51 86,867.56 86.8,867.43 87.6,867.49 88.4,867.54 89.2,867.53 90,867.76 90.8,867.48 91.6,867.46 92.4,867.74 93.2,867.56 94,867.71 94.8,867.63 95.6,867.68 96.4,867.5 97.2,867.43 98,867.67 98.8,867.56 99.6,867.59 100.4,867.64 101.2,867.67 102,867.48 102.8,867.51 103.6,867.73 104.4,867.57 105.2,867.48 106,867.61 106.8,867.46 107.6,867.67 108.4,867.38 109.2,867.69 110,867.58 110.8,867.5 111.6,867.73 112.4,867.46 113.2,867.45 114,867.38 114.8,867.57 115.6,867.65 116.4,867.62 117.2,867.52 118,867.67 118.8,867.39 119.6,867.47 120.4,867.61 121.2,867.74 122,867.6 122.8,867.62 123.6,867.66 124.4,867.51 125.2,867.72 126,867.64 126.8,867.48 127.6,867.5 128.4,867.67 129.2,867.48 130,867.42 130.8,867.69 131.6,867.56 132.4,867.55 133.2,867.61 134,867.7 134.8,867.4 135.6,867.48 136.4,867.37 137.2,867.51 138,867.54 138.8,867.68 139.6,867.61 140.4,867.57 141.2,867.5 142,867.57 142.8,867.45 143.6,867.68 144.4,867.65 145.2,867.67 146,867.4 146.8,867.61 147.6,867.64 148.4,867.54 149.2,867.7 150,867.7 150.8,867.63 151.6,867.66 152.4,867.59 153.2,867.69 154,867.39 154.8,867.62 155.6,867.61 156.4,867.58 157.2,867.44 158,867.36 158.8,867.57 159.6,867.66 160.4,867.44 161.2,867.42 162,867.42 162.8,867.37 163.6,867.6 164.4,867.72 165.2,867.65 166,867.47 166.8,867.61 167.6,867.36 168.4,867.66 169.2,867.46 170,867.33 170.8,867.58 171.6,867.38 172.4,867.44 173.2,867.35 174,867.5 174.8,867.55 175.6,867.65 176.4,867.34 177.2,867.65 178,867.37 178.8,867.41 179.6,867.57 180.4,867.46 181.2,867.46 182,867.55 182.8,867.41 183.6,867.64 184.4,867.41 185.2,867.66 186,867.65 186.8,867.54 187.6,867.33 188.4,867.63 189.2,867.33 190,867.52 190.8,867.49 191.6,867.35 192.4,867.57 193.2,867.61 194,867.55 194.8,867.48 195.6,867.53 196.4,867.56 197.2,867.41 198,867.67 198.8,867.72 199.6,867.64 200.4,867.7 201.2,867.45 202,867.71 202.8,867.35 203.6,867.51 204.4,867.37 205.2,867.5 206,867.59 206.8,867.6 207.6,867.5 208.4,867.46 209.2,867.39 210,867.48 210.8,867.43 211.6,867.4 212.4,867.61 213.2,867.52 214,867.49 214.8,867.4 215.6,867.6 216.4,867.4 217.2,867.42 218,867.54 218.8,867.6 219.6,867.71 220.4,867.62 221.2,867.7 222,867.68 222.8,867.61 223.6,867.6 224.4,867.34 225.2,867.4 226,867.32 226.8,867.66 227.6,867.6 228.4,867.57 229.2,867.42 230,867.46 230.8,867.38 231.6,867.57 232.4,867.71 233.2,867.44 234,867.33 234.8,867.38 235.6,867.46 236.4,867.67 237.2,867.64 238,867.5 238.8,867.35 239.6,867.36 240.4,867.38 241.2,867.62 242,867.5 242.8,867.71 243.6,867.68 244.4,867.63 245.2,867.5 246,867.64 246.8,867.36 247.6,867.36 248.4,867.54 249.2,867.52 250,867.4 250.8,867.41 251.6,867.32 252.4,867.68 253.2,867.6 254,867.69 254.8,867.7 255.6,867.49 256.4,867.6 257.2,867.47 258,867.64 258.8,867.65 259.6,867.37 260.4,867.32 261.2,867.4 262,867.55 262.8,867.46 263.6,867.32 264.4,867.64 265.2,867.63 266,867.5 266.8,867.33 267.6,867.67 268.4,867.53 269.2,867.34 270,867.44 270.8,867.56 271.6,867.67 272.4,867.51 273.2,867.57 274,867.39 274.8,867.41 275.6,867.67 276.4,867.47 277.2,867.35 278,867.55 278.8,867.36 279.6,867.39 280.4,867.49 281.2,867.55 282,867.57 282.8,867.6 283.6,867.49 284.4,867.34 285.2,867.6 286,867.33 286.8,867.5 287.6,867.47 288.4,867.58 289.2,867.6 290,867.41 290.8,867.57 291.6,867.59 292.4,867.5 293.2,867.37 294,867.68 294.8,867.55 295.6,867.34 296.4,867.41 297.2,867.71 298,867.4 298.8,867.47 299.6,867.63 300.4,867.64 301.2,867.57 302,867.61 302.8,867.33 303.6,867.35 304.4,867.7 305.2,867.63 306,867.33 306.8,867.33 307.6,867.41 308.4,867.69 309.2,867.4 310,867.58 310.8,867.69 311.6,867.57 312.4,867.68 313.2,867.42 314,867.37 314.8,867.32 315.6,867.62 316.4,867.35 317.2,867.7 318,867.6 318.8,867.39 319.6,867.64 320.4,867.38 321.2,867.52 322,867.36 322.8,867.63 323.6,867.67 324.4,867.68 325.2,867.31 326,867.65 326.8,867.54 327.6,867.64 328.4,867.51 329.2,867.56 330,867.55 330.8,867.63 331.6,867.34 332.4,867.34 333.2,867.53 334,867.43 334.8,867.47 335.6,867.32 336.4,867.61 337.2,867.32 338,867.65 338.8,867.64 339.6,867.5 340.4,867.36 341.2,867.57 342,867.4 342.8,867.49 343.6,867.36 344.4,867.71 345.2,867.53 346,867.46 346.8,867.35 347.6,867.61 348.4,867.66 349.2,867.65 350,867.36 350.8,867.46 351.6,867.44 352.4,867.62 353.2,867.38 354,867.56 354.8,867.71 355.6,867.62 356.4,867.32 357.2,867.35 358,867.36 358.8,867.59 359.6,867.56 360.4,867.52 361.2,867.5 362,867.48 362.8,867.56 363.6,867.58 364.4,867.68 365.2,867.61 366,867.64 366.8,867.68 367.6,867.65 368.4,867.6 369.2,867.33 370,867.59 370.8,867.66 371.6,867.49 372.4,867.67 373.2,867.39 374,867.7 374.8,867.5 375.6,867.6 376.4,867.42 377.2,867.44 378,867.46 378.8,867.45 379.6,867.36 380.4,867.5 381.2,867.71 382,867.58 382.8,867.69 383.6,867.62 384.4,867.65 385.2,867.72 386,867.62 386.8,867.43 387.6,867.42 388.4,867.49 389.2,867.33 390,867.41 390.8,867.68 391.6,867.69 392.4,867.45 393.2,867.63 394,867.63 394.8,867.68 395.6,867.64 396.4,867.53 397.2,867.36 398,867.65 398.8,867.45 399.6,867.57 400.4,867.47 401.2,867.54 402,867.71 402.8,867.39 403.6,867.53 404.4,867.58 405.2,867.54 406,867.7 406.8,867.49 407.6,867.69 408.4,867.6 409.2,867.71 410,867.36 410.8,867.41 411.6,867.44 412.4,867.69 413.2,867.33 414,867.43 414.8,867.61 415.6,867.72 416.4,867.39 417.2,867.5 418,867.6 418.8,867.6 419.6,867.62 420.4,867.63 421.2,867.42 422,867.43 422.8,867.34 423.6,867.6 424.4,867.41 425.2,867.43 426,867.71 426.8,867.58 427.6,867.56 428.4,867.59 429.2,867.57 430,867.6 430.8,867.45 431.6,867.35 432.4,867.35 433.2,867.33 434,867.47 434.8,867.38 435.6,867.37 436.4,867.53 437.2,867.72 438,867.6 438.8,867.44 439.6,867.64 440.4,867.4 441.2,867.37 442,867.45 442.8,867.49 443.6,867.6 444.4,867.51 445.2,867.62 446,867.37 446.8,867.7 447.6,867.47 448.4,867.66 449.2,867.34 450,867.66 450.8,867.42 451.6,867.67 452.4,867.65 453.2,867.6 454,867.44 454.8,867.34 455.6,867.41 456.4,867.69 457.2,867.39 458,867.6 458.8,867.57 459.6,867.6 460.4,867.4 461.2,867.39 462,867.37 462.8,867.73 463.6,867.49 464.4,867.59 465.2,867.56 466,867.42 466.8,867.36 467.6,867.34 468.4,867.68 469.2,867.39 470,867.72 470.8,867.48 471.6,867.62 472.4,867.39 473.2,867.65 474,867.44 474.8,867.48 475.6,867.54 476.4,867.38 477.2,867.44 478,867.65 478.8,867.45 479.6,867.49 480.4,867.64 481.2,867.43 482,867.41 482.8,867.42 483.6,867.49 484.4,867.48 485.2,867.59 486,867.53 486.8,867.69 487.6,867.36 488.4,867.6 489.2,867.67 490,867.43 490.8,867.35 491.6,867.51 492.4,867.39 493.2,867.52 494,867.62 494.8,867.38 495.6,867.39 496.4,867.53 497.2,867.41 498,867.43 498.8,867.52 499.6,867.39 500.4,867.37 501.2,867.48 502,867.53 502.8,867.72 503.6,867.56 504.4,867.37 505.2,867.43 506,867.64 506.8,867.57 507.6,867.69 508.4,867.73 509.2,867.69 510,867.39 510.8,867.72 511.6,867.55 512.4,867.44 513.2,867.41 514,867.69 514.8,867.43 515.6,867.38 516.4,867.45 517.2,867.71 518,867.53 518.8,867.64 519.6,867.37 520.4,867.53 521.2,867.47 522,867.43 522.8,867.61 523.6,867.49 524.4,867.39 525.2,867.74 526,867.54 526.8,867.42 527.6,867.35 528.4,867.61 529.2,867.55 530,867.36 530.8,867.54 531.6,867.64 532.4,867.56 533.2,867.44 534,867.55 534.8,867.59 535.6,867.61 536.4,867.41 537.2,867.67 538,867.73 538.8,867.65 539.6,867.69 540.4,867.5 541.2,867.71 542,867.42 542.8,867.44 543.6,867.59 544.4,867.71 545.2,867.38 546,867.44 546.8,867.37 547.6,867.53 548.4,867.41 549.2,867.43 550,867.65 550.8,867.59 551.6,867.73 552.4,867.51 553.2,867.62 554,867.36 554.8,867.73 555.6,867.45 556.4,867.54 557.2,867.56 558,867.73 558.8,867.55 559.6,867.75 560.4,867.6 561.2,867.44 562,867.69 562.8,867.44 563.6,867.75 564.4,867.54 565.2,867.45 566,867.74 566.8,867.48 567.6,867.52 568.4,867.49 569.2,867.62 570,867.37 570.8,867.51 571.6,867.42 572.4,867.69 573.2,867.36 574,867.6 574.8,867.46 575.6,867.54 576.4,867.58 577.2,867.64 578,867.41 578.8,867.45 579.6,867.41 580.4,867.74 581.2,867.42 582,867.41 582.8,867.57 583.6,867.59 584.4,867.71 585.2,867.38 586,867.45 586.8,867.43 587.6,867.59 588.4,867.54 589.2,867.52 590,867.72 590.8,867.63 591.6,867.71 592.4,867.74 593.2,867.47 594,867.74 594.8,867.53 595.6,867.38 596.4,867.73 597.2,867.4 598,867.37 598.8,867.48 599.6,867.48 600.4,867.75 601.2,867.71 602,867.53 602.8,867.58 603.6,867.7 604.4,867.69 605.2,867.63 606,867.57 606.8,867.41 607.6,867.46 608.4,867.63 609.2,867.6 610,867.69 610.8,867.73 611.6,867.75 612.4,867.44 613.2,867.4 614,867.73 614.8,867.6 615.6,867.44 616.4,867.64 617.2,867.47 618,867.46 618.8,867.51 619.6,867.58 620.4,867.64 621.2,867.4 622,867.67 622.8,867.62 623.6,867.56 624.4,867.64 625.2,867.69 626,867.37 626.8,867.56 627.6,867.64 628.4,867.65 629.2,867.63 630,867.44 630.8,867.75 631.6,867.69 632.4,867.46 633.2,867.54 634,867.76 634.8,867.46 635.6,867.54 636.4,867.76 637.2,867.73 638,867.47 638.8,867.67 639.6,867.52 640.4,867.64 641.2,867.68 642,867.43 642.8,867.46 643.6,867.46 644.4,867.48 645.2,867.39 646,867.43 646.8,867.54 647.6,867.54 648.4,867.41 649.2,867.61 650,867.75 650.8,867.61 651.6,867.52 652.4,867.66 653.2,867.55 654,867.45 654.8,867.57 655.6,867.38 656.4,867.65 657.2,867.44 658,867.53 658.8,867.76 659.6,867.69 660.4,867.71 661.2,867.64 662,867.63 662.8,867.66 663.6,867.77 664.4,867.46 665.2,867.69 666,867.5 666.8,867.48 667.6,867.71 668.4,867.62 669.2,867.72 670,867.73 670.8,867.62 671.6,867.46 672.4,867.39 673.2,867.6 674,867.67 674.8,867.49 675.6,867.41 676.4,867.38 677.2,867.45 678,867.66 678.8,867.38 679.6,867.48 680.4,867.49 681.2,867.67 682,867.78 682.8,867.39 683.6,867.43 684.4,867.76 685.2,867.77 686,867.44 686.8,867.52 687.6,867.59 688.4,867.51 689.2,867.55 690,867.58 690.8,867.49 691.6,867.41 692.4,867.42 693.2,867.45 694,867.42 694.8,867.64 695.6,867.67 696.4,867.49 697.2,867.7 698,867.68 698.8,867.52 699.6,867.58 700.4,867.46 701.2,867.76 702,867.61 702.8,867.41 703.6,867.45 704.4,867.67 705.2,867.54 706,867.68 706.8,867.48 707.6,867.71 708.4,867.71 709.2,867.43 710,867.62 710.8,867.47 711.6,867.67 712.4,867.71 713.2,867.71 714,867.48 714.8,867.43 715.6,867.66 716.4,867.62 717.2,867.45 718,867.47 718.8,867.62 719.6,867.44 720.4,867.65 721.2,867.49 722,867.5 722.8,867.56 723.6,867.61 724.4,867.68 725.2,867.41 726,867.68 726.8,867.48 727.6,867.51 728.4,867.65 729.2,867.67 730,867.64 730.8,867.76 731.6,867.48 732.4,867.52 733.2,867.66 734,867.5 734.8,867.46 735.6,867.49 736.4,867.7 737.2,867.73 738,867.68 738.8,867.78 739.6,867.71 740.4,867.52 741.2,867.52 742,867.68 742.8,867.42 743.6,867.64 744.4,867.43 745.2,867.42 746,867.6 746.8,867.46 747.6,867.77 748.4,867.75 749.2,867.58 750,867.48 750.8,867.44 751.6,867.6 752.4,867.61 753.2,867.54 754,867.68 754.8,867.61 755.6,867.71 756.4,867.44 757.2,867.43 758,867.55 758.8,867.59 759.6,867.5 760.4,867.67 761.2,867.49 762,867.53 762.8,867.59 763.6,867.68 764.4,867.71 765.2,867.55 766,867.58 766.8,867.77 767.6,867.77 768.4,867.65 769.2,867.44 770,867.58 770.8,867.65 771.6,867.51 772.4,867.41 773.2,867.79 774,867.76 774.8,867.45 775.6,867.59" fill="none" stroke="#1a8ef2" stroke-width="2.2" stroke-linejoin="round" stroke-linecap="butt" />
<polyline points="64.4,875.67 65.1,874.91 65.8,874.24 66.5,874.89 67.2,874.66 67.9,873.97 68.6,873.3 69.3,873.58 70,873.03 70.7,874.15 71.4,872.78 72.1,873.02 72.8,873.61 73.5,872.65 74.2,872.54 74.9,872.42 75.6,872.49 76.3,872.94 77,873.3 77.7,872.31 78.4,872.26 79.1,873.03 79.8,872.5 80.5,872.32 81.2,871.97 81.9,872.08 82.6,873.05 83.3,871.8 84,871.94 84.7,872.56 85.4,872.72 86.1,872.68 86.8,872.01 87.5,872.63 88.2,872.08 88.9,871.58 89.6,871.77 90.3,872.07 91,872.04 91.7,871.14 92.4,871.18 93.1,872.2 93.8,870.97 94.5,871.91 95.2,871.21 95.9,871.04 96.6,871.02 97.3,871.28 98,871.98 98.7,870.77 99.4,871.72 100.1,870.95 100.8,870.71 101.5,871.48 102.2,870.89 102.9,870.65 103.6,870.95 104.3,871.49 105,871.52 105.7,871.09 106.4,870.28 107.1,871.31 107.8,871.07 108.5,871.46 109.2,871.51 109.9,870.62 110.6,871.33 111.3,871.26 112,870.47 112.7,870.59 113.4,870.58 114.1,870.53 114.8,870.55 115.5,870.15 116.2,870.3 116.9,871.23 117.6,870.52 118.3,870.81 119,871.15 119.7,870.94 120.4,870.21 121.1,871.13 121.8,870.95 122.5,871.19 123.2,870.81 123.9,870.83 124.6,870.89 125.3,870.09 126,870.63 126.7,870.23 127.4,870.85 128.1,869.84 128.8,870.39 129.5,870.09 130.2,870.74 130.9,870.06 131.6,870.73 132.3,870.72 133,870.74 133.7,869.68 134.4,870.78 135.1,870.48 135.8,870.36 136.5,870.31 137.2,869.44 137.9,870.56 138.6,870.09 139.3,869.93 140,869.74 140.7,870.34 141.4,870.31 142.1,870.41 142.8,869.47 143.5,869.62 144.2,869.47 144.9,869.24 145.6,869.53 146.3,869.09 147,870.14 147.7,869.32 148.4,869.08 149.1,869.06 149.8,869.98 150.5,869.2 151.2,869.54 151.9,869.44 152.6,869.98 153.3,870.18 154,869.25 154.7,869.69 155.4,870.04 156.1,869.43 156.8,870.01 157.5,869.76 158.2,869.15 158.9,869.92 159.6,869.49 160.3,868.82 161,869.48 161.7,869.8 162.4,869.36 163.1,869.29 163.8,869.18 164.5,869.82 165.2,869.51 165.9,868.86 166.6,869.06 167.3,869.05 168,869.87 168.7,869.5 169.4,868.68 170.1,869.78 170.8,868.53 171.5,869.3 172.2,869.06 172.9,869.45 173.6,869.03 174.3,868.55 175,869.13 175.7,869.51 176.4,869.44 177.1,868.76 177.8,868.51 178.5,869.22 179.2,869.28 179.9,868.45 180.6,869.37 181.3,869.51 182,868.72 182.7,868.64 183.4,869.09 184.1,869.39 184.8,868.36 185.5,868.5 186.2,868.53 186.9,869.09 187.6,868.32 188.3,868.82 189,868.75 189.7,868.99 190.4,868.25 191.1,869.38 191.8,869.44 192.5,868.82 193.2,869.14 193.9,868.28 194.6,869.3 195.3,868.79 196,869.08 196.7,869.23 197.4,868.52 198.1,869.31 198.8,868.3 199.5,868.04 200.2,868.71 200.9,869.26 201.6,869.26 202.3,869.33 203,868.71 203.7,869.3 204.4,868.77 205.1,868.19 205.8,868.87 206.5,869.11 207.2,868.57 207.9,868.82 208.6,868.34 209.3,868.36 210,868.56 210.7,868.69 211.4,868.63 212.1,868.1 212.8,867.98 213.5,868.44 214.2,868.97 214.9,869.01 215.6,868.29 216.3,868.32 217,868.68 217.7,868.2 218.4,868.8 219.1,869.22 219.8,868.23 220.5,868.77 221.2,868.96 221.9,868.99 222.6,868.94 223.3,868.94 224,868.32 224.7,869.11 225.4,869.23 226.1,868.01 226.8,869.26 227.5,868.56 228.2,868.06 228.9,868.03 229.6,869.05 230.3,868.88 231,868.13 231.7,868.57 232.4,868.82 233.1,869.32 233.8,868.4 234.5,869 235.2,868.27 235.9,868.2 236.6,868.15 237.3,868.49 238,868.78 238.7,868.34 239.4,868.14 240.1,868.22 240.8,868.03 241.5,868.18 242.2,868.35 242.9,868.62 243.6,868.17 244.3,868.58 245,868.52 245.7,869.27 246.4,868.59 247.1,869.23 247.8,868.56 248.5,868.18 249.2,868.73 249.9,868.1 250.6,868.14 251.3,868 252,868.88 252.7,869.25 253.4,868.46 254.1,868.39 254.8,868.49 255.5,868.39 256.2,868.86 256.9,868.44 257.6,868.11 258.3,869.1 259,868.69 259.7,867.9 260.4,869.08 261.1,868.91 261.8,868.38 262.5,868.77 263.2,869.18 263.9,868.45 264.6,868.49 265.3,868.3 266,868.66 266.7,868.81 267.4,868.91 268.1,869.21 268.8,868.08 269.5,868.39 270.2,869.07 270.9,868.99 271.6,868.7 272.3,868.83 273,868.35 273.7,869.2 274.4,868.64 275.1,868.44 275.8,868.13 276.5,868.03 277.2,869.13 277.9,868.99 278.6,867.91 279.3,868.32 280,868.54 280.7,868.56 281.4,868.38 282.1,869.12 282.8,868.36 283.5,868.61 284.2,869.17 284.9,868.76 285.6,868.53 286.3,868.33 287,868.4 287.7,868.72 288.4,868.96 289.1,868.23 289.8,868.38 290.5,868.4 291.2,868.37 291.9,869.14 292.6,868.61 293.3,868.24 294,868.32 294.7,869.01 295.4,868.08 296.1,868.82 296.8,867.89 297.5,868.13 298.2,867.94 298.9,868.98 299.6,868.06 300.3,868.17 301,867.93 301.7,868.22 302.4,868.88 303.1,868.86 303.8,869.13 304.5,869.18 305.2,868.62 305.9,869.14 306.6,867.98 307.3,869.14 308,868.46 308.7,868.12 309.4,868.9 310.1,869.05 310.8,868.39 311.5,867.98 312.2,869.07 312.9,868.9 313.6,868.68 314.3,869.21 315,867.9 315.7,867.92 316.4,868.02 317.1,867.87 317.8,868.83 318.5,868.72 319.2,868 319.9,868.07 320.6,868.09 321.3,868.69 322,868.78 322.7,869.2 323.4,868.34 324.1,869.21 324.8,868.45 325.5,868.38 326.2,868.19 326.9,868.16 327.6,869.2 328.3,869.23 329,868.82 329.7,868.08 330.4,868.09 331.1,868.05 331.8,868.32 332.5,868.86 333.2,867.91 333.9,868.57 334.6,868.78 335.3,867.88 336,868.45 336.7,868.94 337.4,868.64 338.1,868.46 338.8,869.06 339.5,868.67 340.2,868.3 340.9,868.38 341.6,869.15 342.3,869.03 343,869.11 343.7,868.61 344.4,868.03 345.1,868.07 345.8,868.36 346.5,868.79 347.2,867.83 347.9,868.95 348.6,868.93 349.3,868.55 350,867.83 350.7,868.94 351.4,868.4 352.1,868.76 352.8,868.62 353.5,868.84 354.2,868.39 354.9,869.17 355.6,869.16 356.3,869.12 357,868.68 357.7,868.26 358.4,868.35 359.1,868.2 359.8,869.08 360.5,868.93 361.2,868.92 361.9,868.97 362.6,869.21 363.3,868.78 364,868.26 364.7,868.88 365.4,868.18 366.1,868.67 366.8,868.04 367.5,869.02 368.2,868.5 368.9,868.2 369.6,869.11 370.3,867.93 371,869.12 371.7,868.87 372.4,868.02 373.1,868.88 373.8,868.62 374.5,869.08 375.2,868.63 375.9,868.41 376.6,869.12 377.3,867.93 378,868.9 378.7,867.95 379.4,868.2 380.1,867.97 380.8,869.03 381.5,868.43 382.2,868.83 382.9,868.17 383.6,868.83 384.3,868.72 385,867.94 385.7,868.5 386.4,868.82 387.1,868.11 387.8,868.72 388.5,868.19 389.2,868.32 389.9,869.09 390.6,869.13 391.3,869.2 392,868.4 392.7,868.6 393.4,868.94 394.1,868.87 394.8,868.44 395.5,869.01 396.2,868.36 396.9,869.13 397.6,868.46 398.3,867.97 399,868.85 399.7,868 400.4,868.75 401.1,867.88 401.8,869.18 402.5,868.56 403.2,868.84 403.9,867.98 404.6,868.69 405.3,868.33 406,868.15 406.7,868.94 407.4,867.85 408.1,868.47 408.8,867.92 409.5,868.99 410.2,869.05 410.9,867.85 411.6,868.45 412.3,868.45 413,868.8 413.7,868.82 414.4,868.28 415.1,869.1 415.8,868.05 416.5,867.99 417.2,868.94 417.9,867.96 418.6,868.05 419.3,868.49 420,868.26 420.7,868.02 421.4,869.1 422.1,868.46 422.8,868.89 423.5,868.14 424.2,869.07 424.9,868.1 425.6,869.06 426.3,868.65 427,869.15 427.7,868.87 428.4,868.67 429.1,868.54 429.8,868.99 430.5,868.41 431.2,867.93 431.9,869.07 432.6,868.92 433.3,868.74 434,868.83 434.7,868.11 435.4,868.44 436.1,868.94 436.8,869.13 437.5,869.08 438.2,868.01 438.9,868.74 439.6,868.56 440.3,868.35 441,868.02 441.7,867.98 442.4,868.44 443.1,868.48 443.8,868.16 444.5,868.3 445.2,868.56 445.9,868.85 446.6,868.61 447.3,868.01 448,869.02 448.7,868.3 449.4,869.13 450.1,869.16 450.8,867.98 451.5,868.6 452.2,869.14 452.9,868.32 453.6,868.55 454.3,868.22 455,867.82 455.7,868.07 456.4,867.95 457.1,868.18 457.8,868.66 458.5,868.57 459.2,869.11 459.9,868.74 460.6,868.29 461.3,869.11 462,868.67 462.7,868.54 463.4,868.99 464.1,868.72 464.8,868.28 465.5,868.62 466.2,868.2 466.9,869.13 467.6,868.12 468.3,869.14 469,867.87 469.7,867.79 470.4,868.55 471.1,868.06 471.8,868.49 472.5,867.94 473.2,868.95 473.9,868.71 474.6,868.73 475.3,869.07 476,869.16 476.7,868.72 477.4,868.77 478.1,867.78 478.8,867.84 479.5,868.37 480.2,869.13 480.9,868.21 481.6,868.57 482.3,867.79 483,868.35 483.7,869.04 484.4,868.6 485.1,868.93 485.8,867.79 486.5,868.06 487.2,868.02 487.9,868.94 488.6,867.91 489.3,869.08 490,868.15 490.7,869 491.4,868.49 492.1,868.22 492.8,869.12 493.5,868.34 494.2,868.75 494.9,867.86 495.6,868.93 496.3,869.14 497,867.92 497.7,868.81 498.4,868.15 499.1,867.98 499.8,868.28 500.5,868.69 501.2,869.1 501.9,869.16 502.6,869.16 503.3,868.64 504,868.68 504.7,867.99 505.4,868.78 506.1,868.54 506.8,868.27 507.5,869.03 508.2,868.12 508.9,867.96 509.6,867.99 510.3,867.97 511,868.59 511.7,868.89 512.4,867.99 513.1,868.47 513.8,868.57 514.5,868.55 515.2,868.34 515.9,868.52 516.6,867.78 517.3,867.84 518,868.35 518.7,868.09 519.4,868.82 520.1,868.1 520.8,868.92 521.5,868.1 522.2,867.89 522.9,868.43 523.6,868.3 524.3,868.23 525,868.83 525.7,868.07 526.4,868.7 527.1,868.93 527.8,868.39 528.5,868.46 529.2,869.05 529.9,868.61 530.6,868.01 531.3,867.86 532,867.87 532.7,868.22 533.4,867.88 534.1,868.67 534.8,868.35 535.5,868.19 536.2,868.47 536.9,869.07 537.6,868.1 538.3,867.97 539,868.18 539.7,868.21 540.4,869.03 541.1,868.75 541.8,868.36 542.5,867.99 543.2,867.82 543.9,867.93 544.6,868.94 545.3,868.66 546,867.97 546.7,868.63 547.4,867.84 548.1,868.46 548.8,868.22 549.5,867.9 550.2,868.79 550.9,868.76 551.6,868.47 552.3,867.99 553,868.69 553.7,868.36 554.4,868.68 555.1,867.88 555.8,869.02 556.5,867.76 557.2,868.06 557.9,868.31 558.6,868.03 559.3,867.88 560,868.71 560.7,869.14 561.4,868.22 562.1,868.12 562.8,868.69 563.5,868.06 564.2,868.31 564.9,868.71 565.6,868.35 566.3,867.97 567,867.85 567.7,868.51 568.4,869.14 569.1,869.04 569.8,867.89 570.5,868.45 571.2,868.43 571.9,868.02 572.6,868.69 573.3,868.44 574,868.88 574.7,868.16 575.4,869.06 576.1,868.89 576.8,868.41 577.5,867.95 578.2,868.42 578.9,867.93 579.6,868.71 580.3,868.72 581,868.56 581.7,869.11 582.4,867.81 583.1,868.75 583.8,868.87 584.5,867.9 585.2,868.2 585.9,867.82 586.6,868.56 587.3,868.76 588,868.23 588.7,868.72 589.4,868.26 590.1,868.74 590.8,868.13 591.5,869.11 592.2,868.36 592.9,867.75 593.6,867.87 594.3,868.76 595,868.95 595.7,868.63 596.4,867.96 597.1,868.96 597.8,868.75 598.5,867.9 599.2,868.28 599.9,868.68 600.6,867.75 601.3,867.8 602,868.24 602.7,868.97 603.4,869.14 604.1,868.19 604.8,869.01 605.5,868.84 606.2,868.95 606.9,868.56 607.6,869.1 608.3,868.64 609,869.07 609.7,868.53 610.4,868.02 611.1,868.47 611.8,868.42 612.5,868.21 613.2,868.26 613.9,868.45 614.6,868.56 615.3,868.05 616,868.13 616.7,868.44 617.4,868.44 618.1,868.32 618.8,868.67 619.5,868 620.2,868.48 620.9,868.12 621.6,868.82 622.3,868.72 623,868.83 623.7,868.46 624.4,868.09 625.1,869.03 625.8,868.45 626.5,868.26 627.2,868.14 627.9,868.3 628.6,868.73 629.3,868.88 630,868.41 630.7,868.76 631.4,868.03 632.1,868.37 632.8,868.24 633.5,868.16 634.2,868.24 634.9,868.79 635.6,868.76 636.3,868.02 637,868.06 637.7,868.83 638.4,868.65 639.1,868.68 639.8,868.62 640.5,868.7 641.2,868.11 641.9,867.82 642.6,868.24 643.3,867.78 644,869.08 644.7,868.47 645.4,868.67 646.1,869.09 646.8,868.86 647.5,868.05 648.2,868.2 648.9,867.88 649.6,868.85 650.3,868.76 651,868.41 651.7,868.25 652.4,868.11 653.1,868.41 653.8,868.73 654.5,868.98 655.2,868.92 655.9,868.94 656.6,868.34 657.3,868.32 658,868.17 658.7,869.09 659.4,867.99 660.1,867.95 660.8,868.12 661.5,869.02 662.2,868.92 662.9,868.19 663.6,868.92 664.3,868.98 665,868.33 665.7,868 666.4,868.81 667.1,868.25 667.8,867.89 668.5,868.99 669.2,868.34 669.9,868.28 670.6,868.56 671.3,868.08 672,867.75 672.7,868.27 673.4,868.26 674.1,867.74 674.8,868.25 675.5,868.79 676.2,868.19 676.9,868.68 677.6,868.6 678.3,867.99 679,867.75 679.7,868.67 680.4,868.58 681.1,868.14 681.8,868 682.5,868.92 683.2,869 683.9,868.05 684.6,868.54 685.3,868.53 686,868.17 686.7,867.77 687.4,868.18 688.1,868.62 688.8,868.57 689.5,868.44 690.2,867.89 690.9,868.02 691.6,868.16 692.3,868.3 693,868.23 693.7,868.98 694.4,867.88 695.1,869.1 695.8,868.06 696.5,868.92 697.2,868.06 697.9,868.54 698.6,868.25 699.3,867.77 700,868.84 700.7,868.85 701.4,868.1 702.1,868.81 702.8,868.39 703.5,869.1 704.2,867.8 704.9,868.25 705.6,868.04 706.3,868.59 707,868.81 707.7,868.9 708.4,868.49 709.1,868.26 709.8,868.84 710.5,867.86 711.2,868.08 711.9,868.77 712.6,868.33 713.3,869.11 714,867.84 714.7,868.36 715.4,868.01 716.1,867.72 716.8,867.85 717.5,867.84 718.2,868.23 718.9,868.32 719.6,868.43 720.3,868.12 721,868.7 721.7,868.44 722.4,869.09 723.1,867.95 723.8,868.43 724.5,868.41 725.2,868.23 725.9,868.92 726.6,868.01 727.3,868.94 728,868.21 728.7,868.18 729.4,868.57 730.1,868.5 730.8,868.11 731.5,867.83 732.2,869.05 732.9,868.23 733.6,867.87 734.3,868.63 735,868.46 735.7,868.17 736.4,868.17 737.1,868.89 737.8,868.19 738.5,868.3 739.2,869.05 739.9,868.22 740.6,868.27 741.3,867.94 742,868.64 742.7,868.64 743.4,868.33 744.1,868.28 744.8,868.04 745.5,868.82 746.2,868.35 746.9,868.87 747.6,868.23 748.3,868.74 749,867.75 749.7,868.02 750.4,869.05 751.1,868.66 751.8,868.65 752.5,868.4 753.2,868.37 753.9,867.98 754.6,867.95 755.3,868.61 756,868.68 756.7,868.07 757.4,868.61 758.1,867.9 758.8,868.56 759.5,867.95 760.2,868.42 760.9,868.14 761.6,868.48 762.3,867.89 763,868.38 763.7,868.57 764.4,867.89 765.1,868.14 765.8,868.65 766.5,868.47 767.2,868.57 767.9,868.79 768.6,868.5 769.3,868.01 770,868.32 770.7,868.86 771.4,868.49 772.1,868.76 772.8,868.21 773.5,868.33 774.2,869.06 774.9,868.85 775.6,868.61" fill="none" stroke="#c8121e" stroke-width="4.6" stroke-linejoin="round" stroke-linecap="butt" />
</g>
<rect x="64.4" y="863.9" width="711.5" height="216.1" fill="none" stroke="#000" stroke-width="1.6"/>
<line x1="59.4" y1="1080" x2="64.4" y2="1080" stroke="#000" stroke-width="1.6" />
<text x="55.4" y="1085.7" font-size="16" text-anchor="end" fill="#000" >0</text>
<line x1="59.4" y1="1018.17" x2="64.4" y2="1018.17" stroke="#000" stroke-width="1.6" />
<text x="55.4" y="1023.87" font-size="16" text-anchor="end" fill="#000" >2</text>
<line x1="59.4" y1="956.33" x2="64.4" y2="956.33" stroke="#000" stroke-width="1.6" />
<text x="55.4" y="962.03" font-size="16" text-anchor="end" fill="#000" >4</text>
<line x1="59.4" y1="894.5" x2="64.4" y2="894.5" stroke="#000" stroke-width="1.6" />
<text x="55.4" y="900.2" font-size="16" text-anchor="end" fill="#000" >6</text>
<line x1="61.6" y1="1049.08" x2="64.4" y2="1049.08" stroke="#000" stroke-width="1.6" />
<line x1="61.6" y1="987.25" x2="64.4" y2="987.25" stroke="#000" stroke-width="1.6" />
<line x1="61.6" y1="925.42" x2="64.4" y2="925.42" stroke="#000" stroke-width="1.6" />
<line x1="61.6" y1="863.58" x2="64.4" y2="863.58" stroke="#000" stroke-width="1.6" />
<line x1="64.2" y1="1080" x2="64.2" y2="1085" stroke="#000" stroke-width="1.6" />
<text x="64.2" y="1101.5" font-size="16" text-anchor="middle" fill="#000" >0</text>
<line x1="128.9" y1="1080" x2="128.9" y2="1085" stroke="#000" stroke-width="1.6" />
<text x="128.9" y="1101.5" font-size="16" text-anchor="middle" fill="#000" >100</text>
<line x1="193.6" y1="1080" x2="193.6" y2="1085" stroke="#000" stroke-width="1.6" />
<text x="193.6" y="1101.5" font-size="16" text-anchor="middle" fill="#000" >200</text>
<line x1="258.3" y1="1080" x2="258.3" y2="1085" stroke="#000" stroke-width="1.6" />
<text x="258.3" y="1101.5" font-size="16" text-anchor="middle" fill="#000" >300</text>
<line x1="323" y1="1080" x2="323" y2="1085" stroke="#000" stroke-width="1.6" />
<text x="323" y="1101.5" font-size="16" text-anchor="middle" fill="#000" >400</text>
<line x1="387.7" y1="1080" x2="387.7" y2="1085" stroke="#000" stroke-width="1.6" />
<text x="387.7" y="1101.5" font-size="16" text-anchor="middle" fill="#000" >500</text>
<line x1="452.4" y1="1080" x2="452.4" y2="1085" stroke="#000" stroke-width="1.6" />
<text x="452.4" y="1101.5" font-size="16" text-anchor="middle" fill="#000" >600</text>
<line x1="517.1" y1="1080" x2="517.1" y2="1085" stroke="#000" stroke-width="1.6" />
<text x="517.1" y="1101.5" font-size="16" text-anchor="middle" fill="#000" >700</text>
<line x1="581.8" y1="1080" x2="581.8" y2="1085" stroke="#000" stroke-width="1.6" />
<text x="581.8" y="1101.5" font-size="16" text-anchor="middle" fill="#000" >800</text>
<line x1="646.5" y1="1080" x2="646.5" y2="1085" stroke="#000" stroke-width="1.6" />
<text x="646.5" y="1101.5" font-size="16" text-anchor="middle" fill="#000" >900</text>
<line x1="711.2" y1="1080" x2="711.2" y2="1085" stroke="#000" stroke-width="1.6" />
<text x="711.2" y="1101.5" font-size="16" text-anchor="middle" fill="#000" >1000</text>
<line x1="775.9" y1="1080" x2="775.9" y2="1085" stroke="#000" stroke-width="1.6" />
<text x="775.9" y="1101.5" font-size="16" text-anchor="middle" fill="#000" >1100</text>
<line x1="96.55" y1="1080" x2="96.55" y2="1082.8" stroke="#000" stroke-width="1.6" />
<line x1="161.25" y1="1080" x2="161.25" y2="1082.8" stroke="#000" stroke-width="1.6" />
<line x1="225.95" y1="1080" x2="225.95" y2="1082.8" stroke="#000" stroke-width="1.6" />
<line x1="290.65" y1="1080" x2="290.65" y2="1082.8" stroke="#000" stroke-width="1.6" />
<line x1="355.35" y1="1080" x2="355.35" y2="1082.8" stroke="#000" stroke-width="1.6" />
<line x1="420.05" y1="1080" x2="420.05" y2="1082.8" stroke="#000" stroke-width="1.6" />
<line x1="484.75" y1="1080" x2="484.75" y2="1082.8" stroke="#000" stroke-width="1.6" />
<line x1="549.45" y1="1080" x2="549.45" y2="1082.8" stroke="#000" stroke-width="1.6" />
<line x1="614.15" y1="1080" x2="614.15" y2="1082.8" stroke="#000" stroke-width="1.6" />
<line x1="678.85" y1="1080" x2="678.85" y2="1082.8" stroke="#000" stroke-width="1.6" />
<line x1="743.55" y1="1080" x2="743.55" y2="1082.8" stroke="#000" stroke-width="1.6" />
<line x1="770.9" y1="1079.9" x2="775.9" y2="1079.9" stroke="#000" stroke-width="1.6" />
<text x="781.5" y="1085.6" font-size="16" fill="#000" >50</text>
<line x1="770.9" y1="1037.48" x2="775.9" y2="1037.48" stroke="#000" stroke-width="1.6" />
<text x="781.5" y="1043.18" font-size="16" fill="#000" >60</text>
<line x1="770.9" y1="995.06" x2="775.9" y2="995.06" stroke="#000" stroke-width="1.6" />
<text x="781.5" y="1000.76" font-size="16" fill="#000" >70</text>
<line x1="770.9" y1="952.64" x2="775.9" y2="952.64" stroke="#000" stroke-width="1.6" />
<text x="781.5" y="958.34" font-size="16" fill="#000" >80</text>
<line x1="770.9" y1="910.22" x2="775.9" y2="910.22" stroke="#000" stroke-width="1.6" />
<text x="781.5" y="915.92" font-size="16" fill="#000" >90</text>
<line x1="770.9" y1="867.8" x2="775.9" y2="867.8" stroke="#000" stroke-width="1.6" />
<text x="781.5" y="873.5" font-size="16" fill="#000" >100</text>
<line x1="773.1" y1="1058.69" x2="775.9" y2="1058.69" stroke="#000" stroke-width="1.6" />
<line x1="773.1" y1="1016.27" x2="775.9" y2="1016.27" stroke="#000" stroke-width="1.6" />
<line x1="773.1" y1="973.85" x2="775.9" y2="973.85" stroke="#000" stroke-width="1.6" />
<line x1="773.1" y1="931.43" x2="775.9" y2="931.43" stroke="#000" stroke-width="1.6" />
<line x1="773.1" y1="889.01" x2="775.9" y2="889.01" stroke="#000" stroke-width="1.6" />
<text x="0" y="0" font-size="16" text-anchor="middle" transform="translate(25.9,979.8) rotate(-90)">Capacity (Ah L<tspan dy="-5" font-size="10.5">−1</tspan><tspan dy="5">)</tspan></text>
<text x="0" y="0" font-size="16" text-anchor="middle" transform="translate(820.2,979.4) rotate(-90)">Efficiency (%)</text>
<text x="399.4" y="1120.1" font-size="16" text-anchor="middle" fill="#000" >Cycle number</text>
<text x="288.2" y="921" font-size="16" fill="#000" >Galvanostatic-potentiostatic test</text>
<text x="737.8" y="891" font-size="16" text-anchor="end" fill="#000" >Coulombic efficiency</text>
<text x="737.5" y="962" font-size="16" text-anchor="end" fill="#000" >Energy efficiency</text>
<text x="663" y="920.6" font-size="16" fill="#000" >100 mA cm<tspan dy="-5" font-size="10.5">−2</tspan><tspan dy="5"></tspan></text>
<text x="668" y="1073.4" font-size="16" fill="#000" >pH14 SPEEK</text>
<line x1="739.5" y1="886.8" x2="762.19" y2="879.46" stroke="#000" stroke-width="1.15" />
<polygon points="769.8,877 761.21,882.93 762.38,879.4 759.36,877.22" fill="#000"/>
<line x1="740.6" y1="957" x2="763.84" y2="963.99" stroke="#000" stroke-width="1.15" />
<polygon points="771.5,966.3 761.06,966.29 764.03,964.05 762.79,960.55" fill="#000"/>
<polyline points="99.3,912.4 112.4,912.4 112.4,922.2" fill="none" stroke="#ff7300" stroke-width="3.1"/>
<polygon points="96.0,912.4 100.0,908.7 100.0,916.1" fill="#ff7300"/>
<circle cx="85.4" cy="1018" r="3.0" fill="#5ba6f4"/>
<text x="101.4" y="1023.4" font-size="16" fill="#000" >0.1 M 1,5-DHAQ</text>
<circle cx="85.4" cy="1048.4" r="3.0" fill="#f0716a"/>
<text x="101.4" y="1053.8" font-size="16" fill="#000" >0.1 M Cys-DHAQ</text>
<text x="239.5" y="1023.4" font-size="16" fill="#000" >Capacity fading rate: 0.0039% per cycle or 0.821% per day</text>
<text x="239.5" y="1053.8" font-size="16" fill="#000" >Capacity fading rate: 0.00038% per cycle or 0.086% per day</text>
<text x="-1" y="855.7" font-size="28" fill="#000" >g</text>
</svg>
</body></html>
